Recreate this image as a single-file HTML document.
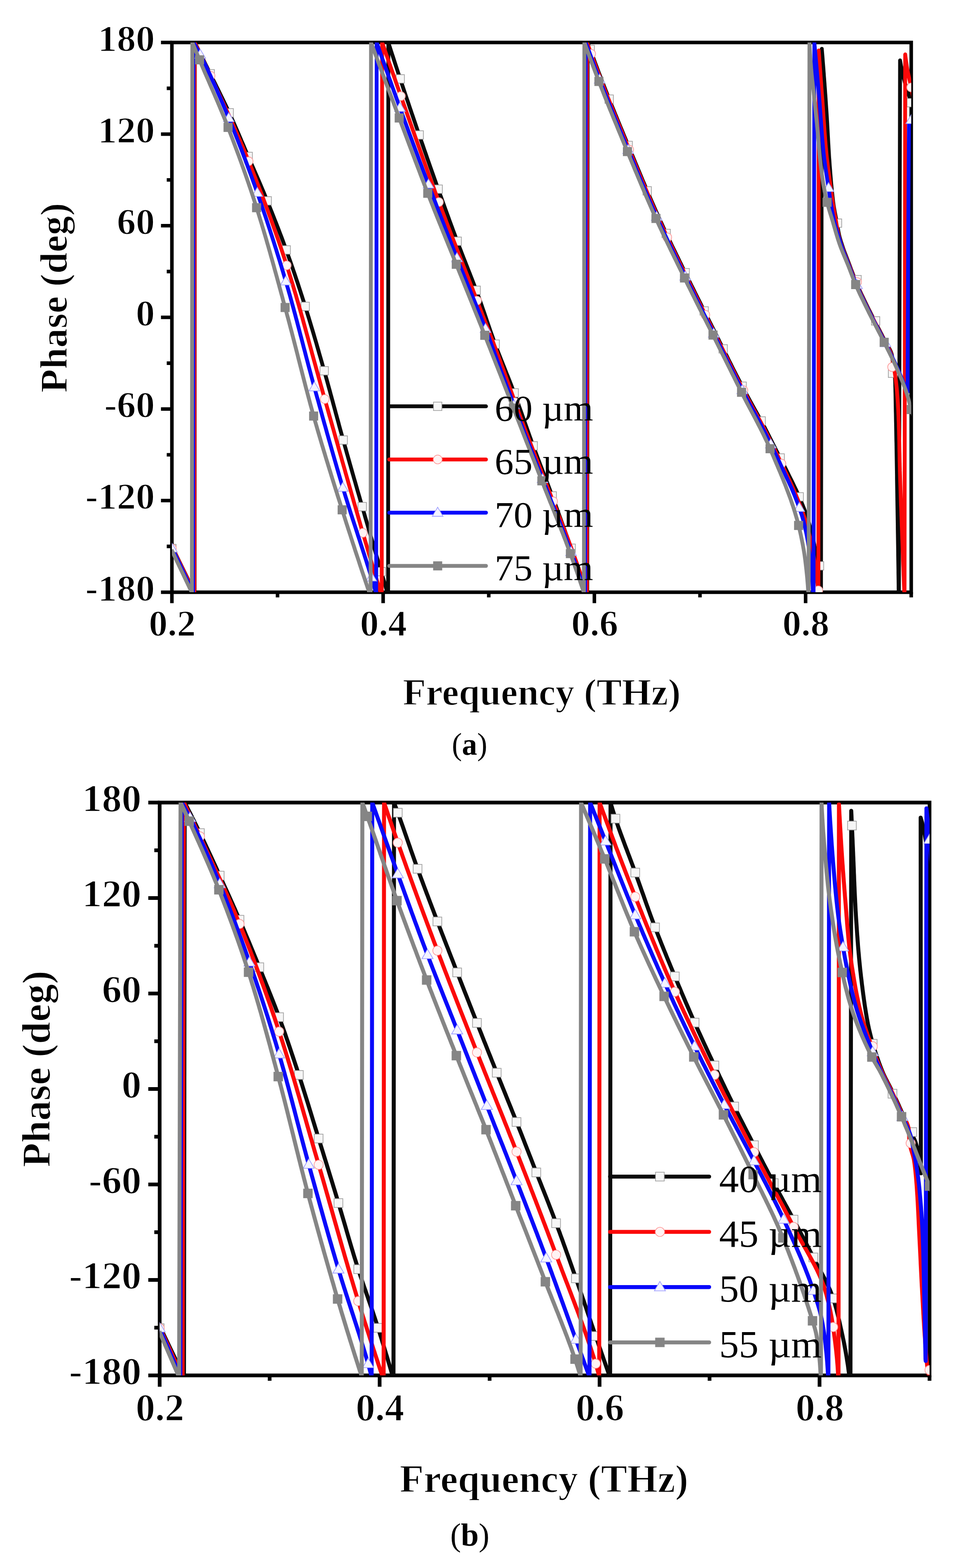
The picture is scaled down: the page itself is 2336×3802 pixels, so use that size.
<!DOCTYPE html>
<html lang="en">
<head>
<meta charset="utf-8">
<title>Phase versus frequency</title>
<style>
html,body{margin:0;padding:0;background:#fff;}
body{width:2336px;height:3802px;overflow:hidden;}
svg{display:block;}
svg text{font-family:"Liberation Serif","DejaVu Serif",serif;}
</style>
</head>
<body>
<svg width="2336" height="3802" viewBox="0 0 2336 3802" role="img" aria-label="Phase versus frequency plots (a) and (b)">
<rect x="0" y="0" width="2336" height="3802" fill="#fff"/>

<g id="plot-a">
<rect x="417" y="103" width="1793.4" height="1333" fill="none" stroke="#000" stroke-width="8.6"/>
<path d="M417 103H390.5 M417 214.1H404.5 M417 325.2H390.5 M417 436.2H404.5 M417 547.3H390.5 M417 658.4H404.5 M417 769.5H390.5 M417 880.6H404.5 M417 991.7H390.5 M417 1102.8H404.5 M417 1213.8H390.5 M417 1324.9H404.5 M417 1436H390.5 M417 1436V1462.5 M673.2 1436V1448.5 M929.4 1436V1462.5 M1185.6 1436V1448.5 M1441.8 1436V1462.5 M1698 1436V1448.5 M1954.2 1436V1462.5 M2210.4 1436V1448.5" stroke="#000" stroke-width="8.6" fill="none"/>
<clipPath id="clip-a"><rect x="417" y="103" width="1793.4" height="1333"/></clipPath>
<g clip-path="url(#clip-a)">
<path d="M419.5 1330 L471.5 1436 L472 1436 L472.5 103 L472.5 103 L475.2 108.4 L477.9 113.8 L480.5 119.2 L483.2 124.6 L485.9 130 L488.5 135.4 L491.2 140.8 L493.9 146.2 L496.5 151.6 L499.2 157 L501.9 162.4 L504.5 167.8 L507.2 173.2 L509.8 178.6 L510 179 L512.5 184 L515.1 189.4 L517.8 194.8 L520.5 200.2 L523.2 205.6 L525.8 211 L528.5 216.4 L531.2 221.8 L533.8 227.2 L536.5 232.7 L539.1 238.1 L541.8 243.5 L544.4 248.9 L547 254.3 L549.6 259.8 L552.2 265.2 L554.7 270.7 L556 273.5 L557.2 276.1 L559.7 281.6 L562.2 287.1 L564.6 292.6 L567.1 298.1 L569.5 303.6 L571.9 309.1 L574.3 314.7 L576.7 320.2 L579.1 325.7 L581.5 331.3 L583.9 336.8 L586.2 342.4 L588.6 347.9 L591 353.4 L593.3 359 L595.7 364.5 L598.1 370.1 L600.5 375.6 L601.5 378 L602.8 381.1 L605.2 386.6 L607.6 392.2 L610 397.7 L612.4 403.2 L614.9 408.7 L617.3 414.3 L619.7 419.8 L622.1 425.3 L624.5 430.8 L626.9 436.4 L629.2 441.9 L631.6 447.4 L634 453 L636.3 458.5 L638.7 464.1 L641 469.6 L643.3 475.2 L645.6 480.8 L647.9 486.3 L649 489 L650.2 491.9 L652.4 497.5 L654.7 503.1 L656.9 508.7 L659.2 514.3 L661.4 519.9 L663.6 525.5 L665.8 531.1 L668 536.7 L670.2 542.3 L672.4 547.9 L674.6 553.5 L676.8 559.1 L678.9 564.8 L681.1 570.4 L683.2 576 L685.3 581.7 L687.4 587.3 L689.5 593 L691.6 598.6 L693.6 604.3 L695.7 609.9 L696.3 611.7 L697.7 615.6 L699.7 621.3 L701.7 627 L703.7 632.6 L705.7 638.3 L707.7 644 L709.7 649.7 L711.6 655.4 L713.6 661.1 L715.5 666.8 L717.4 672.5 L719.3 678.2 L721.3 684 L723.2 689.7 L725 695.4 L726.9 701.1 L728.8 706.9 L730.6 712.6 L732.5 718.3 L734.3 724.1 L736.2 729.8 L738 735.5 L739.8 741.3 L741.6 747 L741.9 747.9 L743.4 752.8 L745.2 758.5 L747 764.3 L748.8 770 L750.5 775.8 L752.3 781.6 L754 787.3 L755.7 793.1 L757.5 798.9 L759.2 804.6 L760.9 810.4 L762.6 816.2 L764.3 822 L766 827.8 L767.7 833.5 L769.3 839.3 L771 845.1 L772.7 850.9 L774.3 856.7 L776 862.5 L777.7 868.3 L779.3 874.1 L781 879.9 L782.6 885.7 L784.3 891.5 L785.9 897.3 L786.7 900 L787.6 903 L789.2 908.8 L790.8 914.6 L792.5 920.4 L794.1 926.2 L795.7 932.1 L797.3 937.9 L798.9 943.7 L800.5 949.5 L802 955.3 L803.6 961.1 L805.2 966.9 L806.8 972.7 L808.3 978.5 L809.9 984.4 L811.5 990.2 L813.1 996 L814.6 1001.8 L816.2 1007.6 L817.8 1013.4 L819.4 1019.3 L821 1025.1 L822.5 1030.9 L824.1 1036.7 L825.7 1042.5 L827.3 1048.3 L828.9 1054.1 L830.5 1059.9 L831.6 1063.7 L832.2 1065.7 L833.8 1071.5 L835.4 1077.3 L837 1083.1 L838.7 1088.9 L840.3 1094.7 L841.9 1100.5 L843.6 1106.3 L845.2 1112.1 L846.9 1117.9 L848.5 1123.7 L850.2 1129.5 L851.8 1135.3 L853.5 1141.1 L855.1 1146.9 L856.8 1152.7 L858.4 1158.4 L860.1 1164.2 L861.8 1170 L863.4 1175.8 L865.1 1181.6 L866.7 1187.4 L868.4 1193.2 L870.1 1199 L871.8 1204.8 L873.4 1210.6 L875.1 1216.3 L876.8 1222.1 L878 1226.4 L878.4 1227.9 L880.1 1233.7 L881.8 1239.5 L883.5 1245.3 L885.1 1251.1 L886.8 1256.8 L888.5 1262.6 L890.2 1268.4 L891.9 1274.2 L893.5 1280 L895.2 1285.8 L896.9 1291.5 L898.6 1297.3 L900.3 1303.1 L902 1308.9 L903.7 1314.7 L905.4 1320.5 L907.1 1326.2 L908.8 1332 L910.5 1337.8 L912.1 1343.6 L913.8 1349.4 L915.5 1355.1 L917.2 1360.9 L919 1366.7 L920.7 1372.5 L922.4 1378.2 L924.1 1384 L925.8 1389.8 L927.5 1395.6 L929.2 1401.4 L930.9 1407.1 L932.6 1412.9 L934.3 1418.7 L936.1 1424.5 L937.8 1430.2 L939.5 1436 L941.5 1436 L942 103 L942 103 L943.8 108.7 L945.7 114.4 L947.5 120.2 L949.4 125.9 L951.2 131.6 L953.1 137.3 L954.9 143 L956.8 148.7 L958.6 154.4 L960.5 160.1 L962.4 165.9 L964.3 171.6 L966.1 177.3 L968 183 L969.9 188.7 L971.8 194.4 L972 195 L973.7 200.1 L975.6 205.8 L977.5 211.5 L979.4 217.2 L981.3 222.9 L983.2 228.6 L985.1 234.3 L987 239.9 L989 245.6 L990.9 251.3 L992.8 257 L994.7 262.7 L996.7 268.4 L998.6 274.1 L1000.6 279.8 L1002.5 285.5 L1004.4 291.1 L1006.4 296.8 L1008.3 302.5 L1010.3 308.2 L1012.2 313.9 L1014.2 319.5 L1016.1 325.2 L1018.1 330.9 L1018.9 333.2 L1020.1 336.6 L1022 342.3 L1024 347.9 L1026 353.6 L1027.9 359.3 L1029.9 365 L1031.9 370.6 L1033.9 376.3 L1035.8 382 L1037.8 387.6 L1039.8 393.3 L1041.8 399 L1043.8 404.7 L1045.8 410.3 L1047.8 416 L1049.8 421.6 L1051.8 427.3 L1053.8 433 L1055.8 438.6 L1057.8 444.3 L1059.8 449.9 L1061.9 455.6 L1063.9 461.3 L1064.5 463 L1065.9 466.9 L1067.9 472.6 L1070 478.2 L1072 483.9 L1074 489.5 L1076.1 495.2 L1078.1 500.8 L1080.2 506.5 L1082.2 512.1 L1084.3 517.8 L1086.3 523.4 L1088.4 529.1 L1090.4 534.7 L1092.5 540.3 L1094.6 546 L1096.7 551.6 L1098.7 557.3 L1100.8 562.9 L1102.9 568.5 L1105 574.1 L1107.1 579.8 L1109.2 585.4 L1110.2 588 L1111.3 591 L1113.5 596.6 L1115.6 602.2 L1117.8 607.8 L1119.9 613.4 L1122.1 619 L1124.3 624.6 L1126.5 630.2 L1128.7 635.8 L1130.9 641.4 L1133.1 647 L1135.3 652.6 L1137.5 658.2 L1139.7 663.8 L1141.9 669.4 L1144.1 675 L1146.3 680.6 L1148.4 686.2 L1150.6 691.8 L1152.7 697.4 L1154.8 703 L1156.9 708.6 L1157.8 711 L1159 714.3 L1161.1 719.9 L1163.1 725.6 L1165.1 731.2 L1167.1 736.9 L1169.1 742.6 L1171 748.2 L1173 753.9 L1175 759.6 L1176.9 765.3 L1178.9 771 L1180.8 776.7 L1182.7 782.3 L1184.7 788 L1186.7 793.7 L1188.6 799.4 L1190.6 805 L1192.6 810.7 L1194.6 816.4 L1196.6 822 L1198.7 827.7 L1200.7 833.3 L1201 834 L1202.8 838.9 L1205 844.6 L1207.1 850.2 L1209.2 855.8 L1211.4 861.4 L1213.6 867 L1215.8 872.6 L1218 878.1 L1220.2 883.7 L1222.5 889.3 L1224.7 894.9 L1226.9 900.5 L1229.1 906.1 L1231.4 911.6 L1233.6 917.2 L1235.8 922.8 L1238 928.4 L1240.2 934 L1242.3 939.6 L1244.5 945.2 L1246.6 950.8 L1248 954.5 L1248.7 956.4 L1250.8 962.1 L1252.9 967.7 L1254.9 973.4 L1257 979 L1259 984.7 L1261.1 990.3 L1263.1 996 L1265.1 1001.6 L1267.1 1007.3 L1269.1 1013 L1271.1 1018.6 L1273.1 1024.3 L1275.1 1030 L1277.1 1035.6 L1279.1 1041.3 L1281.1 1046.9 L1283.1 1052.6 L1285.1 1058.3 L1287.2 1063.9 L1289.2 1069.6 L1291.2 1075.2 L1293.3 1080.9 L1293.7 1081.9 L1295.4 1086.5 L1297.5 1092.1 L1299.6 1097.7 L1301.7 1103.4 L1303.8 1109 L1306 1114.6 L1308.1 1120.2 L1310.2 1125.8 L1312.4 1131.4 L1314.5 1137 L1316.7 1142.7 L1318.9 1148.3 L1321 1153.9 L1323.2 1159.5 L1325.3 1165.1 L1327.4 1170.7 L1329.6 1176.3 L1331.7 1181.9 L1333.8 1187.5 L1336 1193.2 L1338.1 1198.8 L1340 1204 L1340.2 1204.4 L1342.2 1210.1 L1344.3 1215.7 L1346.4 1221.3 L1348.5 1227 L1350.5 1232.6 L1352.6 1238.3 L1354.7 1243.9 L1356.7 1249.5 L1358.8 1255.2 L1360.8 1260.8 L1362.8 1266.5 L1364.9 1272.1 L1366.9 1277.8 L1369 1283.4 L1371 1289.1 L1373 1294.7 L1375.1 1300.4 L1377.1 1306 L1379.2 1311.7 L1381.2 1317.3 L1383.2 1323 L1385.3 1328.6 L1387 1333.4 L1387.3 1334.3 L1389.4 1339.9 L1391.4 1345.6 L1393.4 1351.2 L1395.5 1356.9 L1397.5 1362.5 L1399.6 1368.2 L1401.6 1373.8 L1403.6 1379.5 L1405.7 1385.1 L1407.7 1390.8 L1409.8 1396.4 L1411.8 1402.1 L1413.8 1407.7 L1415.9 1413.4 L1417.9 1419 L1419.9 1424.7 L1422 1430.3 L1424 1436 L1424.5 1436 L1425.5 103 L1425.5 103 L1427.5 108.7 L1429.6 114.3 L1431.7 120 L1433.7 125.6 L1435.8 131.2 L1437.9 136.9 L1440 142.5 L1442.1 148.1 L1444.2 153.8 L1446.3 159.4 L1446.9 161 L1448.4 165 L1450.5 170.6 L1452.7 176.3 L1454.8 181.9 L1457 187.5 L1459.1 193.1 L1461.3 198.7 L1463.5 204.3 L1465.7 209.9 L1467.9 215.5 L1469.2 218.9 L1470.1 221.1 L1472.3 226.7 L1474.5 232.3 L1476.7 237.9 L1479 243.4 L1481.2 249 L1483.4 254.6 L1485.7 260.2 L1488 265.7 L1490.2 271.3 L1492.5 276.9 L1492.5 276.9 L1494.8 282.4 L1497 288 L1499.3 293.6 L1501.6 299.1 L1503.9 304.7 L1506.2 310.2 L1508.5 315.8 L1510.8 321.3 L1513.1 326.9 L1515.4 332.5 L1516.4 334.8 L1517.7 338 L1520 343.6 L1522.3 349.1 L1524.6 354.7 L1526.9 360.2 L1529.2 365.8 L1531.5 371.3 L1533.9 376.9 L1536.2 382.4 L1538.5 387.9 L1540.5 392.8 L1540.8 393.5 L1543.1 399 L1545.4 404.6 L1547.7 410.1 L1550.1 415.7 L1552.4 421.2 L1554.7 426.8 L1557 432.3 L1559.3 437.9 L1561.7 443.4 L1564 448.9 L1564.8 450.7 L1566.4 454.5 L1568.7 460 L1571.1 465.5 L1573.4 471.1 L1575.8 476.6 L1578.2 482.1 L1580.6 487.6 L1583 493.1 L1585.4 498.7 L1587.8 504.2 L1589.8 508.7 L1590.2 509.7 L1592.7 515.1 L1595.1 520.6 L1597.6 526.1 L1600.1 531.6 L1602.6 537.1 L1605.1 542.5 L1607.6 548 L1610.1 553.4 L1612.6 558.9 L1615.2 564.3 L1616.3 566.7 L1617.7 569.8 L1620.3 575.2 L1622.9 580.6 L1625.5 586.1 L1628.1 591.5 L1630.7 596.9 L1633.3 602.3 L1636 607.7 L1638.6 613.1 L1641.2 618.5 L1643.9 623.9 L1644.2 624.6 L1646.5 629.3 L1649.1 634.7 L1651.8 640.1 L1654.4 645.5 L1657 650.9 L1659.7 656.3 L1662.3 661.7 L1665 667.1 L1667.7 672.5 L1670.3 677.9 L1672.6 682.6 L1673 683.3 L1675.6 688.7 L1678.3 694.1 L1681 699.4 L1683.7 704.8 L1686.3 710.2 L1689 715.6 L1691.7 721 L1694.4 726.4 L1697.1 731.7 L1699.8 737.1 L1701.5 740.5 L1702.4 742.5 L1705.1 747.9 L1707.8 753.2 L1710.5 758.6 L1713.2 764 L1715.9 769.3 L1718.6 774.7 L1721.3 780.1 L1724 785.4 L1726.7 790.8 L1729.4 796.2 L1730.6 798.5 L1732.1 801.6 L1734.8 806.9 L1737.5 812.3 L1740.2 817.7 L1742.9 823.1 L1745.5 828.5 L1748.2 833.8 L1750.9 839.2 L1753.6 844.6 L1756.3 850 L1759 855.4 L1759.5 856.4 L1761.7 860.7 L1764.4 866.1 L1767 871.5 L1769.7 876.9 L1772.4 882.2 L1775.1 887.6 L1777.8 893 L1780.5 898.3 L1783.3 903.7 L1786 909 L1788.8 914.4 L1788.8 914.4 L1791.5 919.7 L1794.3 925 L1797.1 930.4 L1799.9 935.7 L1802.7 941 L1805.5 946.3 L1808.4 951.6 L1811.2 956.9 L1814.1 962.2 L1816.9 967.5 L1819.5 972.3 L1819.8 972.8 L1822.7 978.1 L1825.6 983.3 L1828.5 988.6 L1831.4 993.8 L1834.4 999.1 L1837.3 1004.3 L1840.2 1009.6 L1843.2 1014.8 L1846.1 1020.1 L1848.9 1025.4 L1851.6 1030.3 L1851.8 1030.7 L1854.6 1036 L1857.3 1041.3 L1860.1 1046.7 L1862.8 1052 L1865.5 1057.4 L1868.2 1062.8 L1870.9 1068.1 L1873.6 1073.5 L1876.3 1078.9 L1879 1084.2 L1881.1 1088.3 L1881.7 1089.6 L1884.5 1094.9 L1887.2 1100.3 L1890 1105.6 L1892.7 1111 L1895.5 1116.3 L1898.2 1121.7 L1901 1127 L1903.7 1132.4 L1906.4 1137.7 L1909.1 1143.1 L1910.6 1146.2 L1911.8 1148.5 L1914.4 1153.9 L1917.1 1159.3 L1919.8 1164.7 L1922.5 1170.1 L1925.1 1175.5 L1927.7 1180.9 L1930.3 1186.3 L1932.9 1191.8 L1935.3 1197.2 L1937.7 1202.7 L1938.4 1204.2 L1940.1 1208.2 L1942.4 1213.8 L1944.8 1219.3 L1947.1 1224.9 L1949.3 1230.5 L1951.5 1236.1 L1953.6 1241.7 L1955.7 1247.4 L1957.7 1253.1 L1959.5 1258.8 L1960.6 1262.1 L1961.3 1264.5 L1963 1270.2 L1964.6 1276 L1966.2 1281.8 L1967.7 1287.7 L1969.1 1293.5 L1970.6 1299.4 L1971.9 1305.2 L1973.2 1311.1 L1974.4 1317 L1975.1 1320.1 L1975.6 1322.9 L1976.8 1328.8 L1977.9 1334.7 L1979 1340.6 L1980 1346.5 L1981 1352.4 L1982 1358.4 L1982.9 1364.3 L1983.7 1370.3 L1984.6 1376.2 L1984.8 1378 L1985.3 1382.2 L1986.1 1388.1 L1986.8 1394.1 L1987.5 1400.1 L1988.2 1406.1 L1988.8 1412 L1989.4 1418 L1990 1424 L1990.5 1430 L1991 1436 L1991.5 1436 L1993.5 118.5 L1993.5 118.5 L1994 124.5 L1994.5 130.5 L1995 136.5 L1995.5 142.5 L1995.9 148.5 L1996.4 154.5 L1996.9 160.5 L1997.4 166.5 L1997.8 172.5 L1998.3 178.5 L1998.7 184.5 L1999.2 190.5 L1999.6 196.5 L2000.1 202.5 L2000.5 208.5 L2001 214.5 L2001.4 220.5 L2001.8 226.5 L2002.3 232.5 L2002.7 238.5 L2003.1 244.5 L2003.5 250.5 L2003.9 256.5 L2004.3 262.5 L2004.5 265 L2004.7 268.5 L2005.1 274.5 L2005.5 280.5 L2005.9 286.5 L2006.2 292.5 L2006.6 298.6 L2006.9 304.6 L2007.2 310.6 L2007.6 316.6 L2007.9 322.6 L2008.2 328.6 L2008.6 334.6 L2008.9 340.6 L2009.2 346.6 L2009.6 352.6 L2009.9 358.6 L2010.3 364.7 L2010.7 370.7 L2011 376.7 L2011.4 382.7 L2011.9 388.7 L2012.3 394.7 L2012.5 397.5 L2012.7 400.7 L2013.2 406.7 L2013.7 412.7 L2014.1 418.7 L2014.6 424.7 L2015.1 430.7 L2015.6 436.7 L2016.1 442.7 L2016.7 448.7 L2017.3 454.7 L2017.8 460.7 L2018.5 466.7 L2019.1 472.6 L2019.8 478.6 L2020.5 484.6 L2021.2 490.5 L2021.5 492.7 L2022 496.5 L2022.9 502.4 L2024 508.4 L2025.1 514.3 L2026.2 520.2 L2027.4 526.1 L2028.6 532 L2029.5 537 L2029.7 537.9 L2030.7 543.9 L2031.7 549.8 L2032.8 555.7 L2033.9 561.7 L2035.1 567.5 L2035.6 570 L2036.4 573.4 L2038 579.2 L2039.7 584.9 L2041.6 590.7 L2043.5 596.4 L2045.4 602.1 L2045.4 602.2 L2047.4 607.8 L2049.5 613.4 L2051.7 619 L2053.9 624.6 L2056.1 630.3 L2057.7 634.4 L2058.2 635.9 L2060.3 641.5 L2062.4 647.2 L2064.5 652.8 L2066.7 658.4 L2068.8 664 L2069.9 666.7 L2071 669.6 L2073.2 675.2 L2075.5 680.8 L2077.7 686.4 L2080 692 L2082.4 697.5 L2083 698.9 L2084.8 703 L2087.3 708.5 L2089.9 713.9 L2092.5 719.3 L2095.1 724.8 L2097.7 730.2 L2098.2 731.1 L2100.3 735.6 L2103 741 L2105.6 746.4 L2108.3 751.8 L2111 757.2 L2113.7 762.6 L2114.1 763.3 L2116.4 767.9 L2119.2 773.3 L2121.9 778.6 L2124.7 784 L2127.5 789.3 L2130.2 794.7 L2130.7 795.6 L2133 800 L2135.7 805.4 L2138.5 810.7 L2141.2 816.1 L2144 821.4 L2146.7 826.8 L2147.2 827.8 L2149.6 832.1 L2152.7 837.4 L2155.9 842.7 L2158.8 848 L2161.3 853.5 L2163.1 859 L2163.3 860 L2164.1 864.8 L2164.9 870.8 L2165.6 876.9 L2166 880 L2166.5 882.8 L2167.7 888.7 L2169 894.6 L2170.1 900.6 L2170.5 905 L2170.6 906.5 L2170.9 912.5 L2171.1 918.5 L2171.4 924.5 L2171.6 930.5 L2171.7 936.5 L2171.9 942.5 L2172 948.5 L2172.2 954.6 L2172.3 960.6 L2172.4 966.6 L2172.5 972.6 L2172.6 978.7 L2172.7 984.7 L2172.8 990.7 L2172.9 996.8 L2173 1000 L2173.1 1002.8 L2173.2 1008.8 L2173.3 1014.8 L2173.4 1020.8 L2173.6 1026.8 L2173.7 1032.9 L2173.8 1038.9 L2173.9 1044.9 L2174 1050.9 L2174.1 1056.9 L2174.2 1062.9 L2174.3 1069 L2174.5 1075 L2174.6 1081 L2174.7 1087 L2174.8 1093 L2174.9 1099 L2175 1105.1 L2175.1 1111.1 L2175.2 1117.1 L2175.3 1123.1 L2175.4 1129.1 L2175.5 1135.1 L2175.6 1141.2 L2175.7 1147.2 L2175.8 1153.2 L2175.8 1159.2 L2175.9 1165.2 L2176 1171.3 L2176.1 1177.3 L2176.2 1183.3 L2176.3 1189.3 L2176.4 1195.3 L2176.5 1200 L2176.5 1201.3 L2176.6 1207.4 L2176.7 1213.4 L2176.8 1219.4 L2176.9 1225.4 L2177 1231.4 L2177.1 1237.4 L2177.2 1243.5 L2177.3 1249.5 L2177.4 1255.5 L2177.5 1261.5 L2177.6 1267.5 L2177.7 1273.5 L2177.7 1279.6 L2177.8 1285.6 L2177.9 1291.6 L2178 1297.6 L2178.1 1303.6 L2178.2 1309.6 L2178.3 1315.7 L2178.4 1321.7 L2178.5 1327.7 L2178.6 1333.7 L2178.7 1339.7 L2178.7 1345.7 L2178.8 1351.8 L2178.9 1357.8 L2179 1363.8 L2179.1 1369.8 L2179.2 1375.8 L2179.3 1381.8 L2179.3 1387.9 L2179.4 1393.9 L2179.5 1399.9 L2179.6 1405.9 L2179.7 1411.9 L2179.8 1417.9 L2179.8 1424 L2179.9 1430 L2180 1436 L2180.6 1436 L2183.3 146.5 L2183.3 146.5 L2184.4 152.6 L2185.5 158.7 L2186.8 164.8 L2188 170.9 L2189.4 176.9 L2190.8 182.9 L2192.2 189 L2193.7 195 L2195 200 L2195.2 200.9 L2196.9 206.9 L2198.7 212.8 L2200.6 218.7 L2202.5 224.6 L2204.5 230.5 L2206.4 236.4 L2208.3 242.3 L2210.2 248.2 L2210.4 249 L2211.9 254.1 L2213.6 260.1 L2215.3 266 L2217 272" fill="none" stroke="#0a0a0a" stroke-width="9.3" stroke-linejoin="round"/>
<rect x="406.8" y="1319.8" width="20.4" height="20.4" fill="#f6f6f6" stroke="#9a9a9a" stroke-width="1.6"/>
<rect x="499.7" y="168.6" width="20.4" height="20.4" fill="#f6f6f6" stroke="#9a9a9a" stroke-width="1.6"/>
<rect x="545.8" y="263.3" width="20.4" height="20.4" fill="#f6f6f6" stroke="#9a9a9a" stroke-width="1.6"/>
<rect x="591.9" y="369.2" width="20.4" height="20.4" fill="#f6f6f6" stroke="#9a9a9a" stroke-width="1.6"/>
<rect x="638" y="476.8" width="20.4" height="20.4" fill="#f6f6f6" stroke="#9a9a9a" stroke-width="1.6"/>
<rect x="684.1" y="595.8" width="20.4" height="20.4" fill="#f6f6f6" stroke="#9a9a9a" stroke-width="1.6"/>
<rect x="730.1" y="732.7" width="20.4" height="20.4" fill="#f6f6f6" stroke="#9a9a9a" stroke-width="1.6"/>
<rect x="776.2" y="888.8" width="20.4" height="20.4" fill="#f6f6f6" stroke="#9a9a9a" stroke-width="1.6"/>
<rect x="822.3" y="1056.8" width="20.4" height="20.4" fill="#f6f6f6" stroke="#9a9a9a" stroke-width="1.6"/>
<rect x="868.4" y="1218.3" width="20.4" height="20.4" fill="#f6f6f6" stroke="#9a9a9a" stroke-width="1.6"/>
<rect x="914.5" y="1375.9" width="20.4" height="20.4" fill="#f6f6f6" stroke="#9a9a9a" stroke-width="1.6"/>
<rect x="960.6" y="181.1" width="20.4" height="20.4" fill="#f6f6f6" stroke="#9a9a9a" stroke-width="1.6"/>
<rect x="1006.7" y="317.1" width="20.4" height="20.4" fill="#f6f6f6" stroke="#9a9a9a" stroke-width="1.6"/>
<rect x="1052.7" y="448.5" width="20.4" height="20.4" fill="#f6f6f6" stroke="#9a9a9a" stroke-width="1.6"/>
<rect x="1098.8" y="574.7" width="20.4" height="20.4" fill="#f6f6f6" stroke="#9a9a9a" stroke-width="1.6"/>
<rect x="1144.9" y="693.6" width="20.4" height="20.4" fill="#f6f6f6" stroke="#9a9a9a" stroke-width="1.6"/>
<rect x="1191" y="824.3" width="20.4" height="20.4" fill="#f6f6f6" stroke="#9a9a9a" stroke-width="1.6"/>
<rect x="1237.1" y="942.4" width="20.4" height="20.4" fill="#f6f6f6" stroke="#9a9a9a" stroke-width="1.6"/>
<rect x="1283.2" y="1070.8" width="20.4" height="20.4" fill="#f6f6f6" stroke="#9a9a9a" stroke-width="1.6"/>
<rect x="1329.3" y="1192.3" width="20.4" height="20.4" fill="#f6f6f6" stroke="#9a9a9a" stroke-width="1.6"/>
<rect x="1375.3" y="1319.2" width="20.4" height="20.4" fill="#f6f6f6" stroke="#9a9a9a" stroke-width="1.6"/>
<rect x="1421.4" y="109.7" width="20.4" height="20.4" fill="#f6f6f6" stroke="#9a9a9a" stroke-width="1.6"/>
<rect x="1467.5" y="230.2" width="20.4" height="20.4" fill="#f6f6f6" stroke="#9a9a9a" stroke-width="1.6"/>
<rect x="1513.6" y="342.5" width="20.4" height="20.4" fill="#f6f6f6" stroke="#9a9a9a" stroke-width="1.6"/>
<rect x="1559.7" y="452.5" width="20.4" height="20.4" fill="#f6f6f6" stroke="#9a9a9a" stroke-width="1.6"/>
<rect x="1605.8" y="555.8" width="20.4" height="20.4" fill="#f6f6f6" stroke="#9a9a9a" stroke-width="1.6"/>
<rect x="1651.9" y="651" width="20.4" height="20.4" fill="#f6f6f6" stroke="#9a9a9a" stroke-width="1.6"/>
<rect x="1697.9" y="743.7" width="20.4" height="20.4" fill="#f6f6f6" stroke="#9a9a9a" stroke-width="1.6"/>
<rect x="1744" y="835.7" width="20.4" height="20.4" fill="#f6f6f6" stroke="#9a9a9a" stroke-width="1.6"/>
<rect x="1790.1" y="926.3" width="20.4" height="20.4" fill="#f6f6f6" stroke="#9a9a9a" stroke-width="1.6"/>
<rect x="1836.2" y="1010.5" width="20.4" height="20.4" fill="#f6f6f6" stroke="#9a9a9a" stroke-width="1.6"/>
<rect x="1882.3" y="1100.3" width="20.4" height="20.4" fill="#f6f6f6" stroke="#9a9a9a" stroke-width="1.6"/>
<rect x="1928.4" y="1194.5" width="20.4" height="20.4" fill="#f6f6f6" stroke="#9a9a9a" stroke-width="1.6"/>
<rect x="1977.8" y="1361.8" width="20.4" height="20.4" fill="#f6f6f6" stroke="#9a9a9a" stroke-width="1.6"/>
<rect x="2021.3" y="530.8" width="20.4" height="20.4" fill="#f6f6f6" stroke="#9a9a9a" stroke-width="1.6"/>
<rect x="2068.8" y="667.8" width="20.4" height="20.4" fill="#f6f6f6" stroke="#9a9a9a" stroke-width="1.6"/>
<rect x="2113.8" y="767.8" width="20.4" height="20.4" fill="#f6f6f6" stroke="#9a9a9a" stroke-width="1.6"/>
<rect x="2154.8" y="894.8" width="20.4" height="20.4" fill="#f6f6f6" stroke="#9a9a9a" stroke-width="1.6"/>
<rect x="2200.2" y="238.8" width="20.4" height="20.4" fill="#f6f6f6" stroke="#9a9a9a" stroke-width="1.6"/>
<path d="M419 1330 L471 1436 L471.5 1436 L472 103 L472 103 L474.7 108.4 L477.3 113.8 L479.9 119.2 L482.6 124.7 L485.2 130.1 L487.9 135.5 L490.5 140.9 L493.1 146.3 L495.7 151.8 L498.3 157.2 L500.9 162.7 L503.5 168.1 L506 173.6 L508.6 179 L509.5 181 L511.1 184.5 L513.7 189.9 L516.2 195.4 L518.7 200.9 L521.3 206.3 L523.8 211.8 L526.4 217.3 L528.9 222.7 L531.5 228.2 L534 233.7 L536.5 239.1 L539 244.6 L541.6 250.1 L544.1 255.6 L546.6 261 L549.1 266.5 L551.6 272 L554.1 277.5 L556.6 283 L559.1 288.5 L561.6 294 L564 299.5 L566.5 305 L568.9 310.5 L571.4 316 L573.8 321.5 L576.2 327 L578.6 332.6 L581 338.1 L583.4 343.6 L585.7 349.2 L588.1 354.7 L590.4 360.3 L592.8 365.8 L595.1 371.4 L597.4 376.9 L599.7 382.5 L601.9 388.1 L602.5 389.5 L604.2 393.6 L606.4 399.2 L608.7 404.8 L610.9 410.4 L613.1 416 L615.3 421.6 L617.5 427.2 L619.8 432.8 L621.9 438.4 L624.1 444 L626.3 449.7 L628.5 455.3 L630.7 460.9 L632.8 466.5 L635 472.2 L637.1 477.8 L639.3 483.4 L641.4 489.1 L643.5 494.7 L645.6 500.4 L647.7 506 L649.8 511.7 L651.9 517.4 L654 523 L656.1 528.7 L658.1 534.4 L660.2 540 L662.2 545.7 L664.2 551.4 L666.2 557.1 L668.3 562.8 L670.2 568.4 L672.2 574.1 L674.2 579.8 L676.2 585.5 L678.1 591.2 L680.1 596.9 L682 602.6 L683.9 608.3 L685.8 614 L687.7 619.8 L689.6 625.5 L691.5 631.2 L693.4 636.9 L695.2 642.6 L695.5 643.5 L697.1 648.4 L698.9 654.1 L700.7 659.8 L702.5 665.6 L704.3 671.3 L706.1 677.1 L707.8 682.8 L709.6 688.6 L711.3 694.3 L713 700.1 L714.7 705.9 L716.5 711.6 L718.2 717.4 L719.8 723.2 L721.5 729 L723.2 734.8 L724.9 740.6 L726.5 746.4 L728.2 752.1 L729.8 757.9 L731.4 763.7 L733.1 769.5 L734.7 775.3 L736.3 781.2 L737.9 787 L739.5 792.8 L741.1 798.6 L742.7 804.4 L744.3 810.2 L745.9 816 L747.5 821.8 L749.1 827.7 L750.7 833.5 L752.3 839.3 L753.9 845.1 L755.5 850.9 L757 856.8 L758.6 862.6 L760.2 868.4 L761.8 874.2 L763.4 880 L765 885.8 L766.6 891.7 L768.2 897.5 L769.8 903.3 L771.4 909.1 L773 914.9 L774.6 920.7 L776.2 926.5 L777.8 932.3 L779.4 938.1 L781.1 943.9 L782.7 949.7 L784.3 955.5 L785.6 960 L786 961.3 L787.6 967.1 L789.3 972.9 L790.9 978.7 L792.6 984.5 L794.2 990.3 L795.9 996.1 L797.5 1001.9 L799.1 1007.7 L800.8 1013.5 L802.4 1019.3 L804 1025.1 L805.7 1030.9 L807.3 1036.7 L809 1042.5 L810.6 1048.3 L812.2 1054.1 L813.9 1059.9 L815.5 1065.7 L817.1 1071.5 L818.8 1077.3 L820.4 1083.1 L822 1088.9 L823.7 1094.7 L825.3 1100.5 L827 1106.3 L828.6 1112.1 L830.2 1117.9 L831.9 1123.7 L833.5 1129.5 L835.2 1135.3 L836.8 1141.1 L838.4 1146.9 L840.1 1152.7 L841.7 1158.5 L843.4 1164.3 L845 1170.1 L846.7 1175.8 L848.3 1181.6 L850 1187.4 L851.6 1193.2 L853.3 1199 L854.9 1204.8 L856.6 1210.6 L858.2 1216.4 L859.9 1222.2 L861.6 1228 L863.2 1233.8 L864.9 1239.6 L866.6 1245.4 L868.2 1251.1 L869.9 1256.9 L871.6 1262.7 L873.3 1268.5 L874.9 1274.3 L876.6 1280.1 L878 1284.8 L878.3 1285.9 L880 1291.6 L881.7 1297.4 L883.4 1303.2 L885.1 1309 L886.8 1314.8 L888.5 1320.5 L890.2 1326.3 L891.9 1332.1 L893.6 1337.9 L895.3 1343.7 L897 1349.4 L898.8 1355.2 L900.5 1361 L902.2 1366.8 L903.9 1372.5 L905.7 1378.3 L907.4 1384.1 L909.1 1389.8 L910.8 1395.6 L912.6 1401.4 L914.3 1407.2 L916 1412.9 L917.8 1418.7 L919.5 1424.5 L921.3 1430.2 L923 1436 L926 1436 L927 103 L927 103 L929 108.7 L930.9 114.3 L932.9 120 L934.9 125.7 L936.8 131.4 L938.8 137 L940.8 142.7 L942.7 148.4 L944.7 154 L946.7 159.7 L948.6 165.4 L950.6 171 L952.6 176.7 L954.6 182.4 L956.6 188 L958.6 193.7 L960.5 199.4 L962.5 205 L964.5 210.7 L966.5 216.3 L968.5 222 L970.5 227.7 L972.5 233.3 L973.3 235.6 L974.5 239 L976.5 244.6 L978.5 250.3 L980.5 256 L982.5 261.6 L984.5 267.3 L986.5 272.9 L988.5 278.6 L990.5 284.3 L992.5 289.9 L994.5 295.6 L996.5 301.2 L998.5 306.9 L1000.5 312.6 L1002.5 318.2 L1004.5 323.9 L1006.5 329.5 L1008.5 335.2 L1010.6 340.8 L1012.6 346.5 L1014.6 352.1 L1016.6 357.8 L1018.6 363.4 L1020.6 369.1 L1022.7 374.8 L1024.7 380.4 L1026.7 386.1 L1028.7 391.7 L1030.8 397.3 L1032.8 403 L1034.9 408.6 L1036.9 414.3 L1038.9 419.9 L1041 425.6 L1043 431.2 L1045.1 436.8 L1047.2 442.5 L1049.2 448.1 L1051.3 453.8 L1053.4 459.4 L1055.4 465 L1057.5 470.6 L1059.6 476.3 L1061.7 481.9 L1063.8 487.5 L1064.5 489.5 L1065.9 493.1 L1068 498.8 L1070.1 504.4 L1072.2 510 L1074.3 515.6 L1076.4 521.2 L1078.6 526.8 L1080.7 532.4 L1082.8 538.1 L1085 543.7 L1087.1 549.3 L1089.3 554.9 L1091.4 560.5 L1093.6 566.1 L1095.8 571.7 L1097.9 577.3 L1100.1 582.9 L1102.3 588.4 L1104.5 594 L1106.6 599.6 L1108.8 605.2 L1111 610.8 L1113.2 616.4 L1115.4 622 L1117.6 627.6 L1119.7 633.2 L1121.9 638.8 L1124.1 644.4 L1126.3 649.9 L1128.5 655.5 L1130.7 661.1 L1132.9 666.7 L1135.1 672.3 L1137.2 677.9 L1139.4 683.5 L1141.6 689.1 L1143.8 694.7 L1146 700.3 L1148.1 705.9 L1150.3 711.5 L1152.5 717.1 L1154.6 722.6 L1156.8 728.2 L1157.8 730.8 L1159 733.8 L1161.1 739.4 L1163.3 745 L1165.5 750.6 L1167.7 756.2 L1169.8 761.8 L1172 767.4 L1174.2 773 L1176.4 778.6 L1178.6 784.2 L1180.7 789.8 L1182.9 795.4 L1185.1 801 L1187.2 806.6 L1189.4 812.2 L1191.6 817.8 L1193.7 823.4 L1195.9 829 L1198 834.6 L1200.1 840.2 L1202.3 845.8 L1204.4 851.4 L1206.5 857 L1207.6 860 L1208.6 862.7 L1210.7 868.3 L1212.7 873.9 L1214.8 879.6 L1216.8 885.2 L1218.9 890.8 L1220.9 896.5 L1223 902.1 L1225 907.8 L1227 913.4 L1229 919.1 L1231.1 924.7 L1233.1 930.4 L1235.1 936 L1237.2 941.7 L1237.4 942.3 L1239.2 947.3 L1241.3 953 L1243.3 958.6 L1245.3 964.3 L1247.4 969.9 L1249.4 975.5 L1251.5 981.2 L1253.5 986.8 L1255.5 992.5 L1257.6 998.1 L1259.7 1003.8 L1261.7 1009.4 L1263.8 1015 L1265.9 1020.6 L1267.4 1024.6 L1268 1026.3 L1270.1 1031.9 L1272.2 1037.5 L1274.4 1043.1 L1276.5 1048.7 L1278.7 1054.3 L1280.8 1059.9 L1283 1065.5 L1285.2 1071.1 L1287.3 1076.7 L1289.5 1082.3 L1291.7 1087.9 L1293.9 1093.5 L1296 1099.1 L1298.2 1104.7 L1299.1 1106.9 L1300.4 1110.3 L1302.6 1115.9 L1304.7 1121.5 L1306.9 1127.1 L1309.1 1132.6 L1311.3 1138.2 L1313.4 1143.8 L1315.6 1149.4 L1317.8 1155 L1320 1160.6 L1322.2 1166.2 L1324.4 1171.8 L1326.6 1177.4 L1328.7 1183 L1330.9 1188.5 L1331.2 1189.1 L1333.1 1194.1 L1335.4 1199.7 L1337.6 1205.3 L1339.8 1210.9 L1342 1216.4 L1344.2 1222 L1346.5 1227.6 L1348.7 1233.2 L1350.9 1238.7 L1353.1 1244.3 L1355.3 1249.9 L1357.6 1255.5 L1359.7 1261.1 L1361.9 1266.6 L1363.8 1271.4 L1364.1 1272.2 L1366.3 1277.8 L1368.4 1283.4 L1370.6 1289 L1372.8 1294.6 L1374.9 1300.2 L1377.1 1305.8 L1379.2 1311.4 L1381.3 1317.1 L1383.5 1322.7 L1385.6 1328.3 L1387.7 1333.9 L1389.8 1339.5 L1391.8 1345.2 L1393.9 1350.8 L1394.9 1353.7 L1395.9 1356.5 L1397.9 1362.1 L1399.9 1367.8 L1401.9 1373.4 L1403.9 1379.1 L1405.9 1384.8 L1407.8 1390.4 L1409.8 1396.1 L1411.7 1401.8 L1413.6 1407.5 L1415.5 1413.2 L1417.4 1418.9 L1419.3 1424.6 L1421.1 1430.3 L1423 1436 L1423.5 1436 L1424 103 L1424 103 L1426 108.6 L1428.1 114.3 L1430.1 119.9 L1432.2 125.6 L1434.3 131.2 L1436.3 136.8 L1438.4 142.5 L1440.5 148.1 L1442.6 153.7 L1444.7 159.3 L1445.3 161 L1446.8 165 L1449 170.6 L1451.1 176.2 L1453.2 181.8 L1455.4 187.4 L1457.5 193 L1459.7 198.6 L1461.9 204.2 L1464 209.8 L1466.2 215.4 L1467.6 218.9 L1468.4 221 L1470.6 226.5 L1472.8 232.1 L1475.1 237.7 L1477.3 243.3 L1479.5 248.8 L1481.8 254.4 L1484 260 L1486.3 265.5 L1488.5 271.1 L1490.8 276.7 L1490.9 276.9 L1493.1 282.2 L1495.3 287.8 L1497.6 293.3 L1499.9 298.9 L1502.2 304.4 L1504.5 310 L1506.7 315.5 L1509 321.1 L1511.3 326.6 L1513.6 332.2 L1514.7 334.8 L1515.9 337.7 L1518.2 343.3 L1520.5 348.8 L1522.8 354.3 L1525.1 359.9 L1527.4 365.4 L1529.7 371 L1532.1 376.5 L1534.4 382.1 L1536.7 387.6 L1538.8 392.8 L1539 393.1 L1541.3 398.7 L1543.6 404.2 L1545.9 409.8 L1548.2 415.3 L1550.5 420.8 L1552.8 426.4 L1555.1 431.9 L1557.5 437.5 L1559.8 443 L1562.1 448.5 L1563.1 450.7 L1564.5 454 L1566.8 459.6 L1569.2 465.1 L1571.5 470.6 L1573.9 476.1 L1576.2 481.6 L1578.6 487.2 L1581 492.7 L1583.4 498.2 L1585.8 503.7 L1588 508.7 L1588.2 509.2 L1590.7 514.6 L1593.1 520.1 L1595.6 525.6 L1598.1 531.1 L1600.6 536.5 L1603.1 542 L1605.6 547.4 L1608.1 552.9 L1610.6 558.3 L1613.1 563.8 L1614.5 566.7 L1615.7 569.2 L1618.2 574.6 L1620.8 580.1 L1623.4 585.5 L1626 590.9 L1628.6 596.3 L1631.2 601.7 L1633.9 607.1 L1636.5 612.5 L1639.1 617.9 L1641.7 623.3 L1642.4 624.6 L1644.3 628.7 L1647 634.1 L1649.6 639.5 L1652.2 644.9 L1654.9 650.3 L1657.5 655.7 L1660.2 661 L1662.8 666.4 L1665.5 671.8 L1668.1 677.2 L1670.8 682.6 L1670.8 682.6 L1673.4 688 L1676.1 693.4 L1678.7 698.7 L1681.4 704.1 L1684.1 709.5 L1686.8 714.9 L1689.4 720.2 L1692.1 725.6 L1694.8 731 L1697.5 736.3 L1699.6 740.5 L1700.2 741.7 L1702.8 747.1 L1705.5 752.4 L1708.2 757.8 L1710.9 763.2 L1713.6 768.5 L1716.3 773.9 L1719 779.3 L1721.7 784.6 L1724.4 790 L1727.1 795.4 L1728.6 798.5 L1729.8 800.7 L1732.5 806.1 L1735.1 811.5 L1737.8 816.8 L1740.5 822.2 L1743.2 827.6 L1745.8 833 L1748.5 838.3 L1751.2 843.7 L1753.9 849.1 L1756.5 854.4 L1757.5 856.4 L1759.2 859.8 L1761.9 865.2 L1764.6 870.6 L1767.3 875.9 L1770 881.3 L1772.6 886.7 L1775.3 892 L1778 897.4 L1780.7 902.7 L1783.5 908.1 L1786.2 913.4 L1786.7 914.4 L1788.9 918.8 L1791.7 924.1 L1794.5 929.4 L1797.2 934.8 L1800 940.1 L1802.8 945.4 L1805.6 950.7 L1808.4 956 L1811.3 961.3 L1814.1 966.6 L1816.9 971.9 L1817.2 972.3 L1819.8 977.2 L1822.6 982.4 L1825.5 987.7 L1828.4 992.9 L1831.4 998.2 L1834.3 1003.4 L1837.2 1008.7 L1840.1 1013.9 L1843 1019.2 L1845.8 1024.5 L1848.6 1029.8 L1848.9 1030.3 L1851.4 1035.1 L1854.2 1040.5 L1856.9 1045.8 L1859.6 1051.1 L1862.3 1056.5 L1865 1061.9 L1867.7 1067.2 L1870.3 1072.6 L1873 1078 L1875.7 1083.4 L1878.1 1088.3 L1878.3 1088.8 L1881 1094.2 L1883.6 1099.5 L1886.3 1104.9 L1888.9 1110.3 L1891.5 1115.7 L1894.2 1121.1 L1896.8 1126.5 L1899.4 1131.9 L1901.9 1137.4 L1904.5 1142.8 L1906.1 1146.2 L1907.1 1148.2 L1909.6 1153.6 L1912.2 1159.1 L1914.7 1164.5 L1917.3 1170 L1919.8 1175.4 L1922.3 1180.9 L1924.7 1186.4 L1927.1 1191.9 L1929.5 1197.4 L1931.8 1202.9 L1932.3 1204.2 L1934.1 1208.5 L1936.3 1214 L1938.5 1219.6 L1940.7 1225.2 L1942.9 1230.8 L1945 1236.5 L1947 1242.1 L1949 1247.8 L1950.9 1253.5 L1952.8 1259.2 L1953.7 1262.1 L1954.5 1264.9 L1956.2 1270.6 L1957.8 1276.4 L1959.4 1282.2 L1961 1288 L1962.5 1293.8 L1963.9 1299.7 L1965.3 1305.5 L1966.6 1311.4 L1967.9 1317.2 L1968.5 1320.1 L1969.1 1323.1 L1970.3 1329 L1971.4 1334.9 L1972.5 1340.8 L1973.6 1346.7 L1974.6 1352.6 L1975.6 1358.5 L1976.5 1364.5 L1977.4 1370.4 L1978.3 1376.4 L1978.5 1378 L1979.1 1382.3 L1979.9 1388.2 L1980.6 1394.2 L1981.3 1400.2 L1982 1406.1 L1982.7 1412.1 L1983.3 1418.1 L1983.9 1424 L1984.5 1430 L1985 1436 L1985.2 1436 L1986 122.5 L1986 122.5 L1986.4 128.5 L1986.9 134.5 L1987.3 140.5 L1987.7 146.5 L1988.2 152.5 L1988.6 158.4 L1989 164.4 L1989.5 170.4 L1989.9 176.4 L1990.3 182.4 L1990.8 188.4 L1991.2 194.4 L1991.7 200.4 L1992.1 206.4 L1992.5 212.4 L1993 218.4 L1993.4 224.3 L1993.9 230.3 L1994.3 236.3 L1994.5 238.7 L1994.8 242.3 L1995.2 248.3 L1995.6 254.3 L1996.1 260.3 L1996.5 266.3 L1996.9 272.3 L1997.3 278.3 L1997.7 284.3 L1998.1 290.3 L1998.5 296.3 L1999 302.2 L1999.4 308.2 L1999.8 314.2 L2000.2 320.2 L2000.7 326.2 L2001.2 332.2 L2001.6 338.2 L2002.1 344.2 L2002.6 350.2 L2003.1 356.1 L2003.7 362.1 L2004.2 368.1 L2004.5 371 L2004.8 374.1 L2005.4 380 L2006.1 386 L2006.8 392 L2007.5 397.9 L2008.2 403.9 L2009 409.9 L2009.8 415.8 L2010.6 421.8 L2011.4 427.7 L2012.2 433.7 L2013 439.6 L2013.9 445.6 L2014.5 450.4 L2014.7 451.5 L2015.4 457.5 L2016.2 463.4 L2017.1 469.4 L2017.9 475.3 L2018.7 481.3 L2019.6 487.2 L2020.4 493.2 L2021.3 499.1 L2022 503.3 L2022.3 505.1 L2023.3 511 L2024.3 516.9 L2025.4 522.8 L2026.5 528.7 L2027.5 534 L2027.6 534.6 L2028.6 540.5 L2029.6 546.5 L2030.7 552.4 L2031.7 558.3 L2032.9 564.2 L2034.1 570 L2034.1 570.1 L2035.6 575.9 L2037.3 581.6 L2039.1 587.4 L2041 593.1 L2042.9 598.8 L2044.1 602.2 L2044.9 604.4 L2047 610.1 L2049.1 615.7 L2051.4 621.3 L2053.6 626.8 L2055.8 632.4 L2056.6 634.4 L2057.9 638 L2060.1 643.7 L2062.2 649.3 L2064.3 654.9 L2066.5 660.5 L2068.6 666.1 L2068.9 666.7 L2070.8 671.7 L2073 677.3 L2075.3 682.9 L2077.5 688.4 L2079.9 694 L2082 698.9 L2082.2 699.5 L2084.7 705 L2087.2 710.4 L2089.8 715.8 L2092.4 721.3 L2095 726.7 L2097.2 731.1 L2097.6 732.1 L2100.3 737.5 L2102.9 742.9 L2105.6 748.3 L2108.2 753.6 L2110.9 759 L2113.1 763.3 L2113.6 764.4 L2116.3 769.7 L2119.1 775.1 L2121.8 780.4 L2124.6 785.7 L2127.4 791.1 L2129.7 795.6 L2130.1 796.4 L2132.9 801.7 L2135.6 807.1 L2138.4 812.4 L2141.1 817.8 L2143.8 823.1 L2146.2 827.8 L2146.6 828.5 L2149.4 833.8 L2152.5 839.1 L2155.5 844.4 L2158.3 849.7 L2160.7 855.2 L2162.3 860 L2162.5 860.7 L2164 866.5 L2165.3 872.3 L2166.5 878.2 L2167.5 884.2 L2168.5 890.2 L2169.4 896.2 L2169.8 899 L2170.3 902.1 L2171.1 908 L2172 914 L2172.8 919.9 L2173.5 925.9 L2174.2 931.9 L2174.9 937.9 L2175.5 943.8 L2176 949.8 L2176 950 L2176.4 955.8 L2176.9 961.8 L2177.3 967.8 L2177.7 973.8 L2178.1 979.8 L2178.4 985.8 L2178.8 991.8 L2179.1 997.8 L2179.3 1003.8 L2179.6 1009.8 L2179.8 1015.8 L2180 1020 L2180.1 1021.8 L2180.3 1027.8 L2180.4 1033.8 L2180.6 1039.8 L2180.8 1045.8 L2180.9 1051.8 L2181.1 1057.8 L2181.2 1063.8 L2181.4 1069.8 L2181.5 1075.8 L2181.6 1081.8 L2181.7 1087.8 L2181.8 1093.8 L2182 1099.8 L2182.1 1105.8 L2182.2 1111.8 L2182.3 1117.8 L2182.5 1123.9 L2182.6 1129.9 L2182.8 1135.9 L2182.9 1141.9 L2183 1144 L2183.1 1147.9 L2183.3 1153.9 L2183.5 1159.9 L2183.7 1165.9 L2183.9 1171.9 L2184.1 1177.9 L2184.3 1183.9 L2184.5 1189.9 L2184.7 1195.9 L2184.9 1201.9 L2185.1 1207.9 L2185.3 1213.9 L2185.5 1219.9 L2185.7 1225.9 L2186 1231.9 L2186.2 1237.9 L2186.4 1243.9 L2186.6 1249.9 L2186.9 1255.9 L2187.1 1261.9 L2187.3 1267.9 L2187.5 1273.9 L2187.8 1279.9 L2188 1285.9 L2188.2 1291.9 L2188.4 1297.9 L2188.5 1300 L2188.6 1303.9 L2188.9 1309.9 L2189.1 1316 L2189.3 1322 L2189.5 1328 L2189.7 1334 L2189.9 1340 L2190.2 1346 L2190.4 1352 L2190.6 1358 L2190.8 1364 L2191 1370 L2191.3 1376 L2191.5 1382 L2191.7 1388 L2191.9 1394 L2192.2 1400 L2192.4 1406 L2192.6 1412 L2192.8 1418 L2193.1 1424 L2193.3 1430 L2193.5 1436 L2194.2 1436 L2195.8 132 L2195.8 132 L2196.5 138.1 L2197.3 144.1 L2198.2 150.2 L2199.1 156.2 L2200 162.2 L2201 168 L2201 168.3 L2202.1 174.3 L2203.4 180.2 L2204.7 186.2 L2206 192.2 L2207.4 198.1 L2208.7 204.1 L2210 210.1 L2210.4 212 L2211.2 216 L2212.4 222 L2213.6 228 L2214.8 234 L2216 240" fill="none" stroke="#fb0909" stroke-width="9.3" stroke-linejoin="round"/>
<circle cx="417" cy="1330" r="10.7" fill="#fff3f3" stroke="#ff9a9a" stroke-width="1.6"/>
<circle cx="510.8" cy="183.8" r="10.7" fill="#fff3f3" stroke="#ff9a9a" stroke-width="1.6"/>
<circle cx="603.1" cy="391.1" r="10.7" fill="#fff3f3" stroke="#ff9a9a" stroke-width="1.6"/>
<circle cx="695.5" cy="643.4" r="10.7" fill="#fff3f3" stroke="#ff9a9a" stroke-width="1.6"/>
<circle cx="787.8" cy="967.7" r="10.7" fill="#fff3f3" stroke="#ff9a9a" stroke-width="1.6"/>
<circle cx="880.1" cy="1292" r="10.7" fill="#fff3f3" stroke="#ff9a9a" stroke-width="1.6"/>
<circle cx="972.4" cy="233.1" r="10.7" fill="#fff3f3" stroke="#ff9a9a" stroke-width="1.6"/>
<circle cx="1064.7" cy="490.1" r="10.7" fill="#fff3f3" stroke="#ff9a9a" stroke-width="1.6"/>
<circle cx="1157.1" cy="728.9" r="10.7" fill="#fff3f3" stroke="#ff9a9a" stroke-width="1.6"/>
<circle cx="1249.4" cy="975.5" r="10.7" fill="#fff3f3" stroke="#ff9a9a" stroke-width="1.6"/>
<circle cx="1341.7" cy="1215.6" r="10.7" fill="#fff3f3" stroke="#ff9a9a" stroke-width="1.6"/>
<circle cx="1434" cy="130.5" r="10.7" fill="#fff3f3" stroke="#ff9a9a" stroke-width="1.6"/>
<circle cx="1526.3" cy="362.8" r="10.7" fill="#fff3f3" stroke="#ff9a9a" stroke-width="1.6"/>
<circle cx="1618.7" cy="575.5" r="10.7" fill="#fff3f3" stroke="#ff9a9a" stroke-width="1.6"/>
<circle cx="1711" cy="763.3" r="10.7" fill="#fff3f3" stroke="#ff9a9a" stroke-width="1.6"/>
<circle cx="1803.3" cy="946.3" r="10.7" fill="#fff3f3" stroke="#ff9a9a" stroke-width="1.6"/>
<circle cx="1895.6" cy="1124.1" r="10.7" fill="#fff3f3" stroke="#ff9a9a" stroke-width="1.6"/>
<circle cx="1985" cy="1431.5" r="10.7" fill="#fff3f3" stroke="#ff9a9a" stroke-width="1.6"/>
<circle cx="2079" cy="684" r="10.7" fill="#fff3f3" stroke="#ff9a9a" stroke-width="1.6"/>
<circle cx="2164" cy="890" r="10.7" fill="#fff3f3" stroke="#ff9a9a" stroke-width="1.6"/>
<circle cx="2210.4" cy="212" r="10.7" fill="#fff3f3" stroke="#ff9a9a" stroke-width="1.6"/>
<path d="M418 1330 L468 1436 L468.5 1436 L469.5 103 L469.5 103 L472.5 108.2 L475.4 113.5 L478.3 118.7 L481.2 124 L484.1 129.3 L486.8 134.6 L487 135 L489.5 140 L492.2 145.4 L494.8 150.8 L497.5 156.2 L500.1 161.6 L502.7 167 L505.2 172.4 L507.8 177.9 L510.3 183.3 L512.8 188.8 L515.3 194.3 L517.8 199.8 L520.3 205.2 L522.7 210.7 L525.2 216.2 L527.6 221.8 L530 227.3 L532.4 232.8 L534.8 238.3 L537.1 243.9 L539.5 249.4 L541.8 254.9 L544.2 260.5 L546.5 266 L548.8 271.6 L551.1 277.1 L553.4 282.7 L555.7 288.2 L556.6 290.3 L558 293.8 L560.3 299.3 L562.6 304.9 L564.8 310.4 L567.1 316 L569.3 321.6 L571.6 327.2 L573.8 332.8 L576 338.4 L578.2 344 L580.4 349.6 L582.6 355.2 L584.8 360.8 L586.9 366.4 L589.1 372 L591.2 377.6 L593.4 383.2 L595.5 388.9 L597.6 394.5 L599.7 400.1 L601.8 405.8 L603.9 411.4 L606 417 L608.1 422.7 L610.1 428.3 L612.2 434 L614.2 439.7 L616.2 445.3 L618.3 451 L620.3 456.6 L622.3 462.3 L624.3 468 L626 472.9 L626.3 473.6 L628.2 479.3 L630.2 485 L632.2 490.7 L634.1 496.3 L636.1 502 L638 507.7 L639.9 513.4 L641.8 519.1 L643.8 524.8 L645.7 530.5 L647.6 536.2 L649.4 541.9 L651.3 547.6 L653.2 553.4 L655.1 559.1 L656.9 564.8 L658.8 570.5 L660.6 576.2 L662.5 582 L664.3 587.7 L666.1 593.4 L667.9 599.2 L669.8 604.9 L671.5 610.6 L673.3 616.4 L675.1 622.1 L676.9 627.9 L678.7 633.6 L680.4 639.4 L682.2 645.1 L683.9 650.9 L685.7 656.6 L687.4 662.4 L689.1 668.1 L690.8 673.9 L692.5 679.7 L694.2 685.4 L694.7 687 L695.9 691.2 L697.6 697 L699.3 702.7 L700.9 708.5 L702.6 714.3 L704.2 720.1 L705.8 725.9 L707.4 731.6 L709 737.4 L710.6 743.2 L712.2 749 L713.7 754.8 L715.3 760.6 L716.9 766.4 L718.4 772.3 L720 778.1 L721.5 783.9 L723 789.7 L724.6 795.5 L726.1 801.3 L727.6 807.1 L729.1 813 L730.7 818.8 L732.2 824.6 L733.7 830.4 L735.2 836.2 L736.7 842.1 L738.3 847.9 L739.8 853.7 L741.3 859.5 L742.8 865.3 L744.3 871.1 L745.9 877 L747.4 882.8 L748.9 888.6 L750.5 894.4 L752 900.2 L753.6 906 L755.1 911.8 L756.7 917.6 L758.3 923.4 L759.8 929.2 L761.4 935 L763 940.7 L763 940.8 L764.6 946.6 L766.2 952.4 L767.8 958.2 L769.4 964 L771.1 969.8 L772.7 975.6 L774.3 981.4 L775.9 987.2 L777.5 993 L779.1 998.8 L780.7 1004.6 L782.3 1010.4 L783.9 1016.2 L785.5 1021.9 L787.1 1027.7 L788.8 1033.5 L790.4 1039.3 L792 1045.1 L793.6 1050.9 L795.3 1056.7 L796.9 1062.5 L798.5 1068.3 L800.2 1074 L801.8 1079.8 L803.5 1085.6 L805.1 1091.4 L806.8 1097.2 L808.4 1102.9 L810.1 1108.7 L811.7 1114.5 L813.4 1120.3 L815.1 1126.1 L816.7 1131.8 L818.4 1137.6 L820.1 1143.4 L821.8 1149.1 L823.5 1154.9 L825.2 1160.7 L826.9 1166.4 L828.6 1172.2 L830.3 1177.9 L832.1 1183.7 L832.4 1184.8 L833.8 1189.5 L835.6 1195.2 L837.3 1201 L839.1 1206.7 L840.9 1212.4 L842.7 1218.2 L844.5 1223.9 L846.3 1229.6 L848.1 1235.4 L849.9 1241.1 L851.7 1246.8 L853.6 1252.5 L855.4 1258.3 L857.3 1264 L859.1 1269.7 L861 1275.4 L862.9 1281.1 L864.7 1286.9 L866.6 1292.6 L868.4 1298.3 L870.3 1304 L872.2 1309.7 L874 1315.4 L875.9 1321.2 L877.7 1326.9 L879.6 1332.6 L881.4 1338.3 L883.3 1344 L885.1 1349.8 L887 1355.5 L888.8 1361.2 L890.6 1367 L892.4 1372.7 L894.2 1378.4 L896 1384.2 L897.8 1389.9 L899.5 1395.7 L901.3 1401.4 L903 1407 L903 1407.2 L904.8 1412.9 L906.5 1418.7 L908.2 1424.5 L909.8 1430.2 L911.5 1436 L912.5 1436 L913.7 103 L913.7 103 L915.7 108.7 L917.7 114.4 L919.7 120 L921.7 125.7 L923.6 131.4 L925.6 137.1 L927.6 142.7 L929.6 148.4 L931.7 154.1 L933.7 159.8 L935.7 165.4 L937.7 171.1 L939.7 176.8 L941.7 182.4 L943.7 188.1 L945.8 193.8 L947.8 199.4 L949.8 205.1 L951.8 210.8 L953.9 216.4 L955.9 222.1 L958 227.7 L960 233.4 L962 239.1 L964.1 244.7 L966.1 250.4 L968.2 256 L970.2 261.7 L972 266.5 L972.3 267.3 L974.4 273 L976.4 278.6 L978.5 284.3 L980.6 289.9 L982.6 295.6 L984.7 301.2 L986.8 306.9 L988.9 312.5 L990.9 318.2 L993 323.8 L995.1 329.4 L997.2 335.1 L999.3 340.7 L1001.4 346.4 L1003.5 352 L1005.6 357.6 L1007.7 363.3 L1009.8 368.9 L1011.9 374.5 L1014 380.2 L1016.1 385.8 L1018.2 391.5 L1020.4 397.1 L1022.5 402.7 L1024.6 408.3 L1026.7 414 L1028.8 419.6 L1031 425.2 L1033.1 430.9 L1035.2 436.5 L1037.4 442.1 L1039.5 447.7 L1041.5 453 L1041.6 453.4 L1043.8 459 L1045.9 464.6 L1048.1 470.2 L1050.2 475.8 L1052.4 481.5 L1054.5 487.1 L1056.7 492.7 L1058.8 498.3 L1061 503.9 L1063.1 509.5 L1065.3 515.2 L1067.5 520.8 L1069.6 526.4 L1071.8 532 L1074 537.6 L1076.2 543.2 L1078.3 548.8 L1080.5 554.4 L1082.7 560 L1084.9 565.6 L1087.1 571.2 L1089.3 576.8 L1091.4 582.4 L1093.6 588 L1095.8 593.6 L1098 599.2 L1100.2 604.8 L1102.4 610.4 L1104.6 616 L1106.9 621.6 L1109.1 627.2 L1110 629.6 L1111.3 632.8 L1113.5 638.4 L1115.7 644 L1118 649.6 L1120.2 655.2 L1122.5 660.7 L1124.7 666.3 L1127 671.9 L1129.3 677.5 L1131.6 683 L1133.8 688.6 L1136.1 694.2 L1138.4 699.7 L1140.7 705.3 L1143 710.9 L1145.3 716.4 L1147.5 722 L1149.8 727.6 L1152.1 733.1 L1154.4 738.7 L1156.6 744.3 L1158.9 749.9 L1161.1 755.4 L1163.4 761 L1165.6 766.6 L1167.8 772.2 L1170.1 777.8 L1172.3 783.4 L1174.5 789 L1176.7 794.6 L1178.8 800.2 L1179.6 802.2 L1181 805.8 L1183.1 811.4 L1185.2 817.1 L1187.4 822.7 L1189.5 828.3 L1191.5 834 L1193.6 839.6 L1195.7 845.3 L1197.8 850.9 L1199.8 856.6 L1201.9 862.2 L1204 867.9 L1206 873.5 L1208.1 879.2 L1210.2 884.8 L1212.3 890.5 L1214.3 896.1 L1215.8 900 L1216.4 901.7 L1218.5 907.4 L1220.7 913 L1222.8 918.6 L1224.9 924.3 L1227 929.9 L1229.1 935.5 L1231.2 941.2 L1233.4 946.8 L1235.5 952.4 L1237.6 958 L1239.7 963.7 L1241.9 969.3 L1244 974.9 L1244.6 976.6 L1246.1 980.6 L1248.2 986.2 L1250.4 991.8 L1252.5 997.4 L1254.6 1003.1 L1256.7 1008.7 L1258.9 1014.3 L1261 1020 L1263.1 1025.6 L1265.2 1031.2 L1267.4 1036.8 L1269.5 1042.4 L1271.7 1048.1 L1273.6 1053.1 L1273.9 1053.7 L1276 1059.3 L1278.2 1064.9 L1280.4 1070.5 L1282.6 1076.1 L1284.8 1081.7 L1287 1087.3 L1289.2 1092.9 L1291.4 1098.5 L1293.6 1104.1 L1295.8 1109.7 L1298 1115.3 L1300.2 1120.9 L1302.4 1126.5 L1303.6 1129.7 L1304.6 1132.1 L1306.8 1137.7 L1309 1143.3 L1311.2 1148.9 L1313.4 1154.5 L1315.6 1160.1 L1317.8 1165.7 L1320 1171.3 L1322.2 1176.9 L1324.4 1182.5 L1326.6 1188.1 L1328.8 1193.7 L1331 1199.3 L1333.2 1204.9 L1333.8 1206.3 L1335.4 1210.5 L1337.6 1216.1 L1339.9 1221.6 L1342.1 1227.2 L1344.3 1232.8 L1346.6 1238.4 L1348.8 1244 L1351.1 1249.6 L1353.3 1255.2 L1355.5 1260.7 L1357.7 1266.3 L1359.9 1271.9 L1362.1 1277.5 L1364.2 1282.9 L1364.3 1283.1 L1366.5 1288.8 L1368.6 1294.4 L1370.8 1300 L1373 1305.6 L1375.1 1311.2 L1377.2 1316.8 L1379.4 1322.5 L1381.5 1328.1 L1383.6 1333.7 L1385.7 1339.4 L1387.8 1345 L1389.9 1350.7 L1391.9 1356.3 L1393 1359.4 L1393.9 1362 L1396 1367.6 L1398 1373.3 L1400 1379 L1401.9 1384.7 L1403.9 1390.4 L1405.9 1396 L1407.8 1401.7 L1409.7 1407.4 L1411.7 1413.1 L1413.6 1418.8 L1415.5 1424.6 L1417.3 1430.3 L1419.2 1436 L1419.5 1436 L1421 103 L1421 103 L1423 108.7 L1425.1 114.3 L1427.2 120 L1429.2 125.6 L1431.3 131.3 L1433.4 136.9 L1435.5 142.6 L1437.6 148.2 L1439.7 153.8 L1441.8 159.5 L1442.4 161 L1443.9 165.1 L1446.1 170.7 L1448.2 176.4 L1450.4 182 L1452.5 187.6 L1454.7 193.2 L1456.9 198.8 L1459 204.4 L1461.2 210.1 L1463.4 215.7 L1464.7 218.9 L1465.6 221.3 L1467.8 226.9 L1470.1 232.4 L1472.3 238 L1474.5 243.6 L1476.8 249.2 L1479 254.8 L1481.3 260.4 L1483.5 265.9 L1485.8 271.5 L1488 276.9 L1488.1 277.1 L1490.3 282.7 L1492.6 288.2 L1494.9 293.8 L1497.2 299.4 L1499.5 304.9 L1501.8 310.5 L1504.1 316.1 L1506.4 321.6 L1508.7 327.2 L1511 332.7 L1511.9 334.8 L1513.3 338.3 L1515.6 343.9 L1517.9 349.4 L1520.2 355 L1522.6 360.5 L1524.9 366.1 L1527.2 371.7 L1529.5 377.2 L1531.8 382.8 L1534.1 388.3 L1536 392.8 L1536.5 393.9 L1538.8 399.4 L1541.1 405 L1543.4 410.5 L1545.7 416.1 L1548 421.6 L1550.4 427.2 L1552.7 432.8 L1555 438.3 L1557.4 443.8 L1559.7 449.4 L1560.3 450.7 L1562.1 454.9 L1564.4 460.5 L1566.8 466 L1569.1 471.5 L1571.5 477.1 L1573.9 482.6 L1576.3 488.1 L1578.7 493.6 L1581.1 499.2 L1583.5 504.7 L1585.3 508.7 L1586 510.2 L1588.4 515.7 L1590.9 521.2 L1593.3 526.7 L1595.8 532.1 L1598.3 537.6 L1600.8 543.1 L1603.3 548.6 L1605.9 554 L1608.4 559.5 L1611 564.9 L1611.8 566.7 L1613.5 570.4 L1616.1 575.8 L1618.7 581.2 L1621.3 586.7 L1623.9 592.1 L1626.5 597.5 L1629.1 602.9 L1631.8 608.3 L1634.4 613.8 L1637 619.2 L1639.7 624.6 L1639.7 624.6 L1642.3 630 L1644.9 635.4 L1647.6 640.8 L1650.2 646.2 L1652.9 651.6 L1655.5 657 L1658.2 662.4 L1660.8 667.8 L1663.5 673.2 L1666.2 678.6 L1668.1 682.6 L1668.8 684 L1671.5 689.4 L1674.2 694.8 L1676.9 700.2 L1679.5 705.6 L1682.2 711 L1684.9 716.4 L1687.6 721.8 L1690.3 727.1 L1693 732.5 L1695.7 737.9 L1697 740.5 L1698.3 743.3 L1701 748.7 L1703.7 754.1 L1706.4 759.4 L1709.2 764.8 L1711.9 770.2 L1714.6 775.6 L1717.3 780.9 L1720 786.3 L1722.7 791.7 L1725.4 797.1 L1726.1 798.5 L1728.1 802.5 L1730.8 807.8 L1733.4 813.2 L1736.1 818.6 L1738.8 824 L1741.5 829.4 L1744.2 834.8 L1746.9 840.2 L1749.6 845.5 L1752.2 850.9 L1754.9 856.3 L1755 856.4 L1757.6 861.7 L1760.3 867.1 L1763 872.5 L1765.7 877.8 L1768.4 883.2 L1771.1 888.6 L1773.8 894 L1776.5 899.4 L1779.2 904.7 L1782 910.1 L1784.2 914.4 L1784.7 915.5 L1787.5 920.8 L1790.2 926.2 L1793 931.5 L1795.8 936.8 L1798.5 942.2 L1801.3 947.5 L1804.1 952.8 L1806.9 958.2 L1809.8 963.5 L1812.6 968.8 L1814.5 972.3 L1815.4 974.1 L1818.3 979.4 L1821.2 984.7 L1824.1 990 L1827 995.2 L1829.9 1000.5 L1832.8 1005.8 L1835.7 1011 L1838.6 1016.3 L1841.4 1021.6 L1844.3 1026.9 L1846 1030.3 L1847.1 1032.3 L1849.8 1037.6 L1852.6 1043 L1855.3 1048.3 L1858 1053.7 L1860.7 1059.1 L1863.4 1064.5 L1866 1069.9 L1868.7 1075.3 L1871.4 1080.7 L1874 1086.1 L1875.1 1088.3 L1876.6 1091.5 L1879.3 1096.9 L1881.9 1102.3 L1884.5 1107.7 L1887.2 1113.2 L1889.8 1118.6 L1892.3 1124 L1894.9 1129.5 L1897.5 1134.9 L1900 1140.4 L1902.6 1145.8 L1902.8 1146.2 L1905.1 1151.3 L1907.6 1156.7 L1910.2 1162.2 L1912.7 1167.7 L1915.2 1173.1 L1917.7 1178.6 L1920.2 1184.1 L1922.6 1189.6 L1924.9 1195.2 L1927.2 1200.7 L1928.6 1204.2 L1929.4 1206.3 L1931.6 1211.9 L1933.8 1217.6 L1935.9 1223.2 L1938 1228.9 L1940.1 1234.6 L1942 1240.3 L1943.9 1246 L1945.7 1251.7 L1947.4 1257.5 L1948.7 1262.1 L1949 1263.3 L1950.4 1269.1 L1951.9 1274.9 L1953.2 1280.8 L1954.5 1286.7 L1955.8 1292.6 L1957 1298.5 L1958.1 1304.4 L1959.2 1310.3 L1960.2 1316.3 L1960.8 1320.1 L1961.1 1322.2 L1962 1328.1 L1962.9 1334.1 L1963.8 1340.1 L1964.6 1346 L1965.4 1352 L1966.1 1358 L1966.8 1364 L1967.4 1370 L1968 1375.9 L1968.2 1378 L1968.5 1381.9 L1969 1387.9 L1969.5 1393.9 L1969.9 1399.9 L1970.4 1405.9 L1970.8 1411.9 L1971.1 1417.9 L1971.5 1424 L1971.8 1430 L1972 1436 L1973.5 1436 L1975.4 103 L1975.4 103 L1975.9 109 L1976.5 115 L1977 121 L1977.6 127.1 L1978.1 133.1 L1978.7 139.1 L1979.2 145.1 L1979.7 151.1 L1980.3 157.1 L1980.8 163.1 L1981.3 169.2 L1981.9 175.2 L1982.4 181.2 L1982.9 187.2 L1983.4 193.2 L1983.9 199.2 L1984.5 205.2 L1985 211.3 L1985.5 217.3 L1986 223.3 L1986.5 229.3 L1987 235.3 L1987.3 238.7 L1987.5 241.3 L1988 247.4 L1988.5 253.4 L1988.9 259.4 L1989.4 265.4 L1989.8 271.5 L1990.3 277.5 L1990.7 283.5 L1991.2 289.5 L1991.6 295.6 L1992 301.6 L1992.5 307.6 L1992.9 313.6 L1993.4 319.7 L1993.8 325.7 L1994.3 331.7 L1994.8 337.7 L1995.3 343.7 L1995.8 349.7 L1996.4 355.7 L1997 361.7 L1997.6 367.7 L1997.9 371 L1998.2 373.7 L1998.9 379.7 L1999.6 385.7 L2000.4 391.7 L2001.2 397.7 L2002 403.7 L2002.9 409.7 L2003.7 415.6 L2004.6 421.6 L2005.6 427.6 L2006.5 433.6 L2007.4 439.5 L2008.3 445.5 L2009.2 451.5 L2009.8 455.7 L2010.1 457.4 L2010.9 463.4 L2011.8 469.4 L2012.7 475.4 L2013.5 481.4 L2014.5 487.3 L2015.4 493.3 L2016.4 499.2 L2016.5 500 L2017.4 505.2 L2018.4 511.1 L2019.5 517.1 L2020.7 523 L2021.9 528.9 L2023 534 L2023.2 534.8 L2024.6 540.7 L2026.2 546.5 L2027.8 552.3 L2029.6 558.1 L2031.3 563.9 L2033 569.7 L2033.1 570 L2034.8 575.5 L2036.5 581.3 L2038.3 587 L2040.1 592.8 L2041.9 598.5 L2043.8 604.1 L2043.9 604.3 L2045.9 609.9 L2048.1 615.6 L2050.3 621.2 L2052.5 626.8 L2054.8 632.4 L2057 638 L2057 638.2 L2059.1 643.7 L2061.2 649.3 L2063.3 655 L2065.5 660.6 L2067.6 666.3 L2069.8 671.9 L2070 672.3 L2072.1 677.5 L2074.4 683.1 L2076.7 688.7 L2079.1 694.2 L2081.4 699.8 L2083.9 705.3 L2084.4 706.4 L2086.4 710.8 L2088.9 716.3 L2091.6 721.7 L2094.2 727.1 L2096.9 732.6 L2099.5 738 L2100.8 740.5 L2102.2 743.4 L2104.9 748.8 L2107.6 754.2 L2110.3 759.6 L2113 765 L2115.7 770.4 L2117.8 774.5 L2118.4 775.8 L2121.2 781.1 L2124 786.5 L2126.8 791.9 L2129.6 797.2 L2132.3 802.6 L2135.1 807.9 L2135.5 808.6 L2137.8 813.3 L2140.6 818.7 L2143.3 824.1 L2146 829.5 L2148.7 834.9 L2151.4 840.3 L2152.7 842.7 L2154.1 845.7 L2156.9 851.1 L2159.6 856.5 L2162.3 861.9 L2164.9 867.3 L2167.5 872.7 L2169.5 876.8 L2170.1 878.2 L2172.6 883.7 L2175.1 889.2 L2177.6 894.7 L2180 900.2 L2182.4 905.8 L2184.6 910.9 L2184.8 911.3 L2187.1 916.9 L2189.4 922.5 L2191.6 928.1 L2193.8 933.7 L2196 939.3 L2198.1 945 L2201.5 951 L2203 600 L2205 300 L2210.4 291 L2216 296" fill="none" stroke="#0909fb" stroke-width="9.3" stroke-linejoin="round"/>
<path d="M417 1316.8 L430 1338.8 L404 1338.8 Z" fill="#f3f3ff" stroke="#9a9aff" stroke-width="1.6"/>
<path d="M485.7 119.3 L498.7 141.3 L472.7 141.3 Z" fill="#f3f3ff" stroke="#9a9aff" stroke-width="1.6"/>
<path d="M554.9 273 L567.9 295 L541.9 295 Z" fill="#f3f3ff" stroke="#9a9aff" stroke-width="1.6"/>
<path d="M624.1 454.3 L637.1 476.3 L611.1 476.3 Z" fill="#f3f3ff" stroke="#9a9aff" stroke-width="1.6"/>
<path d="M693.3 669 L706.3 691 L680.3 691 Z" fill="#f3f3ff" stroke="#9a9aff" stroke-width="1.6"/>
<path d="M762.5 925.7 L775.5 947.7 L749.5 947.7 Z" fill="#f3f3ff" stroke="#9a9aff" stroke-width="1.6"/>
<path d="M831.7 1169.3 L844.7 1191.3 L818.7 1191.3 Z" fill="#f3f3ff" stroke="#9a9aff" stroke-width="1.6"/>
<path d="M900.9 1386.9 L913.9 1408.9 L887.9 1408.9 Z" fill="#f3f3ff" stroke="#9a9aff" stroke-width="1.6"/>
<path d="M970.1 248.1 L983.1 270.1 L957.1 270.1 Z" fill="#f3f3ff" stroke="#9a9aff" stroke-width="1.6"/>
<path d="M1039.3 434 L1052.3 456 L1026.3 456 Z" fill="#f3f3ff" stroke="#9a9aff" stroke-width="1.6"/>
<path d="M1108.5 612.6 L1121.5 634.6 L1095.5 634.6 Z" fill="#f3f3ff" stroke="#9a9aff" stroke-width="1.6"/>
<path d="M1177.7 784.1 L1190.7 806.1 L1164.7 806.1 Z" fill="#f3f3ff" stroke="#9a9aff" stroke-width="1.6"/>
<path d="M1246.9 969.4 L1259.9 991.4 L1233.9 991.4 Z" fill="#f3f3ff" stroke="#9a9aff" stroke-width="1.6"/>
<path d="M1316.1 1148.3 L1329.1 1170.3 L1303.1 1170.3 Z" fill="#f3f3ff" stroke="#9a9aff" stroke-width="1.6"/>
<path d="M1385.3 1325.1 L1398.3 1347.1 L1372.3 1347.1 Z" fill="#f3f3ff" stroke="#9a9aff" stroke-width="1.6"/>
<path d="M1454.5 179.6 L1467.5 201.6 L1441.5 201.6 Z" fill="#f3f3ff" stroke="#9a9aff" stroke-width="1.6"/>
<path d="M1523.7 350.1 L1536.7 372.1 L1510.7 372.1 Z" fill="#f3f3ff" stroke="#9a9aff" stroke-width="1.6"/>
<path d="M1592.9 512.5 L1605.9 534.5 L1579.9 534.5 Z" fill="#f3f3ff" stroke="#9a9aff" stroke-width="1.6"/>
<path d="M1662.1 657.2 L1675.1 679.2 L1649.1 679.2 Z" fill="#f3f3ff" stroke="#9a9aff" stroke-width="1.6"/>
<path d="M1731.3 795.7 L1744.3 817.7 L1718.3 817.7 Z" fill="#f3f3ff" stroke="#9a9aff" stroke-width="1.6"/>
<path d="M1800.5 932.7 L1813.5 954.7 L1787.5 954.7 Z" fill="#f3f3ff" stroke="#9a9aff" stroke-width="1.6"/>
<path d="M1869.7 1064.1 L1882.7 1086.1 L1856.7 1086.1 Z" fill="#f3f3ff" stroke="#9a9aff" stroke-width="1.6"/>
<path d="M1938.9 1218.1 L1951.9 1240.1 L1925.9 1240.1 Z" fill="#f3f3ff" stroke="#9a9aff" stroke-width="1.6"/>
<path d="M2009.8 442.5 L2022.8 464.5 L1996.8 464.5 Z" fill="#f3f3ff" stroke="#9a9aff" stroke-width="1.6"/>
<path d="M2079 677.8 L2092 699.8 L2066 699.8 Z" fill="#f3f3ff" stroke="#9a9aff" stroke-width="1.6"/>
<path d="M2148 818.8 L2161 840.8 L2135 840.8 Z" fill="#f3f3ff" stroke="#9a9aff" stroke-width="1.6"/>
<path d="M2210.4 277.8 L2223.4 299.8 L2197.4 299.8 Z" fill="#f3f3ff" stroke="#9a9aff" stroke-width="1.6"/>
<path d="M416 1333 L465 1436 L465.5 1436 L466.5 103 L466.5 103 L468.8 108.6 L471.1 114.1 L473.4 119.7 L475.7 125.2 L478 130.8 L480.3 136.3 L482.7 141.9 L485 147.4 L485 147.5 L487.3 153 L489.6 158.5 L492 164.1 L494.4 169.6 L496.7 175.1 L499.1 180.7 L501.5 186.2 L503.9 191.7 L506.3 197.2 L508.7 202.8 L511.1 208.3 L513.5 213.8 L515.9 219.3 L518.3 224.9 L520.7 230.4 L523 235.9 L525.4 241.4 L527.8 247 L530.1 252.5 L532.5 258.1 L534.8 263.6 L537.1 269.1 L539.4 274.7 L541.7 280.3 L544 285.8 L546.3 291.4 L548.5 297 L550.7 302.6 L552.9 308.2 L554 311 L555.1 313.8 L557.2 319.4 L559.4 325 L561.5 330.6 L563.7 336.2 L565.8 341.9 L567.9 347.5 L570 353.1 L572.1 358.8 L574.2 364.4 L576.3 370 L578.4 375.7 L580.5 381.4 L582.5 387 L584.6 392.7 L586.6 398.3 L588.6 404 L590.7 409.7 L592.7 415.4 L594.7 421 L596.7 426.7 L598.7 432.4 L600.6 438.1 L602.6 443.8 L604.5 449.5 L606.5 455.2 L608.4 460.9 L610.3 466.6 L612.2 472.3 L614.1 478 L616 483.7 L617.8 489.4 L619.7 495.2 L621.5 500.9 L623.4 506.6 L624 508.6 L625.2 512.3 L627 518.1 L628.8 523.8 L630.5 529.5 L632.3 535.3 L634.1 541 L635.8 546.8 L637.5 552.5 L639.3 558.3 L641 564.1 L642.7 569.8 L644.4 575.6 L646.1 581.4 L647.7 587.2 L649.4 592.9 L651.1 598.7 L652.7 604.5 L654.4 610.3 L656 616.1 L657.6 621.9 L659.3 627.7 L660.9 633.5 L662.5 639.3 L664.1 645.1 L665.7 650.9 L667.3 656.7 L668.9 662.5 L670.5 668.3 L672.1 674.1 L673.7 679.9 L675.3 685.7 L676.9 691.5 L678.4 697.3 L680 703.1 L681.6 709 L683.2 714.8 L684.8 720.6 L686.3 726.4 L687.9 732.2 L689.5 738 L691.1 743.8 L692.7 749.6 L693.5 752.6 L694.3 755.4 L695.8 761.2 L697.4 767 L699 772.8 L700.5 778.6 L702.1 784.5 L703.6 790.3 L705.1 796.1 L706.7 801.9 L708.2 807.7 L709.7 813.6 L711.2 819.4 L712.7 825.2 L714.2 831 L715.7 836.9 L717.2 842.7 L718.7 848.5 L720.2 854.4 L721.7 860.2 L723.1 866 L724.6 871.9 L726.1 877.7 L727.6 883.5 L729.1 889.3 L730.6 895.2 L732.1 901 L733.6 906.8 L735.1 912.7 L736.6 918.5 L738.1 924.3 L739.6 930.1 L741.1 936 L742.6 941.8 L744.2 947.6 L745.7 953.4 L747.3 959.2 L748.8 965 L750.4 970.9 L751.9 976.7 L753.5 982.5 L755.1 988.3 L756.7 994.1 L758.3 999.9 L759.9 1005.6 L761.5 1011.4 L761.7 1012 L763.2 1017.2 L764.8 1023 L766.5 1028.8 L768.2 1034.6 L769.8 1040.3 L771.5 1046.1 L773.2 1051.9 L774.9 1057.7 L776.6 1063.4 L778.3 1069.2 L780 1075 L781.7 1080.7 L783.5 1086.5 L785.2 1092.3 L787 1098 L788.7 1103.8 L790.4 1109.5 L792.2 1115.3 L794 1121 L795.7 1126.8 L797.5 1132.5 L799.3 1138.3 L801.1 1144 L802.8 1149.8 L804.6 1155.5 L806.4 1161.3 L808.2 1167 L810 1172.8 L811.8 1178.5 L813.6 1184.3 L815.4 1190 L817.2 1195.7 L819 1201.5 L820.8 1207.2 L822.7 1213 L824.5 1218.7 L826.3 1224.4 L828.1 1230.2 L829.9 1235.9 L831.2 1240 L831.7 1241.6 L833.5 1247.4 L835.4 1253.1 L837.2 1258.8 L839 1264.6 L840.8 1270.3 L842.7 1276 L844.5 1281.8 L846.4 1287.5 L848.2 1293.2 L850.1 1298.9 L851.9 1304.7 L853.8 1310.4 L855.6 1316.1 L857.5 1321.8 L859.4 1327.5 L861.2 1333.3 L863.1 1339 L865 1344.7 L866.9 1350.4 L868.8 1356.1 L870.7 1361.8 L872.5 1367.5 L874.4 1373.3 L876.3 1379 L878.2 1384.7 L880.1 1390.4 L882.1 1396.1 L884 1401.8 L885.9 1407.5 L887.8 1413.2 L889.7 1418.9 L891.6 1424.6 L893.6 1430.3 L895.5 1436 L899 1436 L900 103 L900 103 L902.1 108.6 L904.2 114.3 L906.3 119.9 L908.4 125.5 L910.5 131.2 L912.5 136.8 L914.6 142.4 L916.7 148 L918.8 153.7 L920.9 159.3 L923 164.9 L925.1 170.6 L927.2 176.2 L929.3 181.8 L931.4 187.4 L933.5 193.1 L935.6 198.7 L937.7 204.3 L939.8 209.9 L941.9 215.6 L944 221.2 L946.2 226.8 L948.3 232.4 L950.4 238.1 L952.5 243.7 L954.6 249.3 L956.7 254.9 L958.8 260.6 L960.9 266.2 L963 271.8 L965.1 277.4 L967.3 283 L969.4 288.7 L971.5 294.3 L971.5 294.3 L973.6 299.9 L975.7 305.5 L977.8 311.2 L980 316.8 L982.1 322.4 L984.2 328 L986.3 333.6 L988.4 339.3 L990.5 344.9 L992.6 350.5 L994.7 356.1 L996.9 361.8 L999 367.4 L1001.1 373 L1003.2 378.6 L1005.3 384.2 L1007.4 389.9 L1009.6 395.5 L1011.7 401.1 L1013.8 406.7 L1016 412.3 L1018.1 417.9 L1020.2 423.6 L1022.4 429.2 L1024.5 434.8 L1026.7 440.4 L1028.8 446 L1031 451.6 L1033.2 457.2 L1035.3 462.8 L1037.5 468.4 L1039.7 474 L1040 474.8 L1041.9 479.6 L1044.1 485.2 L1046.3 490.8 L1048.5 496.3 L1050.7 501.9 L1052.9 507.5 L1055.1 513.1 L1057.4 518.7 L1059.6 524.2 L1061.8 529.8 L1064.1 535.4 L1066.3 541 L1068.6 546.5 L1070.8 552.1 L1073.1 557.7 L1075.3 563.2 L1077.6 568.8 L1079.9 574.4 L1082.1 579.9 L1084.4 585.5 L1086.6 591.1 L1088.9 596.6 L1091.2 602.2 L1093.4 607.7 L1095.7 613.3 L1097.9 618.9 L1100.2 624.4 L1102.4 630 L1104.7 635.6 L1106.9 641.2 L1109.2 646.7 L1109.5 647.5 L1111.4 652.3 L1113.7 657.9 L1115.9 663.4 L1118.2 669 L1120.4 674.6 L1122.7 680.2 L1124.9 685.7 L1127.1 691.3 L1129.4 696.9 L1131.6 702.4 L1133.9 708 L1136.1 713.6 L1138.4 719.1 L1140.6 724.7 L1142.9 730.3 L1145.1 735.9 L1147.4 741.4 L1149.6 747 L1151.8 752.6 L1154.1 758.2 L1156.3 763.7 L1158.6 769.3 L1160.8 774.9 L1163 780.4 L1165.3 786 L1167.5 791.6 L1169.7 797.2 L1171.9 802.8 L1174.2 808.3 L1176.4 813.9 L1178 818 L1178.6 819.5 L1180.8 825.1 L1183 830.7 L1185.2 836.3 L1187.4 841.8 L1189.6 847.4 L1191.8 853 L1194 858.6 L1196.2 864.2 L1198.4 869.8 L1200.6 875.4 L1202.8 881 L1205 886.6 L1207.2 892.1 L1209.4 897.7 L1211.6 903.3 L1213.8 908.9 L1216 914.5 L1218.2 920.1 L1220.3 925.7 L1222.5 931.3 L1224.7 936.9 L1226.9 942.5 L1229.1 948.1 L1231.3 953.7 L1233.5 959.3 L1235.6 964.9 L1237.8 970.5 L1240 976.1 L1242.2 981.7 L1244.4 987.3 L1246.6 992.9 L1248.7 998.4 L1250.9 1004 L1253.1 1009.6 L1255.3 1015.2 L1257.5 1020.8 L1259.7 1026.4 L1261.9 1032 L1264.1 1037.6 L1265 1040 L1266.3 1043.2 L1268.4 1048.8 L1270.6 1054.4 L1272.8 1060 L1275 1065.6 L1277.2 1071.2 L1279.4 1076.7 L1281.6 1082.3 L1283.8 1087.9 L1286 1093.5 L1288.2 1099.1 L1290.4 1104.7 L1292.6 1110.3 L1294.8 1115.9 L1297 1121.5 L1299.2 1127.1 L1301.4 1132.7 L1303.6 1138.2 L1305.7 1143.8 L1307.9 1149.4 L1310.1 1155 L1312.3 1160.6 L1314.5 1166.2 L1314.9 1167.2 L1316.7 1171.8 L1318.9 1177.4 L1321.1 1183 L1323.3 1188.6 L1325.5 1194.1 L1327.8 1199.7 L1330 1205.3 L1332.2 1210.9 L1334.4 1216.5 L1336.7 1222 L1338.9 1227.6 L1341.1 1233.2 L1343.4 1238.8 L1345.6 1244.4 L1347.8 1249.9 L1350.1 1255.5 L1352.3 1261.1 L1354.5 1266.7 L1356.7 1272.3 L1358.9 1277.9 L1361.1 1283.4 L1363.3 1289 L1365.5 1294.6 L1367.6 1300.2 L1369.8 1305.8 L1372 1311.4 L1374.1 1317.1 L1376.2 1322.7 L1378.3 1328.3 L1380.4 1333.9 L1382.5 1339.5 L1384.6 1345.2 L1386 1349 L1386.7 1350.8 L1388.7 1356.5 L1390.7 1362.1 L1392.7 1367.8 L1394.7 1373.4 L1396.7 1379.1 L1398.7 1384.8 L1400.7 1390.5 L1402.6 1396.1 L1404.6 1401.8 L1406.5 1407.5 L1408.4 1413.2 L1410.3 1418.9 L1412.2 1424.6 L1414.1 1430.3 L1416 1436 L1416.5 1436 L1417.5 103 L1417.5 103 L1419.5 108.6 L1421.6 114.3 L1423.7 119.9 L1425.7 125.6 L1427.8 131.2 L1429.9 136.8 L1432 142.4 L1434 148.1 L1436.1 153.7 L1438.3 159.3 L1440.4 164.9 L1442.5 170.5 L1444.6 176.2 L1446.8 181.8 L1448.9 187.4 L1451.1 193 L1453.2 198.6 L1453.4 199 L1455.4 204.1 L1457.6 209.7 L1459.8 215.3 L1462 220.9 L1464.2 226.5 L1466.4 232.1 L1468.6 237.6 L1470.9 243.2 L1473.1 248.8 L1475.3 254.3 L1477.6 259.9 L1479.8 265.5 L1482.1 271 L1484.4 276.6 L1486.6 282.1 L1488.9 287.7 L1491.2 293.2 L1493.5 298.8 L1495.8 304.3 L1498 309.9 L1500.3 315.4 L1502.6 321 L1504.9 326.5 L1507.2 332.1 L1509.5 337.6 L1511.8 343.1 L1514.1 348.7 L1516.5 354.2 L1518.8 359.8 L1521.1 365.3 L1522.9 369.7 L1523.4 370.8 L1525.7 376.4 L1528 381.9 L1530.3 387.5 L1532.6 393 L1534.9 398.5 L1537.2 404.1 L1539.5 409.6 L1541.8 415.2 L1544.2 420.7 L1546.5 426.2 L1548.8 431.8 L1551.1 437.3 L1553.4 442.8 L1555.8 448.4 L1558.1 453.9 L1560.5 459.4 L1562.8 465 L1565.2 470.5 L1567.5 476 L1569.9 481.5 L1572.3 487 L1574.7 492.5 L1577.1 498 L1579.5 503.5 L1581.9 509 L1584.4 514.5 L1586.8 519.9 L1589.3 525.4 L1591.5 530.4 L1591.7 530.9 L1594.2 536.3 L1596.7 541.8 L1599.2 547.2 L1601.7 552.7 L1604.3 558.1 L1606.8 563.6 L1609.4 569 L1611.9 574.4 L1614.5 579.8 L1617.1 585.2 L1619.7 590.7 L1622.3 596.1 L1624.9 601.5 L1627.5 606.9 L1630.2 612.3 L1632.8 617.7 L1635.4 623.1 L1638.1 628.4 L1640.7 633.8 L1643.3 639.2 L1646 644.6 L1648.6 650 L1651.3 655.4 L1653.9 660.8 L1656.6 666.2 L1659.2 671.6 L1661 675.2 L1661.9 676.9 L1664.5 682.3 L1667.1 687.7 L1669.8 693.1 L1672.5 698.5 L1675.1 703.8 L1677.8 709.2 L1680.5 714.6 L1683.2 720 L1685.8 725.3 L1688.5 730.7 L1691.2 736.1 L1693.9 741.4 L1696.6 746.8 L1699.3 752.1 L1702 757.5 L1704.7 762.9 L1707.4 768.2 L1710.1 773.6 L1712.8 779 L1715.5 784.3 L1718.2 789.7 L1720.9 795 L1723.6 800.4 L1726.2 805.8 L1728.9 811.1 L1730.4 814.1 L1731.6 816.5 L1734.3 821.9 L1737 827.2 L1739.6 832.6 L1742.3 838 L1745 843.4 L1747.7 848.7 L1750.3 854.1 L1753 859.5 L1755.7 864.8 L1758.4 870.2 L1761 875.6 L1763.7 881 L1766.4 886.3 L1769.1 891.7 L1771.8 897.1 L1774.4 902.4 L1777.1 907.8 L1779.8 913.2 L1782.5 918.6 L1785.1 923.9 L1787.8 929.3 L1790.5 934.7 L1793.2 940 L1795.9 945.4 L1798.6 950.8 L1798.7 951 L1801.3 956.1 L1804 961.5 L1806.8 966.8 L1809.5 972.1 L1812.3 977.5 L1815.1 982.8 L1817.9 988.1 L1820.7 993.4 L1823.5 998.7 L1826.4 1004.1 L1829.2 1009.4 L1832 1014.7 L1834.8 1020 L1837.6 1025.3 L1840.3 1030.7 L1843.1 1036 L1845.8 1041.4 L1848.5 1046.7 L1851.2 1052.1 L1853.8 1057.5 L1856.4 1062.9 L1859 1068.3 L1861.6 1073.7 L1864 1079.1 L1866.5 1084.6 L1868.9 1090 L1869.5 1091.5 L1871.2 1095.5 L1873.6 1101 L1876 1106.5 L1878.3 1112.1 L1880.7 1117.6 L1883 1123.1 L1885.4 1128.7 L1887.7 1134.2 L1890.1 1139.8 L1892.4 1145.3 L1894.7 1150.9 L1897 1156.5 L1899.3 1162.1 L1901.5 1167.7 L1903.8 1173.3 L1906 1178.9 L1908.1 1184.6 L1910.3 1190.2 L1912.4 1195.9 L1914.5 1201.5 L1916.6 1207.2 L1918.6 1212.8 L1920.5 1218.5 L1922.5 1224.2 L1924.4 1229.9 L1926.2 1235.6 L1928 1241.3 L1929.7 1247.1 L1931.4 1252.8 L1933.1 1258.6 L1934.7 1264.3 L1936.2 1270.1 L1937.6 1275.8 L1939 1281.5 L1939 1281.6 L1940.4 1287.4 L1941.7 1293.2 L1943 1299.1 L1944.2 1305 L1945.4 1310.9 L1946.6 1316.8 L1947.7 1322.7 L1948.8 1328.6 L1949.8 1334.6 L1950.8 1340.5 L1951.7 1346.4 L1952.5 1352.4 L1953.3 1358.3 L1953.5 1360 L1954 1364.3 L1954.7 1370.2 L1955.4 1376.2 L1956.1 1382.1 L1956.7 1388.1 L1957.3 1394.1 L1957.9 1400 L1958.4 1406 L1958.9 1412 L1959.4 1418 L1959.8 1424 L1960.2 1430 L1960.5 1436 L1961.6 1436 L1963.5 103 L1963.5 103 L1963.8 109 L1964.1 115 L1964.5 121.1 L1964.8 127.1 L1965.2 133.1 L1965.6 139.1 L1966.1 145.1 L1966.5 151.1 L1967 157.1 L1967.4 163.1 L1967.9 169.1 L1968 170 L1968.4 175.1 L1969 181.1 L1969.6 187.1 L1970.2 193.1 L1970.9 199.1 L1971.5 205.1 L1972.2 211.1 L1972.9 217 L1973.6 223 L1974.2 229 L1974.9 235 L1975 236.4 L1975.5 241 L1976.1 247 L1976.7 253 L1977.4 259 L1978 265 L1978.6 271 L1979.2 276.9 L1979.9 282.9 L1980.5 288.9 L1981.1 294.9 L1981.7 300.9 L1982.2 306.9 L1982.5 309.6 L1982.8 312.9 L1983.4 318.9 L1983.9 324.9 L1984.4 330.9 L1984.9 336.9 L1985.4 342.9 L1985.9 348.9 L1986.4 354.9 L1986.9 360.9 L1987.5 366.9 L1988 372.9 L1988.6 378.9 L1989 382.8 L1989.2 384.9 L1989.9 390.9 L1990.5 396.9 L1991.2 402.9 L1991.9 408.9 L1992.7 414.9 L1993.4 420.8 L1994.2 426.8 L1995.1 432.8 L1996 438.7 L1996.4 441.4 L1996.9 444.7 L1997.9 450.6 L1999 456.5 L2000.2 462.4 L2001.4 468.3 L2002.6 474.2 L2003.9 480.1 L2005.3 486 L2006.5 491 L2006.7 491.8 L2008.2 497.7 L2009.8 503.5 L2011.5 509.2 L2013.3 515 L2015.1 520.8 L2016.9 526.5 L2018.6 532.3 L2019.1 533.8 L2020.4 538.1 L2022 543.9 L2023.7 549.6 L2025.4 555.4 L2027 561.2 L2028.7 567 L2030.5 572.8 L2032.2 578.5 L2034.1 584.3 L2036 590 L2036.2 590.6 L2038 595.6 L2040.1 601.3 L2042.3 606.9 L2044.5 612.5 L2046.8 618 L2049.1 623.6 L2051.5 629.2 L2053.8 634.7 L2056.1 640.3 L2058.4 645.9 L2059 647.5 L2060.6 651.5 L2062.7 657.1 L2064.9 662.8 L2067 668.4 L2069.2 674 L2071.4 679.6 L2073.6 685.2 L2075.6 690 L2075.9 690.8 L2078.3 696.3 L2080.8 701.8 L2083.3 707.3 L2085.8 712.7 L2088.4 718.2 L2091 723.6 L2093.7 729 L2096.3 734.4 L2099 739.9 L2101.6 745.3 L2102.9 747.9 L2104.3 750.7 L2106.9 756.1 L2109.6 761.4 L2112.4 766.8 L2115.1 772.2 L2117.9 777.5 L2120.6 782.9 L2123.4 788.2 L2126.2 793.6 L2128.9 798.9 L2131.7 804.3 L2134.5 809.6 L2137.2 815 L2140 820.4 L2142.7 825.7 L2144.8 830 L2145.4 831.1 L2148.1 836.5 L2150.8 841.9 L2153.5 847.3 L2156.2 852.7 L2158.9 858.1 L2161.5 863.5 L2164.2 868.9 L2166.8 874.3 L2169.4 879.8 L2171.9 885.2 L2174.3 890.7 L2174.3 890.7 L2176.7 896.2 L2179.2 901.8 L2181.6 907.3 L2183.9 912.9 L2186.3 918.4 L2188.6 924 L2190.8 929.6 L2193 935.2 L2195.1 940.9 L2197.2 946.5 L2199.1 952.2 L2200 955 L2200.9 957.9 L2202.6 963.7 L2204.1 969.5 L2205.6 975.4 L2207.1 981.2 L2208.7 987 L2210.4 992.8 L2210.4 993 L2212.1 998.6 L2214 1004.3 L2216 1010" fill="none" stroke="#858585" stroke-width="9.3" stroke-linejoin="round"/>
<rect x="473" y="134.1" width="22" height="22" fill="#858585"/>
<rect x="542.2" y="297.9" width="22" height="22" fill="#858585"/>
<rect x="611.4" y="492.6" width="22" height="22" fill="#858585"/>
<rect x="680.6" y="734.6" width="22" height="22" fill="#858585"/>
<rect x="749.8" y="997.8" width="22" height="22" fill="#858585"/>
<rect x="819" y="1225.2" width="22" height="22" fill="#858585"/>
<rect x="957.4" y="275.1" width="22" height="22" fill="#858585"/>
<rect x="1026.6" y="457.6" width="22" height="22" fill="#858585"/>
<rect x="1095.8" y="629.8" width="22" height="22" fill="#858585"/>
<rect x="1165" y="802" width="22" height="22" fill="#858585"/>
<rect x="1234.2" y="978.4" width="22" height="22" fill="#858585"/>
<rect x="1303.4" y="1154.9" width="22" height="22" fill="#858585"/>
<rect x="1372.6" y="1331.4" width="22" height="22" fill="#858585"/>
<rect x="1441.8" y="186.5" width="22" height="22" fill="#858585"/>
<rect x="1511" y="356.5" width="22" height="22" fill="#858585"/>
<rect x="1580.2" y="518.7" width="22" height="22" fill="#858585"/>
<rect x="1649.4" y="663" width="22" height="22" fill="#858585"/>
<rect x="1718.6" y="801.5" width="22" height="22" fill="#858585"/>
<rect x="1787.8" y="940.2" width="22" height="22" fill="#858585"/>
<rect x="1857" y="1077" width="22" height="22" fill="#858585"/>
<rect x="1926.2" y="1263.1" width="22" height="22" fill="#858585"/>
<rect x="1995.4" y="479.6" width="22" height="22" fill="#858585"/>
<rect x="2064.6" y="679" width="22" height="22" fill="#858585"/>
<rect x="2133.8" y="819" width="22" height="22" fill="#858585"/>
<rect x="2199.4" y="982" width="22" height="22" fill="#858585"/>
</g>
<path d="M944.1 985.2H1178.9" stroke="#0a0a0a" stroke-width="9.3" stroke-linecap="round" fill="none"/>
<rect x="1051.5" y="975" width="20.4" height="20.4" fill="#f6f6f6" stroke="#9a9a9a" stroke-width="1.6"/>
<path d="M944.1 1114.1H1178.9" stroke="#fb0909" stroke-width="9.3" stroke-linecap="round" fill="none"/>
<circle cx="1061.7" cy="1114.1" r="10.7" fill="#fff3f3" stroke="#ff9a9a" stroke-width="1.6"/>
<path d="M944.1 1243.1H1178.9" stroke="#0909fb" stroke-width="9.3" stroke-linecap="round" fill="none"/>
<path d="M1061.7 1229.9 L1074.7 1251.9 L1048.7 1251.9 Z" fill="#f3f3ff" stroke="#9a9aff" stroke-width="1.6"/>
<path d="M944.1 1372.1H1178.9" stroke="#858585" stroke-width="9.3" stroke-linecap="round" fill="none"/>
<rect x="1050.7" y="1361.1" width="22" height="22" fill="#858585"/>
<text x="1200" y="1020" font-size="88.5" font-weight="normal" text-anchor="start" fill="#000" textLength="239" lengthAdjust="spacingAndGlyphs">60 µm</text>
<text x="1200" y="1149" font-size="88.5" font-weight="normal" text-anchor="start" fill="#000" textLength="239" lengthAdjust="spacingAndGlyphs">65 µm</text>
<text x="1200" y="1278" font-size="88.5" font-weight="normal" text-anchor="start" fill="#000" textLength="239" lengthAdjust="spacingAndGlyphs">70 µm</text>
<text x="1200" y="1407" font-size="88.5" font-weight="normal" text-anchor="start" fill="#000" textLength="239" lengthAdjust="spacingAndGlyphs">75 µm</text>
<text x="375.5" y="122.5" font-size="88.5" font-weight="bold" text-anchor="end" fill="#000" textLength="138" lengthAdjust="spacingAndGlyphs" stroke="#fff" stroke-width="1.7" stroke-linejoin="round">180</text>
<text x="375.5" y="344.7" font-size="88.5" font-weight="bold" text-anchor="end" fill="#000" textLength="138" lengthAdjust="spacingAndGlyphs" stroke="#fff" stroke-width="1.7" stroke-linejoin="round">120</text>
<text x="375.5" y="566.8" font-size="88.5" font-weight="bold" text-anchor="end" fill="#000" textLength="92" lengthAdjust="spacingAndGlyphs" stroke="#fff" stroke-width="1.7" stroke-linejoin="round">60</text>
<text x="375.5" y="789" font-size="88.5" font-weight="bold" text-anchor="end" fill="#000" textLength="46" lengthAdjust="spacingAndGlyphs" stroke="#fff" stroke-width="1.7" stroke-linejoin="round">0</text>
<text x="375.5" y="1011.2" font-size="88.5" font-weight="bold" text-anchor="end" fill="#000" textLength="122.6" lengthAdjust="spacingAndGlyphs" stroke="#fff" stroke-width="1.7" stroke-linejoin="round">-60</text>
<text x="375.5" y="1233.3" font-size="88.5" font-weight="bold" text-anchor="end" fill="#000" textLength="168.6" lengthAdjust="spacingAndGlyphs" stroke="#fff" stroke-width="1.7" stroke-linejoin="round">-120</text>
<text x="375.5" y="1455.5" font-size="88.5" font-weight="bold" text-anchor="end" fill="#000" textLength="168.6" lengthAdjust="spacingAndGlyphs" stroke="#fff" stroke-width="1.7" stroke-linejoin="round">-180</text>
<text x="417.8" y="1540.5" font-size="88.5" font-weight="bold" text-anchor="middle" fill="#000" textLength="113.8" lengthAdjust="spacingAndGlyphs" stroke="#fff" stroke-width="1.7" stroke-linejoin="round">0.2</text>
<text x="930.2" y="1540.5" font-size="88.5" font-weight="bold" text-anchor="middle" fill="#000" textLength="113.8" lengthAdjust="spacingAndGlyphs" stroke="#fff" stroke-width="1.7" stroke-linejoin="round">0.4</text>
<text x="1442.6" y="1540.5" font-size="88.5" font-weight="bold" text-anchor="middle" fill="#000" textLength="113.8" lengthAdjust="spacingAndGlyphs" stroke="#fff" stroke-width="1.7" stroke-linejoin="round">0.6</text>
<text x="1955" y="1540.5" font-size="88.5" font-weight="bold" text-anchor="middle" fill="#000" textLength="113.8" lengthAdjust="spacingAndGlyphs" stroke="#fff" stroke-width="1.7" stroke-linejoin="round">0.8</text>
<text x="162.5" y="722.2" font-size="93" font-weight="bold" text-anchor="middle" fill="#000" textLength="460" lengthAdjust="spacingAndGlyphs" transform="rotate(-90 162.5 722.2)" stroke="#fff" stroke-width="1.7" stroke-linejoin="round">Phase (deg)</text>
<text x="1314" y="1709" font-size="92" font-weight="bold" text-anchor="middle" fill="#000" textLength="674" lengthAdjust="spacingAndGlyphs" stroke="#fff" stroke-width="1.7" stroke-linejoin="round">Frequency (THz)</text>
<text x="1139" y="1830" font-size="76" text-anchor="middle" textLength="86" lengthAdjust="spacingAndGlyphs" fill="#000">(<tspan font-weight="bold">a</tspan>)</text>
</g>
<g id="plot-b">
<rect x="387.3" y="1946" width="1867.5" height="1389" fill="none" stroke="#000" stroke-width="9"/>
<path d="M387.3 1946H359.7 M387.3 2061.8H374.3 M387.3 2177.5H359.7 M387.3 2293.2H374.3 M387.3 2409H359.7 M387.3 2524.8H374.3 M387.3 2640.5H359.7 M387.3 2756.2H374.3 M387.3 2872H359.7 M387.3 2987.8H374.3 M387.3 3103.5H359.7 M387.3 3219.2H374.3 M387.3 3335H359.7 M387.3 3335V3362.6 M654.1 3335V3348 M920.9 3335V3362.6 M1187.7 3335V3348 M1454.4 3335V3362.6 M1721.2 3335V3348 M1988 3335V3362.6 M2254.8 3335V3348" stroke="#000" stroke-width="9" fill="none"/>
<clipPath id="clip-b"><rect x="387.3" y="1946" width="1867.5" height="1389"/></clipPath>
<g clip-path="url(#clip-b)">
<path d="M390 3221 L444.5 3335 L446.3 3335 L448 1946 L448 1946 L450.7 1951.4 L453.5 1956.7 L456.2 1962.1 L458.9 1967.4 L461.7 1972.8 L464.4 1978.2 L467.1 1983.6 L469.8 1988.9 L472.4 1994.3 L475.1 1999.7 L477.7 2005.1 L480.4 2010.5 L483 2015.9 L484.5 2019 L485.6 2021.4 L488.2 2026.8 L490.8 2032.2 L493.4 2037.6 L496 2043.1 L498.6 2048.5 L501.1 2054 L503.7 2059.4 L506.2 2064.9 L508.7 2070.3 L511.3 2075.8 L513.8 2081.2 L516.3 2086.7 L518.8 2092.2 L521.3 2097.6 L523.8 2103.1 L526.3 2108.6 L528.8 2114.1 L531.3 2119.5 L532 2121 L533.8 2125 L536.3 2130.5 L538.8 2135.9 L541.3 2141.4 L543.8 2146.9 L546.3 2152.4 L548.8 2157.8 L551.3 2163.3 L553.8 2168.8 L556.3 2174.3 L558.7 2179.8 L561.2 2185.3 L563.7 2190.8 L566.1 2196.3 L568.6 2201.7 L571 2207.2 L573.4 2212.8 L575.8 2218.3 L578.2 2223.8 L580.5 2229 L580.6 2229.3 L583 2234.8 L585.4 2240.3 L587.8 2245.9 L590.1 2251.4 L592.5 2256.9 L594.8 2262.5 L597.1 2268 L599.5 2273.6 L601.8 2279.1 L604.1 2284.7 L606.4 2290.2 L608.7 2295.8 L611 2301.4 L613.3 2306.9 L615.6 2312.5 L617.9 2318 L620.2 2323.6 L622.5 2329.2 L624.7 2334.8 L627 2340.3 L628.5 2344 L629.3 2345.9 L631.5 2351.5 L633.8 2357 L636.1 2362.6 L638.3 2368.2 L640.6 2373.8 L642.9 2379.3 L645.1 2384.9 L647.4 2390.5 L649.7 2396.1 L651.9 2401.7 L654.1 2407.2 L656.4 2412.8 L658.6 2418.4 L660.8 2424 L663 2429.6 L665.2 2435.2 L667.4 2440.8 L669.5 2446.5 L671.7 2452.1 L673.8 2457.7 L675.9 2463.3 L678 2469 L678.2 2469.6 L680 2474.6 L682.1 2480.3 L684.1 2485.9 L686.2 2491.6 L688.2 2497.3 L690.2 2502.9 L692.2 2508.6 L694.1 2514.3 L696.1 2520 L698.1 2525.7 L700 2531.4 L702 2537.1 L703.9 2542.8 L705.8 2548.5 L707.7 2554.2 L709.6 2559.9 L711.5 2565.6 L713.4 2571.3 L715.3 2577 L717.2 2582.7 L719.1 2588.4 L721 2594.2 L722.8 2599.9 L724.7 2605.6 L725 2606.5 L726.6 2611.3 L728.4 2617 L730.3 2622.8 L732.1 2628.5 L733.9 2634.2 L735.7 2640 L737.5 2645.7 L739.3 2651.4 L741.1 2657.2 L742.9 2662.9 L744.7 2668.7 L746.5 2674.4 L748.3 2680.2 L750 2685.9 L751.8 2691.7 L753.6 2697.4 L755.3 2703.2 L757.1 2708.9 L758.8 2714.7 L760.6 2720.4 L762.4 2726.2 L764.1 2731.9 L765.9 2737.7 L767.7 2743.4 L769.4 2749.2 L771.2 2754.9 L771.4 2755.5 L773 2760.7 L774.8 2766.4 L776.6 2772.2 L778.3 2777.9 L780.1 2783.7 L781.9 2789.4 L783.7 2795.2 L785.4 2800.9 L787.2 2806.7 L789 2812.4 L790.8 2818.2 L792.6 2823.9 L794.3 2829.7 L796.1 2835.4 L797.9 2841.2 L799.6 2846.9 L801.4 2852.7 L803.2 2858.4 L804.9 2864.2 L806.7 2869.9 L808.4 2875.7 L810.2 2881.4 L812 2887.2 L813.7 2892.9 L815.5 2898.7 L817.2 2904.4 L818.9 2910.2 L819.4 2911.7 L820.7 2916 L822.4 2921.7 L824.1 2927.5 L825.8 2933.3 L827.5 2939 L829.2 2944.8 L830.9 2950.6 L832.6 2956.4 L834.3 2962.1 L836 2967.9 L837.7 2973.7 L839.4 2979.5 L841 2985.2 L842.7 2991 L844.4 2996.8 L846.1 3002.6 L847.8 3008.3 L849.5 3014.1 L851.2 3019.9 L852.9 3025.6 L854.7 3031.4 L856.4 3037.2 L858.1 3042.9 L859.9 3048.7 L861.7 3054.4 L863.5 3060.2 L865 3065 L865.3 3065.9 L867.1 3071.6 L869 3077.3 L870.8 3083.1 L872.7 3088.8 L874.6 3094.5 L876.5 3100.2 L878.5 3105.9 L880.4 3111.6 L882.3 3117.3 L884.3 3123 L886.3 3128.7 L888.2 3134.3 L890.2 3140 L892.2 3145.7 L894.1 3151.4 L896.1 3157.1 L898.1 3162.8 L900 3168.5 L902 3174.2 L903.9 3179.9 L905.8 3185.6 L907.7 3191.3 L909.6 3197 L911.5 3202.7 L913.4 3208.4 L915.2 3214.1 L915.5 3215 L917 3219.9 L918.9 3225.6 L920.7 3231.3 L922.5 3237.1 L924.3 3242.8 L926.1 3248.6 L927.8 3254.3 L929.6 3260 L931.4 3265.8 L933.1 3271.6 L934.9 3277.3 L936.6 3283.1 L938.4 3288.8 L940.1 3294.6 L941.8 3300.4 L943.5 3306.1 L945.2 3311.9 L946.9 3317.7 L948.6 3323.4 L950.3 3329.2 L952 3335 L954.5 3335 L955.8 1946 L955.8 1946 L957.9 1951.6 L960 1957.2 L962.2 1962.9 L963.9 1967.6 L964.2 1968.5 L966.3 1974.2 L968.3 1979.8 L970.4 1985.5 L972.4 1991.1 L974.4 1996.8 L976.4 2002.4 L978.4 2008.1 L980.4 2013.8 L982.3 2019.5 L984.3 2025.1 L986.3 2030.8 L988.2 2036.5 L990.2 2042.2 L992.2 2047.9 L994.2 2053.5 L996.1 2059.2 L998.1 2064.9 L1000.1 2070.5 L1002.1 2076.2 L1004.1 2081.9 L1006.1 2087.5 L1008.1 2093.2 L1010.2 2098.8 L1011.5 2102.5 L1012.2 2104.5 L1014.3 2110.1 L1016.4 2115.8 L1018.4 2121.4 L1020.5 2127.1 L1022.6 2132.7 L1024.7 2138.3 L1026.8 2144 L1028.9 2149.6 L1031 2155.2 L1033.1 2160.8 L1035.2 2166.5 L1037.4 2172.1 L1039.5 2177.7 L1041.6 2183.3 L1043.7 2188.9 L1045.9 2194.6 L1048 2200.2 L1050.2 2205.8 L1052.3 2211.4 L1054.4 2217 L1056.6 2222.6 L1058.7 2228.2 L1059.5 2230.3 L1060.9 2233.9 L1063 2239.5 L1065.2 2245.1 L1067.3 2250.7 L1069.5 2256.3 L1071.6 2261.9 L1073.8 2267.5 L1076 2273.1 L1078.1 2278.7 L1080.3 2284.3 L1082.5 2289.9 L1084.7 2295.5 L1086.9 2301.1 L1089 2306.7 L1091.2 2312.3 L1093.4 2317.9 L1095.6 2323.5 L1097.8 2329.1 L1100 2334.7 L1102.1 2340.3 L1104.3 2345.9 L1106.5 2351.5 L1108 2355.3 L1108.7 2357.1 L1110.9 2362.7 L1113.1 2368.3 L1115.3 2373.9 L1117.4 2379.5 L1119.6 2385.1 L1121.8 2390.7 L1124 2396.3 L1126.2 2401.9 L1128.4 2407.5 L1130.6 2413.1 L1132.8 2418.6 L1135 2424.2 L1137.2 2429.8 L1139.4 2435.4 L1141.6 2441 L1143.8 2446.6 L1145.9 2452.2 L1148.2 2457.8 L1150.4 2463.4 L1152.6 2469 L1154.8 2474.6 L1155.6 2476.7 L1157 2480.2 L1159.2 2485.7 L1161.4 2491.3 L1163.6 2496.9 L1165.8 2502.5 L1168 2508.1 L1170.2 2513.7 L1172.4 2519.3 L1174.6 2524.9 L1176.9 2530.4 L1179.1 2536 L1181.3 2541.6 L1183.5 2547.2 L1185.7 2552.8 L1188 2558.4 L1190.2 2563.9 L1192.4 2569.5 L1194.6 2575.1 L1196.9 2580.7 L1199.1 2586.3 L1201.3 2591.9 L1203.2 2596.6 L1203.5 2597.4 L1205.8 2603 L1208 2608.6 L1210.2 2614.2 L1212.5 2619.7 L1214.7 2625.3 L1217 2630.9 L1219.2 2636.5 L1221.5 2642 L1223.7 2647.6 L1226 2653.2 L1228.2 2658.7 L1230.5 2664.3 L1232.7 2669.9 L1235 2675.5 L1237.2 2681 L1239.5 2686.6 L1241.7 2692.2 L1243.9 2697.8 L1246.2 2703.3 L1248.4 2708.9 L1250.6 2714.5 L1251.6 2717 L1252.8 2720.1 L1255 2725.7 L1257.3 2731.3 L1259.5 2736.9 L1261.7 2742.4 L1263.9 2748 L1266.1 2753.6 L1268.3 2759.2 L1270.5 2764.8 L1272.6 2770.4 L1274.8 2776 L1277 2781.6 L1279.2 2787.2 L1281.4 2792.8 L1283.6 2798.4 L1285.8 2804 L1288 2809.6 L1290.2 2815.2 L1292.3 2820.8 L1294.5 2826.4 L1296.7 2832 L1298.9 2837.6 L1299.2 2838.3 L1301.1 2843.2 L1303.3 2848.7 L1305.5 2854.3 L1307.7 2859.9 L1309.9 2865.5 L1312.1 2871.1 L1314.3 2876.7 L1316.5 2882.3 L1318.8 2887.9 L1321 2893.5 L1323.2 2899 L1325.4 2904.6 L1327.6 2910.2 L1329.8 2915.8 L1332 2921.4 L1334.1 2927 L1336.3 2932.6 L1338.5 2938.2 L1340.6 2943.8 L1342.8 2949.5 L1344.9 2955.1 L1347 2960.7 L1348 2963.3 L1349.1 2966.3 L1351.2 2971.9 L1353.3 2977.6 L1355.4 2983.2 L1357.5 2988.8 L1359.5 2994.5 L1361.6 3000.1 L1363.7 3005.8 L1365.7 3011.4 L1367.7 3017.1 L1369.8 3022.7 L1371.8 3028.4 L1373.8 3034.1 L1375.8 3039.7 L1377.9 3045.4 L1379.9 3051 L1381.9 3056.7 L1383.9 3062.4 L1385.9 3068 L1387.9 3073.7 L1389.9 3079.4 L1391.9 3085 L1393.9 3090.7 L1394.4 3092.2 L1395.9 3096.4 L1397.8 3102 L1399.8 3107.7 L1401.8 3113.4 L1403.8 3119.1 L1405.7 3124.8 L1407.7 3130.4 L1409.6 3136.1 L1411.6 3141.8 L1413.5 3147.5 L1415.5 3153.2 L1417.4 3158.9 L1419.3 3164.5 L1421.3 3170.2 L1423.2 3175.9 L1425.1 3181.6 L1427.1 3187.3 L1429 3193 L1431 3198.7 L1432.9 3204.4 L1434.8 3210.1 L1436.8 3215.7 L1438.7 3221.4 L1440.7 3227.1 L1441 3228 L1442.6 3232.8 L1444.6 3238.5 L1446.6 3244.1 L1448.5 3249.8 L1450.5 3255.5 L1452.4 3261.2 L1454.4 3266.9 L1456.4 3272.5 L1458.3 3278.2 L1460.3 3283.9 L1462.3 3289.6 L1464.2 3295.3 L1466.2 3300.9 L1468.2 3306.6 L1470.1 3312.3 L1472.1 3318 L1474.1 3323.6 L1476 3329.3 L1478 3335 L1480 3335 L1481 1946 L1481 1946 L1482.7 1951.8 L1484.4 1957.6 L1486.1 1963.3 L1487.9 1969.1 L1489.7 1974.8 L1490.9 1978.7 L1491.5 1980.6 L1493.4 1986.3 L1495.3 1992 L1497.3 1997.7 L1499.2 2003.3 L1501.2 2009 L1503.3 2014.7 L1505.3 2020.3 L1507.4 2026 L1509.5 2031.6 L1511.6 2037.3 L1513.7 2042.9 L1515.8 2048.6 L1517.9 2054.2 L1520.1 2059.8 L1522.2 2065.5 L1524.3 2071.1 L1526.5 2076.7 L1528.6 2082.4 L1530.7 2088 L1532.8 2093.6 L1534.9 2099.3 L1537 2104.9 L1539.1 2110.6 L1540.5 2114.4 L1541.2 2116.2 L1543.2 2121.9 L1545.2 2127.6 L1547.3 2133.2 L1549.3 2138.9 L1551.3 2144.6 L1553.3 2150.2 L1555.3 2155.9 L1557.3 2161.6 L1559.4 2167.3 L1561.4 2172.9 L1563.4 2178.6 L1565.4 2184.3 L1567.4 2190 L1569.4 2195.6 L1571.5 2201.3 L1573.5 2207 L1575.6 2212.6 L1577.6 2218.3 L1579.7 2223.9 L1581.8 2229.6 L1583.9 2235.2 L1586 2240.8 L1587.3 2244.2 L1588.2 2246.5 L1590.3 2252.1 L1592.5 2257.7 L1594.7 2263.3 L1596.9 2268.9 L1599.1 2274.5 L1601.3 2280.1 L1603.5 2285.7 L1605.7 2291.3 L1608 2296.9 L1610.2 2302.5 L1612.5 2308 L1614.8 2313.6 L1617 2319.2 L1619.3 2324.8 L1621.6 2330.3 L1623.9 2335.9 L1626.2 2341.5 L1628.5 2347 L1630.8 2352.6 L1633.1 2358.2 L1635.4 2363.7 L1635.7 2364.4 L1637.7 2369.3 L1640 2374.8 L1642.4 2380.4 L1644.7 2385.9 L1647 2391.5 L1649.4 2397 L1651.7 2402.6 L1654 2408.1 L1656.4 2413.7 L1658.8 2419.2 L1661.1 2424.7 L1663.5 2430.3 L1665.9 2435.8 L1668.3 2441.3 L1670.7 2446.8 L1673.1 2452.4 L1675.5 2457.9 L1677.9 2463.4 L1680.3 2468.9 L1682.8 2474.4 L1683.3 2475.6 L1685.2 2479.9 L1687.7 2485.4 L1690.1 2490.9 L1692.6 2496.4 L1695.1 2501.9 L1697.6 2507.3 L1700.1 2512.8 L1702.6 2518.3 L1705.1 2523.8 L1707.6 2529.2 L1710.2 2534.7 L1712.7 2540.1 L1715.2 2545.6 L1717.8 2551.1 L1720.3 2556.5 L1722.9 2562 L1725.5 2567.4 L1728 2572.9 L1730.6 2578.3 L1731.7 2580.7 L1733.1 2583.8 L1735.7 2589.2 L1738.3 2594.6 L1740.9 2600.1 L1743.4 2605.5 L1746 2611 L1748.6 2616.4 L1751.2 2621.8 L1753.8 2627.3 L1756.4 2632.7 L1759 2638.1 L1761.6 2643.5 L1764.3 2649 L1766.9 2654.4 L1769.5 2659.8 L1772.2 2665.2 L1774.8 2670.6 L1777.5 2676 L1779 2679 L1780.2 2681.4 L1782.9 2686.8 L1785.6 2692.1 L1788.3 2697.5 L1791 2702.9 L1793.7 2708.3 L1796.4 2713.6 L1799.2 2719 L1801.9 2724.3 L1804.7 2729.7 L1807.4 2735.1 L1810.2 2740.4 L1812.9 2745.8 L1815.7 2751.1 L1818.5 2756.5 L1821.2 2761.8 L1824 2767.2 L1826.7 2772.5 L1827 2773 L1829.5 2777.8 L1832.3 2783.2 L1835 2788.5 L1837.8 2793.9 L1840.6 2799.2 L1843.3 2804.6 L1846.1 2809.9 L1848.9 2815.3 L1851.6 2820.6 L1854.4 2826 L1857.2 2831.3 L1860 2836.6 L1862.8 2842 L1865.6 2847.3 L1868.4 2852.6 L1871.2 2857.9 L1874 2863.3 L1875.5 2866 L1876.9 2868.6 L1879.7 2873.9 L1882.6 2879.2 L1885.4 2884.5 L1888.3 2889.8 L1891.2 2895 L1894.1 2900.3 L1897 2905.6 L1899.8 2910.9 L1902.7 2916.2 L1905.6 2921.5 L1908.5 2926.7 L1911.4 2932 L1914.3 2937.3 L1917.1 2942.6 L1920 2947.9 L1922.8 2953.2 L1924 2955.4 L1925.7 2958.5 L1928.5 2963.8 L1931.3 2969.1 L1934.2 2974.5 L1937 2979.8 L1939.8 2985.1 L1942.6 2990.4 L1945.4 2995.7 L1948.2 3001.1 L1951 3006.4 L1953.8 3011.7 L1956.6 3017.1 L1959.4 3022.4 L1962.2 3027.7 L1964.9 3033.1 L1967.7 3038.5 L1970.4 3043.8 L1972.5 3048 L1973.1 3049.2 L1975.9 3054.6 L1978.7 3059.9 L1981.5 3065.3 L1984.4 3070.6 L1987.2 3075.9 L1990.1 3081.3 L1993 3086.6 L1995.8 3092 L1998.7 3097.4 L2001.4 3102.7 L2004.1 3108.1 L2006.8 3113.6 L2009.3 3119 L2011.8 3124.5 L2014.2 3130 L2016.4 3135.5 L2018.5 3141.1 L2020.5 3146.7 L2020.7 3147.3 L2022.3 3152.3 L2024.1 3158 L2025.8 3163.7 L2027.4 3169.5 L2029 3175.3 L2030.5 3181.2 L2032 3187 L2033.4 3192.9 L2034.8 3198.8 L2036.2 3204.7 L2037.5 3210.6 L2038.8 3216.5 L2040.1 3222.4 L2041.4 3228.3 L2041.8 3230 L2042.7 3234.2 L2044 3240 L2045.2 3245.9 L2046.5 3251.8 L2047.7 3257.7 L2048.8 3263.6 L2049.9 3269.6 L2051 3275.5 L2051.6 3279 L2052 3281.4 L2053 3287.3 L2054 3293.3 L2054.9 3299.2 L2055.9 3305.2 L2056.8 3311.1 L2057.6 3317.1 L2058.4 3323.1 L2059.2 3329 L2060 3335 L2063 3335 L2064.9 1966 L2064.9 1966 L2065.2 1972 L2065.5 1978.1 L2065.7 1984.1 L2066 1990.1 L2066.3 1996.2 L2066.6 2002.2 L2066.8 2008.2 L2067.1 2014.2 L2067.4 2020.3 L2067.6 2026.3 L2067.9 2032.3 L2068.2 2038.4 L2068.4 2044.4 L2068.7 2050.4 L2069 2056.5 L2069.2 2062.5 L2069.5 2068.5 L2069.5 2068.8 L2069.7 2074.6 L2070 2080.6 L2070.2 2086.6 L2070.5 2092.7 L2070.7 2098.7 L2071 2104.7 L2071.2 2110.8 L2071.4 2116.8 L2071.7 2122.8 L2071.9 2128.9 L2072.1 2134.9 L2072.4 2140.9 L2072.6 2147 L2072.9 2153 L2073.1 2159 L2073.4 2165 L2073.7 2171.1 L2074 2177.1 L2074.3 2183.1 L2074.5 2187.9 L2074.6 2189.2 L2074.9 2195.2 L2075.2 2201.2 L2075.5 2207.2 L2075.9 2213.3 L2076.2 2219.3 L2076.6 2225.3 L2077 2231.4 L2077.4 2237.4 L2077.8 2243.4 L2078.2 2249.4 L2078.6 2255.5 L2079 2261.5 L2079.4 2267.5 L2079.9 2273.5 L2080.3 2279.6 L2080.8 2285.6 L2081.2 2291.6 L2081.7 2297.6 L2082.2 2303.6 L2082.5 2306.9 L2082.7 2309.6 L2083.3 2315.6 L2083.8 2321.7 L2084.4 2327.7 L2085 2333.7 L2085.6 2339.7 L2086.2 2345.7 L2086.8 2351.7 L2087.5 2357.7 L2088.2 2363.7 L2088.8 2369.7 L2089.6 2375.7 L2090.3 2381.7 L2091 2387.7 L2091.8 2393.7 L2092.5 2399.7 L2093.3 2405.7 L2094 2411 L2094.1 2411.6 L2094.9 2417.6 L2095.7 2423.6 L2096.6 2429.6 L2097.4 2435.6 L2098.3 2441.5 L2099.3 2447.5 L2100.2 2453.5 L2101.2 2459.4 L2102.2 2465.4 L2103.3 2471.3 L2104.4 2477.3 L2105.5 2483.2 L2106 2485.5 L2106.7 2489.1 L2108 2495 L2109.4 2500.9 L2110.8 2506.7 L2112.3 2512.6 L2113.8 2518.5 L2115.4 2524.3 L2117.1 2530.1 L2117.9 2533 L2118.7 2535.9 L2120.5 2541.6 L2122.3 2547.4 L2124.1 2553.2 L2126 2558.9 L2128 2564.7 L2130 2570.4 L2132 2576.1 L2134.1 2581.7 L2136.3 2587.4 L2138.5 2593 L2140.8 2598.5 L2141.4 2600 L2143.1 2604.1 L2145.7 2609.5 L2148.3 2614.9 L2151.1 2620.3 L2153.9 2625.7 L2156.7 2631 L2159.5 2636.4 L2162.2 2641.8 L2164.6 2646.7 L2164.9 2647.2 L2167.5 2652.7 L2170.1 2658.1 L2172.6 2663.6 L2175.1 2669.1 L2177.7 2674.6 L2180.2 2680.1 L2182.6 2685.6 L2185.1 2691.1 L2186.1 2693.3 L2187.5 2696.6 L2189.9 2702.2 L2192.3 2707.7 L2194.6 2713.3 L2196.9 2718.9 L2199.2 2724.4 L2201.6 2730 L2204 2735.5 L2206.1 2740 L2206.5 2741 L2209.3 2746.4 L2212.3 2751.7 L2215.2 2757.1 L2217.9 2762.5 L2220.3 2767.9 L2221 2770 L2222.1 2773.6 L2223.8 2779.3 L2225.4 2785.2 L2226.8 2791.1 L2228.1 2797.1 L2229.2 2803 L2230 2808 L2230.1 2809 L2231 2814.9 L2231.8 2820.9 L2232.5 2826.9 L2233.1 2832.9 L2233.6 2838.9 L2234 2845 L2233.8 2845 L2233.3 1982.5 L2233.3 1982.5 L2235 1988.4 L2236.7 1994.4 L2238.3 2000.4 L2239.7 2006.4 L2241 2012 L2241.1 2012.4 L2242.3 2018.4 L2243.4 2024.5 L2244.4 2030.6 L2245.5 2036.7 L2246.6 2042.8 L2247 2045 L2247.8 2048.9 L2249 2054.9 L2250.4 2060.9 L2251.7 2067 L2253.1 2073 L2254.5 2079 L2256 2085" fill="none" stroke="#0a0a0a" stroke-width="9.7" stroke-linejoin="round"/>
<rect x="376.6" y="3209.8" width="21.3" height="21.3" fill="#f6f6f6" stroke="#9a9a9a" stroke-width="1.6"/>
<rect x="474.3" y="2009.4" width="21.3" height="21.3" fill="#f6f6f6" stroke="#9a9a9a" stroke-width="1.6"/>
<rect x="522.3" y="2112.5" width="21.3" height="21.3" fill="#f6f6f6" stroke="#9a9a9a" stroke-width="1.6"/>
<rect x="570.3" y="2219.5" width="21.3" height="21.3" fill="#f6f6f6" stroke="#9a9a9a" stroke-width="1.6"/>
<rect x="618.3" y="2334.6" width="21.3" height="21.3" fill="#f6f6f6" stroke="#9a9a9a" stroke-width="1.6"/>
<rect x="666.3" y="2455.7" width="21.3" height="21.3" fill="#f6f6f6" stroke="#9a9a9a" stroke-width="1.6"/>
<rect x="714.3" y="2595.8" width="21.3" height="21.3" fill="#f6f6f6" stroke="#9a9a9a" stroke-width="1.6"/>
<rect x="762.3" y="2750" width="21.3" height="21.3" fill="#f6f6f6" stroke="#9a9a9a" stroke-width="1.6"/>
<rect x="810.3" y="2906.4" width="21.3" height="21.3" fill="#f6f6f6" stroke="#9a9a9a" stroke-width="1.6"/>
<rect x="858.3" y="3066.8" width="21.3" height="21.3" fill="#f6f6f6" stroke="#9a9a9a" stroke-width="1.6"/>
<rect x="906.3" y="3209.1" width="21.3" height="21.3" fill="#f6f6f6" stroke="#9a9a9a" stroke-width="1.6"/>
<rect x="954.3" y="1960" width="21.3" height="21.3" fill="#f6f6f6" stroke="#9a9a9a" stroke-width="1.6"/>
<rect x="1002.3" y="2096" width="21.3" height="21.3" fill="#f6f6f6" stroke="#9a9a9a" stroke-width="1.6"/>
<rect x="1050.3" y="2223.6" width="21.3" height="21.3" fill="#f6f6f6" stroke="#9a9a9a" stroke-width="1.6"/>
<rect x="1098.3" y="2347.2" width="21.3" height="21.3" fill="#f6f6f6" stroke="#9a9a9a" stroke-width="1.6"/>
<rect x="1146.3" y="2469.6" width="21.3" height="21.3" fill="#f6f6f6" stroke="#9a9a9a" stroke-width="1.6"/>
<rect x="1194.3" y="2590.4" width="21.3" height="21.3" fill="#f6f6f6" stroke="#9a9a9a" stroke-width="1.6"/>
<rect x="1242.3" y="2709.9" width="21.3" height="21.3" fill="#f6f6f6" stroke="#9a9a9a" stroke-width="1.6"/>
<rect x="1290.3" y="2832.2" width="21.3" height="21.3" fill="#f6f6f6" stroke="#9a9a9a" stroke-width="1.6"/>
<rect x="1338.3" y="2955.3" width="21.3" height="21.3" fill="#f6f6f6" stroke="#9a9a9a" stroke-width="1.6"/>
<rect x="1386.3" y="3089" width="21.3" height="21.3" fill="#f6f6f6" stroke="#9a9a9a" stroke-width="1.6"/>
<rect x="1434.3" y="3228.9" width="21.3" height="21.3" fill="#f6f6f6" stroke="#9a9a9a" stroke-width="1.6"/>
<rect x="1482.3" y="1974.4" width="21.3" height="21.3" fill="#f6f6f6" stroke="#9a9a9a" stroke-width="1.6"/>
<rect x="1530.3" y="2105.1" width="21.3" height="21.3" fill="#f6f6f6" stroke="#9a9a9a" stroke-width="1.6"/>
<rect x="1578.3" y="2238" width="21.3" height="21.3" fill="#f6f6f6" stroke="#9a9a9a" stroke-width="1.6"/>
<rect x="1626.3" y="2356.9" width="21.3" height="21.3" fill="#f6f6f6" stroke="#9a9a9a" stroke-width="1.6"/>
<rect x="1674.3" y="2468.8" width="21.3" height="21.3" fill="#f6f6f6" stroke="#9a9a9a" stroke-width="1.6"/>
<rect x="1722.3" y="2572.8" width="21.3" height="21.3" fill="#f6f6f6" stroke="#9a9a9a" stroke-width="1.6"/>
<rect x="1770.3" y="2672.4" width="21.3" height="21.3" fill="#f6f6f6" stroke="#9a9a9a" stroke-width="1.6"/>
<rect x="1818.3" y="2766.2" width="21.3" height="21.3" fill="#f6f6f6" stroke="#9a9a9a" stroke-width="1.6"/>
<rect x="1866.3" y="2858.2" width="21.3" height="21.3" fill="#f6f6f6" stroke="#9a9a9a" stroke-width="1.6"/>
<rect x="1914.3" y="2946.6" width="21.3" height="21.3" fill="#f6f6f6" stroke="#9a9a9a" stroke-width="1.6"/>
<rect x="1962.3" y="3038.3" width="21.3" height="21.3" fill="#f6f6f6" stroke="#9a9a9a" stroke-width="1.6"/>
<rect x="2010.3" y="3137.6" width="21.3" height="21.3" fill="#f6f6f6" stroke="#9a9a9a" stroke-width="1.6"/>
<rect x="2056" y="1991.1" width="21.3" height="21.3" fill="#f6f6f6" stroke="#9a9a9a" stroke-width="1.6"/>
<rect x="2106.3" y="2520.3" width="21.3" height="21.3" fill="#f6f6f6" stroke="#9a9a9a" stroke-width="1.6"/>
<rect x="2154.3" y="2641.3" width="21.3" height="21.3" fill="#f6f6f6" stroke="#9a9a9a" stroke-width="1.6"/>
<rect x="2202.3" y="2734.3" width="21.3" height="21.3" fill="#f6f6f6" stroke="#9a9a9a" stroke-width="1.6"/>
<path d="M388.5 3221 L441 3335 L443 3335 L446 1946 L446 1946 L448.6 1951.4 L451.2 1956.8 L453.8 1962.3 L456.4 1967.7 L459 1973.1 L461.6 1978.5 L464.2 1983.9 L466.8 1989.4 L469.3 1994.8 L471.9 2000.2 L474.5 2005.7 L477 2011.1 L479.6 2016.5 L482.1 2022 L484 2026 L484.7 2027.4 L487.2 2032.9 L489.7 2038.3 L492.3 2043.8 L494.8 2049.2 L497.4 2054.7 L499.9 2060.1 L502.5 2065.5 L505.1 2071 L507.6 2076.4 L510.2 2081.9 L512.7 2087.3 L515.3 2092.8 L517.8 2098.2 L520.4 2103.7 L522.9 2109.1 L525.5 2114.6 L528 2120 L530.5 2125.5 L533 2130.9 L535.6 2136.4 L538.1 2141.9 L540.6 2147.3 L543.1 2152.8 L545.5 2158.3 L548 2163.8 L550.5 2169.2 L552.9 2174.7 L555.4 2180.2 L557.8 2185.7 L560.2 2191.2 L562.6 2196.7 L565 2202.2 L567.4 2207.7 L569.7 2213.3 L572.1 2218.8 L574.4 2224.3 L576.7 2229.9 L579 2235.4 L581.3 2241 L581.5 2241.5 L583.5 2246.5 L585.8 2252.1 L588 2257.6 L590.3 2263.2 L592.5 2268.8 L594.7 2274.4 L596.9 2280 L599.1 2285.5 L601.3 2291.1 L603.5 2296.7 L605.7 2302.3 L607.9 2307.9 L610 2313.6 L612.2 2319.2 L614.3 2324.8 L616.4 2330.4 L618.6 2336 L620.7 2341.7 L622.8 2347.3 L624.9 2352.9 L627 2358.6 L629.1 2364.2 L631.2 2369.9 L633.2 2375.5 L635.3 2381.2 L637.4 2386.8 L639.4 2392.5 L641.5 2398.1 L643.5 2403.8 L645.5 2409.5 L647.5 2415.1 L649.5 2420.8 L651.5 2426.5 L653.5 2432.1 L655.5 2437.8 L657.5 2443.5 L659.4 2449.2 L661.4 2454.9 L663.3 2460.6 L665.3 2466.2 L667.2 2471.9 L669.1 2477.6 L671 2483.3 L672.9 2489 L674.8 2494.7 L676.7 2500.4 L677.4 2502.5 L678.6 2506.1 L680.5 2511.8 L682.3 2517.5 L684.2 2523.2 L686 2528.9 L687.8 2534.7 L689.6 2540.4 L691.4 2546.1 L693.2 2551.8 L695 2557.6 L696.8 2563.3 L698.6 2569 L700.3 2574.8 L702.1 2580.5 L703.8 2586.3 L705.6 2592 L707.3 2597.8 L709 2603.5 L710.7 2609.3 L712.5 2615.1 L714.2 2620.8 L715.9 2626.6 L717.6 2632.4 L719.3 2638.1 L720.9 2643.9 L722.6 2649.7 L724.3 2655.4 L726 2661.2 L727.7 2667 L729.3 2672.8 L731 2678.5 L732.7 2684.3 L734.3 2690.1 L736 2695.9 L737.6 2701.7 L739.3 2707.4 L741 2713.2 L742.6 2719 L744.3 2724.8 L745.9 2730.6 L747.6 2736.3 L749.2 2742.1 L750.9 2747.9 L752.5 2753.7 L754.2 2759.5 L755.9 2765.2 L757.5 2771 L759.2 2776.8 L760.9 2782.6 L762.5 2788.4 L764.2 2794.1 L765.9 2799.9 L767.6 2805.7 L769.3 2811.4 L770.6 2816 L771 2817.2 L772.6 2823 L774.3 2828.7 L776 2834.5 L777.7 2840.3 L779.4 2846 L781 2851.8 L782.7 2857.6 L784.4 2863.4 L786 2869.1 L787.7 2874.9 L789.3 2880.7 L791 2886.5 L792.6 2892.3 L794.3 2898 L795.9 2903.8 L797.6 2909.6 L799.2 2915.4 L800.9 2921.2 L802.5 2926.9 L804.2 2932.7 L805.8 2938.5 L807.5 2944.3 L809.1 2950.1 L810.7 2955.8 L812.4 2961.6 L814 2967.4 L815.7 2973.2 L817.3 2979 L819 2984.8 L820.6 2990.5 L822.3 2996.3 L823.9 3002.1 L825.6 3007.9 L827.2 3013.6 L828.9 3019.4 L830.5 3025.2 L832.2 3031 L833.9 3036.7 L835.5 3042.5 L837.2 3048.3 L838.9 3054.1 L840.6 3059.8 L842.3 3065.6 L843.9 3071.4 L845.6 3077.1 L847.3 3082.9 L849 3088.7 L850.7 3094.4 L852.4 3100.2 L854.2 3105.9 L855.9 3111.7 L857.6 3117.4 L859.3 3123.2 L861.1 3128.9 L862.8 3134.7 L864.6 3140.4 L865 3141.8 L866.3 3146.2 L868.1 3151.9 L869.9 3157.7 L871.7 3163.4 L873.4 3169.2 L875.2 3174.9 L877 3180.6 L878.8 3186.4 L880.6 3192.1 L882.4 3197.8 L884.2 3203.6 L886 3209.3 L887.9 3215 L889.7 3220.7 L891.5 3226.5 L893.4 3232.2 L895.2 3237.9 L897 3243.6 L898.9 3249.3 L900.7 3255.1 L902.6 3260.8 L904.4 3266.5 L906.3 3272.2 L908.2 3277.9 L910 3283.6 L911.9 3289.3 L913.8 3295.1 L915.7 3300.8 L917.5 3306.5 L919.4 3312.2 L921.3 3317.9 L923.2 3323.6 L925.1 3329.3 L927 3335 L930.6 3335 L931.6 1946 L931.6 1946 L933.5 1951.7 L935.4 1957.4 L937.4 1963.1 L939.3 1968.8 L941.2 1974.5 L943.1 1980.1 L945.1 1985.8 L947 1991.5 L949 1997.2 L950.9 2002.9 L952.9 2008.6 L954.8 2014.2 L956.8 2019.9 L958.8 2025.6 L960.8 2031.3 L962.8 2036.9 L963.9 2040.2 L964.7 2042.6 L966.7 2048.3 L968.8 2053.9 L970.8 2059.6 L972.8 2065.2 L974.8 2070.9 L976.8 2076.6 L978.8 2082.2 L980.9 2087.9 L982.9 2093.5 L984.9 2099.2 L986.9 2104.8 L989 2110.5 L991 2116.1 L993.1 2121.8 L995.1 2127.4 L997.2 2133.1 L999.2 2138.7 L1001.3 2144.4 L1003.3 2150 L1005.4 2155.7 L1007.5 2161.3 L1009.5 2166.9 L1011.6 2172.6 L1013.7 2178.2 L1015.8 2183.9 L1017.8 2189.5 L1019.9 2195.1 L1022 2200.8 L1024.1 2206.4 L1026.2 2212 L1028.3 2217.7 L1030.4 2223.3 L1032.5 2228.9 L1034.6 2234.6 L1036.7 2240.2 L1038.8 2245.8 L1040.9 2251.4 L1043 2257.1 L1045.1 2262.7 L1047.2 2268.3 L1049.3 2273.9 L1051.4 2279.6 L1053.5 2285.2 L1055.7 2290.8 L1057.8 2296.4 L1059.5 2301 L1059.9 2302.1 L1062 2307.7 L1064.1 2313.3 L1066.3 2318.9 L1068.4 2324.5 L1070.6 2330.1 L1072.7 2335.7 L1074.8 2341.4 L1077 2347 L1079.1 2352.6 L1081.3 2358.2 L1083.5 2363.8 L1085.6 2369.4 L1087.8 2375 L1089.9 2380.6 L1092.1 2386.2 L1094.3 2391.8 L1096.5 2397.4 L1098.6 2403 L1100.8 2408.6 L1103 2414.2 L1105.2 2419.8 L1107.4 2425.4 L1109.5 2431 L1111.7 2436.6 L1113.9 2442.2 L1116.1 2447.8 L1118.3 2453.4 L1120.5 2459 L1122.7 2464.6 L1124.9 2470.2 L1127.1 2475.8 L1129.3 2481.3 L1131.5 2486.9 L1133.7 2492.5 L1135.9 2498.1 L1138.1 2503.7 L1140.3 2509.3 L1142.5 2514.9 L1144.7 2520.5 L1146.9 2526.1 L1149.1 2531.7 L1151.3 2537.2 L1153.5 2542.8 L1154.8 2546.2 L1155.7 2548.4 L1157.9 2554 L1160.1 2559.6 L1162.3 2565.2 L1164.5 2570.8 L1166.7 2576.4 L1169 2581.9 L1171.2 2587.5 L1173.4 2593.1 L1175.6 2598.7 L1177.9 2604.3 L1180.1 2609.8 L1182.3 2615.4 L1184.6 2621 L1186.8 2626.6 L1189 2632.1 L1191.3 2637.7 L1193.5 2643.3 L1195.7 2648.9 L1198 2654.4 L1200.2 2660 L1202.5 2665.6 L1204.7 2671.2 L1206.9 2676.7 L1209.2 2682.3 L1211.4 2687.9 L1213.7 2693.5 L1215.9 2699 L1218.1 2704.6 L1220.4 2710.2 L1222.6 2715.8 L1224.8 2721.4 L1227 2726.9 L1229.3 2732.5 L1231.5 2738.1 L1233.7 2743.7 L1235.9 2749.3 L1238.1 2754.9 L1240.4 2760.4 L1242.6 2766 L1244.8 2771.6 L1247 2777.2 L1249.2 2782.8 L1251.4 2788.4 L1251.6 2789 L1253.5 2794 L1255.7 2799.6 L1257.9 2805.2 L1260.1 2810.8 L1262.3 2816.4 L1264.5 2822 L1266.7 2827.6 L1268.8 2833.2 L1271 2838.7 L1273.2 2844.3 L1275.4 2849.9 L1277.6 2855.5 L1279.7 2861.1 L1281.9 2866.7 L1284.1 2872.3 L1286.3 2877.9 L1288.4 2883.6 L1290.6 2889.2 L1292.8 2894.8 L1294.9 2900.4 L1297.1 2906 L1299.3 2911.6 L1301.4 2917.2 L1303.6 2922.8 L1305.7 2928.4 L1307.9 2934 L1310 2939.6 L1312.2 2945.2 L1314.3 2950.8 L1316.5 2956.4 L1318.6 2962.1 L1320.8 2967.7 L1322.9 2973.3 L1325 2978.9 L1327.2 2984.5 L1329.3 2990.1 L1331.4 2995.8 L1333.5 3001.4 L1335.7 3007 L1337.8 3012.6 L1339.9 3018.2 L1342 3023.9 L1344.1 3029.5 L1346.2 3035.1 L1348 3039.8 L1348.3 3040.7 L1350.5 3046.4 L1352.6 3052 L1354.7 3057.6 L1356.8 3063.2 L1359 3068.8 L1361.1 3074.5 L1363.2 3080.1 L1365.4 3085.7 L1367.5 3091.3 L1369.7 3096.9 L1371.8 3102.5 L1374 3108.2 L1376.2 3113.8 L1378.3 3119.4 L1380.5 3125 L1382.6 3130.6 L1384.8 3136.2 L1386.9 3141.9 L1389 3147.5 L1391.2 3153.1 L1393.3 3158.7 L1395.4 3164.3 L1397.5 3170 L1399.7 3175.6 L1401.8 3181.2 L1403.9 3186.9 L1405.9 3192.5 L1408 3198.1 L1410.1 3203.8 L1412.2 3209.4 L1414.2 3215.1 L1416.2 3220.7 L1418.3 3226.4 L1420.3 3232.1 L1422.3 3237.7 L1424.2 3243.4 L1426.2 3249.1 L1428.1 3254.7 L1430.1 3260.4 L1432 3266.1 L1433.9 3271.8 L1435.8 3277.5 L1437.6 3283.2 L1439.5 3288.9 L1441.3 3294.6 L1443.1 3300.4 L1444.2 3304 L1444.8 3306.1 L1446.5 3311.8 L1448.2 3317.6 L1449.8 3323.4 L1451.4 3329.2 L1453 3335 L1453.5 3335 L1454.5 1946 L1454.5 1946 L1456.5 1951.7 L1458.6 1957.3 L1460.6 1962.9 L1462.7 1968.6 L1464.7 1974.2 L1466.8 1979.9 L1468.9 1985.5 L1470.9 1991.2 L1473 1996.8 L1475.1 2002.4 L1477.2 2008.1 L1479.3 2013.7 L1481.4 2019.3 L1483.5 2025 L1485.6 2030.6 L1487.7 2036.2 L1489.8 2041.8 L1491.9 2047.5 L1494 2053.1 L1496.1 2058.7 L1498.3 2064.3 L1500.4 2069.9 L1502.5 2075.5 L1504.7 2081.2 L1506.8 2086.8 L1509 2092.4 L1511.1 2098 L1513.3 2103.6 L1515.4 2109.2 L1517.6 2114.8 L1519.8 2120.4 L1522 2126 L1524.1 2131.6 L1526.3 2137.2 L1528.5 2142.8 L1530.7 2148.3 L1532.9 2153.9 L1535.1 2159.5 L1537.3 2165.1 L1539.5 2170.7 L1540.5 2173.2 L1541.7 2176.3 L1543.9 2181.8 L1546.1 2187.4 L1548.4 2193 L1550.6 2198.6 L1552.8 2204.2 L1555.1 2209.7 L1557.3 2215.3 L1559.5 2220.9 L1561.8 2226.5 L1564 2232 L1566.3 2237.6 L1568.5 2243.2 L1570.8 2248.7 L1573 2254.3 L1575.3 2259.9 L1577.6 2265.4 L1579.9 2271 L1582.1 2276.6 L1584.4 2282.1 L1586.7 2287.7 L1589 2293.2 L1591.3 2298.8 L1593.6 2304.3 L1596 2309.8 L1598.3 2315.4 L1600.6 2320.9 L1602.9 2326.5 L1605.3 2332 L1607.6 2337.5 L1610 2343 L1612.3 2348.6 L1614.7 2354.1 L1617.1 2359.6 L1619.5 2365.1 L1621.9 2370.6 L1624.3 2376.1 L1626.7 2381.6 L1629.1 2387.1 L1631.5 2392.6 L1633.9 2398.1 L1635.7 2402.1 L1636.4 2403.6 L1638.8 2409.1 L1641.3 2414.5 L1643.7 2420 L1646.2 2425.5 L1648.7 2430.9 L1651.2 2436.4 L1653.7 2441.9 L1656.2 2447.3 L1658.7 2452.8 L1661.3 2458.2 L1663.8 2463.6 L1666.4 2469.1 L1668.9 2474.5 L1671.5 2479.9 L1674.1 2485.4 L1676.6 2490.8 L1679.2 2496.2 L1681.8 2501.6 L1684.4 2507.1 L1687 2512.5 L1689.6 2517.9 L1692.2 2523.3 L1694.9 2528.7 L1697.5 2534.1 L1700.1 2539.5 L1702.7 2544.9 L1705.4 2550.3 L1708 2555.7 L1710.7 2561.1 L1713.3 2566.5 L1716 2571.9 L1718.6 2577.3 L1721.3 2582.7 L1723.9 2588.1 L1726.6 2593.5 L1729.2 2598.8 L1731.9 2604.2 L1733 2606.5 L1734.5 2609.6 L1737.2 2615 L1739.9 2620.4 L1742.5 2625.7 L1745.2 2631.1 L1747.9 2636.5 L1750.6 2641.8 L1753.3 2647.2 L1756 2652.6 L1758.7 2657.9 L1761.5 2663.3 L1764.2 2668.6 L1766.9 2674 L1769.6 2679.3 L1772.4 2684.7 L1775.1 2690 L1777.8 2695.4 L1780.6 2700.7 L1783.3 2706.1 L1786.1 2711.4 L1788.9 2716.7 L1791.6 2722.1 L1794.4 2727.4 L1797.1 2732.7 L1799.9 2738.1 L1802.7 2743.4 L1805.4 2748.7 L1808.2 2754.1 L1811 2759.4 L1813.7 2764.7 L1816.5 2770 L1819.3 2775.4 L1822.1 2780.7 L1824.8 2786 L1827.6 2791.4 L1829 2794 L1830.4 2796.7 L1833.2 2802 L1836 2807.3 L1838.8 2812.6 L1841.6 2817.9 L1844.4 2823.2 L1847.2 2828.5 L1850 2833.8 L1852.9 2839.1 L1855.7 2844.4 L1858.5 2849.7 L1861.4 2855 L1864.2 2860.3 L1867.1 2865.6 L1869.9 2870.9 L1872.8 2876.2 L1875.6 2881.5 L1878.4 2886.8 L1881.3 2892.1 L1884.1 2897.3 L1887 2902.6 L1889.8 2907.9 L1892.6 2913.2 L1895.5 2918.5 L1898.3 2923.8 L1901.1 2929.1 L1903.9 2934.5 L1906.7 2939.8 L1909.5 2945.1 L1912.3 2950.4 L1915.1 2955.7 L1917.8 2961.1 L1920.6 2966.4 L1923.3 2971.7 L1925 2975 L1926.1 2977.1 L1928.8 2982.4 L1931.7 2987.7 L1934.6 2993 L1937.5 2998.4 L1940.4 3003.7 L1943.4 3009 L1946.4 3014.3 L1949.4 3019.6 L1952.4 3024.9 L1955.4 3030.1 L1958.4 3035.5 L1961.4 3040.8 L1964.3 3046.1 L1967.2 3051.4 L1970.1 3056.7 L1973 3062.1 L1975.8 3067.4 L1978.5 3072.8 L1981.2 3078.2 L1983.8 3083.6 L1986.3 3089 L1988.8 3094.5 L1991.1 3099.9 L1993.4 3105.4 L1995.5 3110.9 L1997.6 3116.5 L1999.5 3122.1 L2001.3 3127.7 L2002.8 3132.6 L2003 3133.3 L2004.6 3139 L2006.1 3144.7 L2007.6 3150.5 L2009.1 3156.3 L2010.5 3162.1 L2011.8 3168 L2013.1 3173.9 L2014.4 3179.8 L2015.6 3185.8 L2016.7 3191.7 L2017.8 3197.7 L2018.8 3203.6 L2019.8 3209.6 L2020.7 3215.5 L2021.5 3221.5 L2021.6 3222 L2022.3 3227.4 L2023.1 3233.3 L2023.9 3239.3 L2024.7 3245.2 L2025.5 3251.2 L2026.2 3257.1 L2026.9 3263.1 L2027.6 3269 L2028.3 3275 L2028.9 3281 L2029.5 3287 L2030.1 3292.9 L2030.6 3298.9 L2031.1 3304.9 L2031.6 3310.9 L2032 3316.9 L2032.4 3323 L2032.7 3329 L2033 3335 L2034 3335 L2035.1 1950 L2035.1 1950 L2035.4 1956 L2035.7 1962 L2036 1968 L2036.3 1974 L2036.7 1980.1 L2037 1986.1 L2037.3 1992.1 L2037.7 1998.1 L2038 2004.1 L2038.4 2010.1 L2038.7 2016.1 L2039.1 2022.1 L2039.4 2028.1 L2039.8 2034.1 L2040.2 2040.1 L2040.5 2046.1 L2040.9 2052.1 L2041.3 2058.1 L2041.7 2064.2 L2042 2068.8 L2042.1 2070.2 L2042.5 2076.2 L2042.9 2082.2 L2043.3 2088.2 L2043.7 2094.2 L2044.2 2100.2 L2044.6 2106.2 L2045 2112.2 L2045.5 2118.2 L2045.9 2124.2 L2046.4 2130.2 L2046.8 2136.2 L2047.3 2142.2 L2047.8 2148.2 L2048.2 2154.2 L2048.7 2160.2 L2049.2 2166.2 L2049.6 2172.2 L2050.1 2178.2 L2050.6 2184.2 L2050.9 2187.9 L2051.1 2190.2 L2051.6 2196.2 L2052 2202.2 L2052.5 2208.2 L2053 2214.2 L2053.4 2220.2 L2053.9 2226.2 L2054.4 2232.2 L2054.8 2238.2 L2055.3 2244.2 L2055.8 2250.2 L2056.4 2256.2 L2056.9 2262.2 L2057.4 2268.2 L2058 2274.2 L2058.6 2280.2 L2059.2 2286.1 L2059.8 2292 L2059.8 2292.1 L2060.5 2298.1 L2061.2 2304.1 L2061.9 2310 L2062.7 2316 L2063.5 2322 L2064.3 2327.9 L2065.2 2333.9 L2066 2339.9 L2066.9 2345.8 L2067.9 2351.8 L2068.8 2357.7 L2069.8 2363.6 L2070.2 2366.4 L2070.7 2369.6 L2071.7 2375.5 L2072.7 2381.4 L2073.8 2387.4 L2074.8 2393.3 L2075.9 2399.3 L2077 2405.2 L2078.2 2411.1 L2079.3 2417 L2080.6 2422.9 L2081.8 2428.8 L2083.1 2434.7 L2084.4 2440.6 L2085.8 2446.4 L2087.1 2452.2 L2088 2455.7 L2088.6 2458.1 L2090.1 2463.9 L2091.7 2469.6 L2093.4 2475.4 L2095.2 2481.2 L2097 2486.9 L2098.9 2492.6 L2100.8 2498.4 L2102.7 2504.1 L2104.7 2509.8 L2106.7 2515.5 L2108.7 2521.1 L2110.8 2526.8 L2111.9 2530 L2112.8 2532.5 L2114.8 2538.1 L2116.9 2543.8 L2119 2549.4 L2121.2 2555 L2123.4 2560.6 L2125.6 2566.2 L2127.9 2571.8 L2130.2 2577.4 L2132.5 2583 L2134.8 2588.5 L2137.2 2594 L2139.7 2599.5 L2139.9 2600 L2142.2 2605 L2144.8 2610.4 L2147.5 2615.8 L2150.2 2621.1 L2153 2626.5 L2155.7 2631.8 L2158.5 2637.2 L2161.1 2642.6 L2163.1 2646.7 L2163.8 2648 L2166.3 2653.4 L2168.9 2658.9 L2171.5 2664.3 L2174 2669.8 L2176.5 2675.3 L2179 2680.8 L2181.4 2686.2 L2183.9 2691.7 L2184.6 2693.3 L2186.4 2697.2 L2189.2 2702.7 L2192.2 2708.1 L2195.2 2713.6 L2198 2719.1 L2200.5 2724.6 L2202.5 2730.2 L2204 2735.8 L2204.6 2740 L2204.7 2741.6 L2205.1 2747.5 L2205.3 2753.6 L2205.5 2759.7 L2205.8 2765.7 L2206 2768 L2206.4 2771.6 L2207.5 2777.5 L2208.9 2783.4 L2210.6 2789.2 L2212.4 2795 L2214.2 2800.8 L2215.8 2806.6 L2217.1 2812.5 L2217.5 2815 L2218 2818.4 L2218.8 2824.3 L2219.5 2830.3 L2220.2 2836.3 L2220.8 2842.3 L2221.4 2848.3 L2221.9 2854.3 L2222.4 2860.3 L2222.9 2866.3 L2223.4 2872.3 L2223.8 2878 L2223.8 2878.3 L2224.2 2884.3 L2224.6 2890.3 L2225 2896.3 L2225.4 2902.3 L2225.7 2908.3 L2226.1 2914.3 L2226.4 2920.4 L2226.7 2926.4 L2227 2932.4 L2227.3 2938.4 L2227.6 2944.4 L2227.9 2950.4 L2228.2 2956.4 L2228.5 2962.4 L2228.7 2968.5 L2229 2974.5 L2229.3 2980.5 L2229.6 2986.5 L2229.9 2992.5 L2230.2 2998.5 L2230.4 3002.6 L2230.5 3004.5 L2230.8 3010.5 L2231.1 3016.5 L2231.4 3022.6 L2231.7 3028.6 L2232 3034.6 L2232.3 3040.6 L2232.6 3046.6 L2232.9 3052.6 L2233.2 3058.6 L2233.4 3064.6 L2233.7 3070.6 L2234 3076.7 L2234.3 3082.7 L2234.6 3088.7 L2234.9 3094.7 L2235.2 3100.7 L2235.5 3106.7 L2235.8 3112.7 L2236.1 3118.7 L2236.5 3124.7 L2236.8 3130.7 L2236.9 3132.6 L2237.1 3136.8 L2237.5 3142.8 L2237.8 3148.8 L2238.1 3154.8 L2238.5 3160.8 L2238.8 3166.8 L2239.1 3172.8 L2239.5 3178.8 L2239.8 3184.8 L2240.2 3190.8 L2240.5 3196.9 L2240.9 3202.9 L2241.3 3208.9 L2241.6 3214.9 L2242 3220.9 L2242.4 3226.9 L2242.8 3232.9 L2243.2 3238.9 L2243.7 3244.9 L2244.1 3250.9 L2244.5 3256.9 L2245 3262.7 L2245 3262.9 L2245.5 3268.9 L2245.9 3274.9 L2246.3 3281 L2246.8 3287.1 L2247.3 3293.1 L2247.8 3299.1 L2248.4 3305.1 L2249 3311.1 L2249.8 3317 L2250.7 3322.9 L2251.5 3327.7 L2251.7 3328.7 L2253.6 3334.4 L2256 3340" fill="none" stroke="#fb0909" stroke-width="9.7" stroke-linejoin="round"/>
<circle cx="387.3" cy="3220.5" r="11.2" fill="#fff3f3" stroke="#ff9a9a" stroke-width="1.6"/>
<circle cx="485" cy="2028.1" r="11.2" fill="#fff3f3" stroke="#ff9a9a" stroke-width="1.6"/>
<circle cx="581" cy="2240.3" r="11.2" fill="#fff3f3" stroke="#ff9a9a" stroke-width="1.6"/>
<circle cx="677" cy="2501.3" r="11.2" fill="#fff3f3" stroke="#ff9a9a" stroke-width="1.6"/>
<circle cx="773" cy="2824.2" r="11.2" fill="#fff3f3" stroke="#ff9a9a" stroke-width="1.6"/>
<circle cx="869" cy="3154.8" r="11.2" fill="#fff3f3" stroke="#ff9a9a" stroke-width="1.6"/>
<circle cx="965" cy="2043.3" r="11.2" fill="#fff3f3" stroke="#ff9a9a" stroke-width="1.6"/>
<circle cx="1061" cy="2305" r="11.2" fill="#fff3f3" stroke="#ff9a9a" stroke-width="1.6"/>
<circle cx="1157" cy="2551.8" r="11.2" fill="#fff3f3" stroke="#ff9a9a" stroke-width="1.6"/>
<circle cx="1253" cy="2792.6" r="11.2" fill="#fff3f3" stroke="#ff9a9a" stroke-width="1.6"/>
<circle cx="1349" cy="3042.5" r="11.2" fill="#fff3f3" stroke="#ff9a9a" stroke-width="1.6"/>
<circle cx="1445" cy="3306.6" r="11.2" fill="#fff3f3" stroke="#ff9a9a" stroke-width="1.6"/>
<circle cx="1541" cy="2174.5" r="11.2" fill="#fff3f3" stroke="#ff9a9a" stroke-width="1.6"/>
<circle cx="1637" cy="2405" r="11.2" fill="#fff3f3" stroke="#ff9a9a" stroke-width="1.6"/>
<circle cx="1733" cy="2606.5" r="11.2" fill="#fff3f3" stroke="#ff9a9a" stroke-width="1.6"/>
<circle cx="1829" cy="2794" r="11.2" fill="#fff3f3" stroke="#ff9a9a" stroke-width="1.6"/>
<circle cx="1925" cy="2975" r="11.2" fill="#fff3f3" stroke="#ff9a9a" stroke-width="1.6"/>
<circle cx="2021" cy="3217.8" r="11.2" fill="#fff3f3" stroke="#ff9a9a" stroke-width="1.6"/>
<circle cx="2117" cy="2537" r="11.2" fill="#fff3f3" stroke="#ff9a9a" stroke-width="1.6"/>
<circle cx="2209" cy="2772" r="11.2" fill="#fff3f3" stroke="#ff9a9a" stroke-width="1.6"/>
<circle cx="2254.8" cy="3322" r="11.2" fill="#fff3f3" stroke="#ff9a9a" stroke-width="1.6"/>
<path d="M387.3 3221 L436.5 3335 L437.5 3335 L441 1946 L441 1946 L443.9 1951.2 L446.9 1956.5 L449.8 1961.7 L452.7 1967 L455.5 1972.3 L458.3 1977.6 L460.3 1981.5 L461 1983 L463.7 1988.3 L466.4 1993.7 L469 1999.1 L471.6 2004.5 L474.2 2009.9 L476.8 2015.3 L479.4 2020.7 L481.9 2026.2 L484.5 2031.6 L487 2037.1 L489.5 2042.6 L492 2048 L494.5 2053.5 L496.9 2059 L499.4 2064.5 L501.8 2070 L504.2 2075.5 L506.6 2081 L509 2086.5 L511.4 2092 L513.8 2097.6 L516.1 2103.1 L518.5 2108.6 L520.8 2114.2 L523.1 2119.7 L525.5 2125.2 L527.8 2130.8 L530.1 2136.3 L532.4 2141.9 L532.5 2142.2 L534.7 2147.4 L536.9 2153 L539.2 2158.5 L541.4 2164.1 L543.7 2169.7 L545.9 2175.2 L548.2 2180.8 L550.4 2186.4 L552.6 2192 L554.8 2197.6 L557 2203.2 L559.1 2208.8 L561.3 2214.4 L563.5 2220 L565.6 2225.6 L567.8 2231.2 L569.9 2236.8 L572 2242.5 L574.1 2248.1 L576.3 2253.7 L578.4 2259.3 L580.4 2265 L582.5 2270.6 L584.6 2276.3 L586.7 2281.9 L588.7 2287.6 L590.8 2293.2 L592.8 2298.9 L594.8 2304.5 L596.8 2310.2 L598.9 2315.8 L600.9 2321.5 L602.8 2327.1 L604.8 2332.7 L604.8 2332.8 L606.8 2338.5 L608.8 2344.1 L610.8 2349.8 L612.7 2355.5 L614.7 2361.2 L616.6 2366.8 L618.6 2372.5 L620.5 2378.2 L622.4 2383.9 L624.3 2389.6 L626.3 2395.3 L628.2 2401 L630.1 2406.7 L632 2412.4 L633.8 2418.1 L635.7 2423.8 L637.6 2429.5 L639.5 2435.2 L641.3 2440.9 L643.2 2446.7 L645 2452.4 L646.8 2458.1 L648.7 2463.8 L650.5 2469.6 L652.3 2475.3 L654.1 2481 L655.9 2486.8 L657.7 2492.5 L659.5 2498.2 L661.2 2504 L663 2509.7 L664.8 2515.5 L666.5 2521.2 L668.3 2526.9 L670 2532.7 L671.7 2538.4 L673.4 2544.2 L675.1 2550 L676.6 2554.9 L676.8 2555.7 L678.5 2561.5 L680.2 2567.2 L681.9 2573 L683.5 2578.8 L685.1 2584.5 L686.8 2590.3 L688.4 2596.1 L690 2601.9 L691.6 2607.7 L693.2 2613.5 L694.8 2619.3 L696.3 2625.1 L697.9 2630.9 L699.5 2636.7 L701 2642.5 L702.6 2648.3 L704.1 2654.1 L705.6 2659.9 L707.2 2665.7 L708.7 2671.5 L710.2 2677.3 L711.7 2683.1 L713.3 2688.9 L714.8 2694.8 L716.3 2700.6 L717.8 2706.4 L719.3 2712.2 L720.8 2718 L722.3 2723.8 L723.9 2729.6 L725.4 2735.5 L726.9 2741.3 L728.4 2747.1 L729.9 2752.9 L731.5 2758.7 L733 2764.5 L734.5 2770.3 L736.1 2776.1 L737.6 2781.9 L739.2 2787.7 L740.8 2793.5 L742.3 2799.3 L743.9 2805.1 L745.5 2810.9 L746.8 2815.7 L747.1 2816.7 L748.7 2822.5 L750.3 2828.3 L751.9 2834.1 L753.5 2839.9 L755.1 2845.7 L756.7 2851.5 L758.3 2857.2 L759.9 2863 L761.5 2868.8 L763.1 2874.6 L764.7 2880.4 L766.3 2886.2 L767.9 2892 L769.5 2897.8 L771.1 2903.6 L772.7 2909.3 L774.3 2915.1 L775.9 2920.9 L777.5 2926.7 L779.2 2932.5 L780.8 2938.3 L782.4 2944.1 L784 2949.8 L785.6 2955.6 L787.3 2961.4 L788.9 2967.2 L790.5 2973 L792.2 2978.7 L793.8 2984.5 L795.5 2990.3 L797.1 2996.1 L798.8 3001.9 L800.4 3007.6 L802.1 3013.4 L803.8 3019.2 L805.4 3024.9 L807.1 3030.7 L808.8 3036.5 L810.5 3042.2 L812.2 3048 L813.9 3053.8 L815.6 3059.5 L817.3 3065.3 L819 3071 L819.4 3072.4 L820.7 3076.8 L822.4 3082.5 L824.2 3088.3 L826 3094 L827.7 3099.8 L829.5 3105.5 L831.3 3111.2 L833.1 3116.9 L834.9 3122.7 L836.8 3128.4 L838.6 3134.1 L840.4 3139.8 L842.3 3145.6 L844.1 3151.3 L846 3157 L847.9 3162.7 L849.7 3168.4 L851.6 3174.1 L853.4 3179.8 L855.3 3185.6 L857.2 3191.3 L859 3197 L860.9 3202.7 L862.7 3208.4 L864.6 3214.1 L866.4 3219.8 L868.2 3225.6 L870.1 3231.3 L871.9 3237 L873.7 3242.7 L875.5 3248.5 L877.3 3254.2 L879 3259.9 L880.8 3265.7 L882.5 3271.4 L884.3 3277.2 L886 3282.9 L887.7 3288.7 L889.4 3294.5 L891 3300.2 L891.7 3302.5 L892.7 3306 L894.3 3311.8 L895.9 3317.6 L897.4 3323.4 L899 3329.2 L900.5 3335 L901.5 3335 L903 1946 L903 1946 L905 1951.7 L907 1957.3 L909 1963 L911 1968.7 L913 1974.3 L915 1980 L917 1985.7 L919.1 1991.3 L921.1 1997 L923.1 2002.7 L925.1 2008.3 L927.1 2014 L929.1 2019.7 L931.2 2025.3 L933.2 2031 L935.2 2036.7 L937.2 2042.3 L939.3 2048 L941.3 2053.6 L943.3 2059.3 L945.3 2065 L947.4 2070.6 L949.4 2076.3 L951.5 2081.9 L953.5 2087.6 L955.5 2093.2 L957.6 2098.9 L959.6 2104.6 L961.7 2110.2 L963.7 2115.9 L963.9 2116.4 L965.8 2121.5 L967.8 2127.2 L969.8 2132.8 L971.9 2138.5 L973.9 2144.1 L976 2149.8 L978 2155.4 L980.1 2161.1 L982.1 2166.8 L984.2 2172.4 L986.2 2178.1 L988.3 2183.7 L990.3 2189.4 L992.4 2195 L994.4 2200.7 L996.5 2206.3 L998.5 2212 L1000.6 2217.6 L1002.7 2223.3 L1004.7 2228.9 L1006.8 2234.6 L1008.9 2240.2 L1011 2245.8 L1013.1 2251.5 L1015.1 2257.1 L1017.2 2262.8 L1019.3 2268.4 L1021.4 2274 L1023.5 2279.7 L1025.6 2285.3 L1027.7 2290.9 L1029.9 2296.6 L1032 2302.2 L1034.1 2307.8 L1035.3 2310.9 L1036.3 2313.4 L1038.4 2319 L1040.6 2324.6 L1042.7 2330.3 L1044.9 2335.9 L1047.1 2341.5 L1049.2 2347.1 L1051.4 2352.7 L1053.6 2358.3 L1055.8 2363.9 L1058 2369.5 L1060.2 2375.1 L1062.4 2380.7 L1064.6 2386.2 L1066.8 2391.8 L1069.1 2397.4 L1071.3 2403 L1073.5 2408.6 L1075.7 2414.2 L1078 2419.8 L1080.2 2425.4 L1082.4 2431 L1084.6 2436.5 L1086.9 2442.1 L1089.1 2447.7 L1091.3 2453.3 L1093.5 2458.9 L1095.8 2464.5 L1098 2470.1 L1100.2 2475.7 L1102.4 2481.2 L1104.6 2486.8 L1106.8 2492.4 L1108 2495.4 L1109 2498 L1111.2 2503.6 L1113.4 2509.2 L1115.6 2514.8 L1117.8 2520.4 L1120 2526 L1122.2 2531.6 L1124.4 2537.2 L1126.6 2542.8 L1128.8 2548.4 L1131 2554 L1133.2 2559.6 L1135.4 2565.2 L1137.6 2570.8 L1139.8 2576.4 L1142 2582 L1144.2 2587.6 L1146.4 2593.2 L1148.6 2598.8 L1150.8 2604.3 L1153 2609.9 L1155.2 2615.5 L1157.4 2621.1 L1159.6 2626.7 L1161.8 2632.3 L1164 2637.9 L1166.2 2643.5 L1168.4 2649.1 L1170.6 2654.7 L1172.8 2660.3 L1175 2665.9 L1177.2 2671.5 L1179.4 2677 L1179.4 2677.1 L1181.6 2682.7 L1183.8 2688.3 L1186.1 2693.9 L1188.3 2699.5 L1190.5 2705.1 L1192.7 2710.7 L1194.9 2716.2 L1197.1 2721.8 L1199.3 2727.4 L1201.5 2733 L1203.8 2738.6 L1206 2744.2 L1208.2 2749.8 L1210.4 2755.4 L1212.6 2761 L1214.8 2766.6 L1217 2772.1 L1219.3 2777.7 L1221.5 2783.3 L1223.7 2788.9 L1225.9 2794.5 L1228.1 2800.1 L1230.3 2805.7 L1232.5 2811.3 L1234.7 2816.9 L1236.9 2822.5 L1239.1 2828.1 L1241.3 2833.7 L1243.5 2839.3 L1245.7 2844.9 L1247.9 2850.5 L1250.1 2856.1 L1251.6 2860 L1252.3 2861.7 L1254.4 2867.3 L1256.6 2872.9 L1258.8 2878.5 L1261 2884.1 L1263.2 2889.7 L1265.3 2895.3 L1267.5 2900.9 L1269.7 2906.5 L1271.9 2912.1 L1274.1 2917.7 L1276.2 2923.3 L1278.4 2928.9 L1280.6 2934.5 L1282.8 2940.1 L1284.9 2945.7 L1287.1 2951.4 L1289.3 2957 L1291.4 2962.6 L1293.6 2968.2 L1295.7 2973.8 L1297.9 2979.4 L1300 2985 L1302.2 2990.6 L1304.3 2996.3 L1306.5 3001.9 L1308.6 3007.5 L1310.8 3013.1 L1312.9 3018.7 L1315 3024.4 L1317.2 3030 L1319.3 3035.6 L1321.4 3041.2 L1323.4 3046.6 L1323.5 3046.9 L1325.6 3052.5 L1327.7 3058.1 L1329.8 3063.8 L1331.9 3069.4 L1334 3075 L1336.1 3080.7 L1338.2 3086.3 L1340.2 3092 L1342.3 3097.6 L1344.4 3103.3 L1346.5 3108.9 L1348.5 3114.5 L1350.6 3120.2 L1352.6 3125.8 L1354.7 3131.5 L1356.8 3137.1 L1358.8 3142.8 L1360.9 3148.4 L1362.9 3154.1 L1365 3159.8 L1367 3165.4 L1369.1 3171.1 L1371.1 3176.7 L1373.2 3182.4 L1375.2 3188 L1377.3 3193.7 L1379.3 3199.3 L1381.4 3205 L1383.4 3210.6 L1385.5 3216.3 L1387.5 3221.9 L1389.6 3227.6 L1391.6 3233.2 L1393.7 3238.9 L1393.7 3239 L1395.7 3244.5 L1397.8 3250.2 L1399.8 3255.9 L1401.9 3261.5 L1403.9 3267.2 L1406 3272.8 L1408 3278.5 L1410.1 3284.1 L1412.1 3289.8 L1414.2 3295.4 L1416.2 3301.1 L1418.3 3306.7 L1420.3 3312.4 L1422.4 3318 L1424.4 3323.7 L1426.5 3329.3 L1428.5 3335 L1430 3335 L1431.5 1946 L1431.5 1946 L1433.7 1951.6 L1436 1957.2 L1438.2 1962.8 L1440.4 1968.4 L1442.7 1974 L1444.9 1979.6 L1447.1 1985.2 L1449.4 1990.7 L1451.6 1996.3 L1453.9 2001.9 L1456.1 2007.5 L1458.3 2013.1 L1460.6 2018.7 L1462.8 2024.3 L1465 2029.9 L1467.3 2035.5 L1467.9 2037 L1469.5 2041.1 L1471.8 2046.7 L1474 2052.3 L1476.2 2057.9 L1478.5 2063.4 L1480.7 2069 L1482.9 2074.6 L1485.1 2080.2 L1487.4 2085.8 L1489.6 2091.4 L1491.8 2097 L1494 2102.6 L1496.2 2108.2 L1498.5 2113.8 L1500.7 2119.4 L1502.9 2125 L1505.1 2130.6 L1507.4 2136.2 L1509.6 2141.8 L1511.9 2147.4 L1514.1 2153 L1516.3 2158.6 L1518.6 2164.2 L1520.9 2169.8 L1523.1 2175.3 L1525.4 2180.9 L1527.7 2186.5 L1529.9 2192.1 L1532.2 2197.6 L1534.5 2203.2 L1536.8 2208.8 L1539.1 2214.3 L1540.5 2217.6 L1541.5 2219.9 L1543.8 2225.4 L1546.1 2231 L1548.4 2236.5 L1550.8 2242.1 L1553.1 2247.6 L1555.5 2253.2 L1557.8 2258.7 L1560.2 2264.3 L1562.6 2269.8 L1564.9 2275.4 L1567.3 2280.9 L1569.7 2286.4 L1572.1 2292 L1574.5 2297.5 L1576.9 2303 L1579.3 2308.5 L1581.7 2314.1 L1584.1 2319.6 L1586.5 2325.1 L1588.9 2330.6 L1591.4 2336.1 L1593.8 2341.6 L1596.2 2347.1 L1598.7 2352.6 L1601.1 2358.1 L1603.6 2363.6 L1606.1 2369.1 L1608.5 2374.6 L1611 2380.1 L1612 2382.3 L1613.5 2385.6 L1616 2391.1 L1618.5 2396.6 L1621 2402 L1623.5 2407.5 L1626 2413 L1628.5 2418.5 L1631.1 2423.9 L1633.6 2429.4 L1636.1 2434.9 L1638.7 2440.3 L1641.2 2445.8 L1643.8 2451.2 L1646.4 2456.7 L1648.9 2462.1 L1651.5 2467.6 L1654.1 2473 L1656.7 2478.4 L1659.3 2483.9 L1661.9 2489.3 L1664.5 2494.7 L1667.1 2500.2 L1669.7 2505.6 L1672.3 2511 L1675 2516.4 L1677.6 2521.9 L1680.2 2527.3 L1682.9 2532.7 L1684 2535 L1685.5 2538.1 L1688.2 2543.5 L1690.8 2548.9 L1693.5 2554.3 L1696.2 2559.7 L1698.9 2565.1 L1701.5 2570.5 L1704.2 2575.9 L1706.9 2581.3 L1709.7 2586.6 L1712.4 2592 L1715.1 2597.4 L1717.8 2602.8 L1720.5 2608.1 L1723.3 2613.5 L1726 2618.9 L1728.7 2624.2 L1731.5 2629.6 L1734.2 2635 L1737 2640.3 L1739.8 2645.7 L1742.5 2651 L1745.3 2656.4 L1748 2661.7 L1750.8 2667.1 L1753.6 2672.4 L1756.3 2677.8 L1756.7 2678.5 L1759.1 2683.1 L1761.9 2688.5 L1764.7 2693.8 L1767.5 2699.1 L1770.3 2704.5 L1773.1 2709.8 L1775.9 2715.1 L1778.7 2720.4 L1781.6 2725.8 L1784.4 2731.1 L1787.2 2736.4 L1790.1 2741.7 L1792.9 2747 L1795.7 2752.3 L1798.6 2757.6 L1801.4 2763 L1804.2 2768.3 L1807.1 2773.6 L1809.9 2778.9 L1812.7 2784.2 L1815.5 2789.6 L1818.3 2794.9 L1821.1 2800.2 L1823.9 2805.6 L1826.7 2810.9 L1827 2811.5 L1829.5 2816.3 L1832.3 2821.6 L1835 2826.9 L1837.8 2832.3 L1840.6 2837.6 L1843.5 2843 L1846.3 2848.3 L1849.1 2853.6 L1851.9 2859 L1854.7 2864.3 L1857.5 2869.6 L1860.3 2875 L1863 2880.3 L1865.8 2885.7 L1868.6 2891 L1871.3 2896.4 L1874.1 2901.8 L1876.8 2907.1 L1879.5 2912.5 L1882.2 2917.9 L1884.9 2923.3 L1887.6 2928.7 L1890.2 2934.1 L1892.8 2939.5 L1895.4 2944.9 L1898 2950.4 L1900.5 2955.8 L1901.5 2958 L1903 2961.3 L1905.5 2966.8 L1908 2972.2 L1910.5 2977.7 L1913.1 2983.2 L1915.6 2988.7 L1918.1 2994.2 L1920.5 2999.7 L1923 3005.2 L1925.5 3010.7 L1927.9 3016.2 L1930.4 3021.7 L1932.8 3027.2 L1935.2 3032.8 L1937.6 3038.3 L1940 3043.9 L1942.4 3049.4 L1944.7 3055 L1947 3060.6 L1949.3 3066.1 L1951.6 3071.7 L1953.8 3077.3 L1956 3082.9 L1958.2 3088.6 L1960.4 3094.2 L1962.5 3099.8 L1964.6 3105.4 L1966.6 3111.1 L1968.6 3116.7 L1970.6 3122.4 L1972.6 3128.1 L1973 3129.4 L1974.5 3133.8 L1976.4 3139.5 L1978.3 3145.2 L1980.2 3151 L1982 3156.7 L1983.9 3162.5 L1985.6 3168.3 L1987.3 3174.1 L1988.9 3179.9 L1990.3 3185.7 L1991.7 3191.6 L1992.9 3197.4 L1993 3197.7 L1994.1 3203.3 L1995.2 3209.2 L1996.2 3215.1 L1997.2 3221.1 L1998.2 3227 L1999.1 3233 L1999.9 3239 L2000.7 3245 L2001.5 3251 L2002.2 3257 L2002.8 3262.7 L2002.8 3262.9 L2003.4 3268.9 L2004 3274.9 L2004.6 3280.9 L2005.2 3286.9 L2005.7 3292.9 L2006.2 3298.9 L2006.7 3304.9 L2007.1 3310.9 L2007.5 3316.9 L2007.9 3322.9 L2008.2 3329 L2008.5 3335 L2009.5 3335 L2011.3 1946 L2011.3 1946 L2011.6 1952 L2011.9 1958 L2012.2 1964 L2012.6 1970 L2012.9 1976 L2013.3 1982 L2013.6 1988.1 L2014 1994.1 L2014.4 2000.1 L2014.8 2006.1 L2015.2 2012.1 L2015.6 2018.1 L2016 2024.1 L2016.4 2030.1 L2016.8 2036.1 L2017.2 2042.1 L2017.6 2048.1 L2018.1 2054.1 L2018.5 2060.1 L2019 2066.1 L2019.4 2072.1 L2019.9 2078.1 L2020.4 2084.1 L2020.8 2090.1 L2021.3 2096.1 L2021.5 2098.6 L2021.8 2102.1 L2022.3 2108 L2022.8 2114 L2023.3 2120 L2023.8 2126 L2024.3 2132 L2024.8 2138 L2025.3 2144 L2025.9 2150 L2026.5 2156 L2027 2162 L2027.6 2168 L2028.2 2174 L2028.8 2180 L2029.4 2185.9 L2030.1 2191.9 L2030.7 2197.9 L2031.4 2203.9 L2032.1 2209.8 L2032.8 2215.8 L2033 2217.6 L2033.5 2221.8 L2034.3 2227.7 L2035.1 2233.7 L2035.9 2239.7 L2036.8 2245.6 L2037.7 2251.6 L2038.6 2257.5 L2039.5 2263.5 L2040.5 2269.4 L2041.5 2275.3 L2042.4 2281.3 L2043.4 2287.2 L2044.4 2293.1 L2045 2296.5 L2045.4 2299.1 L2046.5 2305 L2047.5 2310.9 L2048.6 2316.8 L2049.6 2322.8 L2050.8 2328.7 L2051.9 2334.6 L2053 2340.5 L2054.2 2346.4 L2055.4 2352.3 L2056.6 2358.2 L2057.8 2364.1 L2058.3 2366.4 L2059.1 2370 L2060.3 2375.8 L2061.6 2381.7 L2062.9 2387.6 L2064.2 2393.5 L2065.6 2399.4 L2066.9 2405.2 L2068.4 2411.1 L2069.8 2416.9 L2071.3 2422.8 L2072.8 2428.6 L2074.4 2434.4 L2076 2440.1 L2076.2 2440.8 L2077.7 2445.9 L2079.4 2451.6 L2081.3 2457.3 L2083.1 2463 L2085.1 2468.7 L2087.1 2474.4 L2089.1 2480.1 L2091.2 2485.7 L2093.3 2491.4 L2095.4 2497 L2097.6 2502.7 L2099.8 2508.3 L2102 2513.9 L2104.2 2519.5 L2106.4 2525.1 L2108.6 2530.7 L2110.8 2536.3 L2111.9 2539 L2113 2541.9 L2115.3 2547.5 L2117.5 2553 L2119.8 2558.6 L2122.1 2564.2 L2124.5 2569.7 L2126.9 2575.2 L2129.3 2580.7 L2131.7 2586.3 L2134.1 2591.7 L2136.6 2597.2 L2137.9 2600 L2139.1 2602.7 L2141.7 2608.1 L2144.4 2613.5 L2147.1 2618.9 L2149.8 2624.3 L2152.5 2629.6 L2155.2 2635 L2157.9 2640.4 L2160.6 2645.7 L2163.3 2651.2 L2164.3 2653.3 L2165.8 2656.6 L2168.4 2662 L2170.9 2667.5 L2173.4 2673 L2175.9 2678.4 L2178.4 2683.9 L2180.9 2689.4 L2183.3 2694.9 L2185.8 2700.4 L2188.2 2705.9 L2188.5 2706.7 L2190.6 2711.4 L2193.1 2716.9 L2195.7 2722.4 L2198.3 2727.9 L2200.9 2733.4 L2203.3 2738.9 L2205.6 2744.5 L2207.7 2750.1 L2209.5 2755.8 L2210.7 2760 L2211 2761.5 L2212.3 2767.4 L2213.3 2773.3 L2214.3 2779.3 L2215 2783 L2215.4 2785.2 L2216.5 2791.1 L2217.6 2797 L2218.7 2802.9 L2219.8 2808.9 L2220.9 2814.8 L2221.9 2820.7 L2222.9 2826.6 L2223.7 2831.7 L2223.8 2832.6 L2224.7 2838.5 L2225.6 2844.5 L2226.4 2850.4 L2227.3 2856.4 L2228 2862.4 L2228.8 2868.3 L2229.4 2874.3 L2230 2880 L2230 2880.3 L2230.6 2886.3 L2231.1 2892.3 L2231.7 2898.3 L2232.2 2904.2 L2232.7 2910.2 L2233.2 2916.2 L2233.7 2922.2 L2234.2 2928.2 L2234.6 2934.2 L2235.1 2940.2 L2235.5 2946.2 L2235.9 2952.3 L2236.3 2958.3 L2236.6 2964.3 L2237 2970.3 L2237.3 2976.3 L2237.6 2982.3 L2237.9 2988.3 L2238.2 2994.3 L2238.4 3000.3 L2238.5 3002.6 L2238.6 3006.3 L2238.8 3012.3 L2239 3018.3 L2239.2 3024.4 L2239.4 3030.4 L2239.6 3036.4 L2239.7 3042.4 L2239.9 3048.4 L2240 3054.4 L2240.2 3060.4 L2240.3 3066.4 L2240.4 3072.5 L2240.6 3078.5 L2240.7 3084.5 L2240.8 3090.5 L2240.9 3096.5 L2241.1 3102.5 L2241.2 3108.6 L2241.3 3114.6 L2241.4 3120.6 L2241.6 3126.6 L2241.7 3132.6 L2241.7 3132.6 L2241.8 3138.6 L2242 3144.6 L2242.1 3150.7 L2242.2 3156.7 L2242.4 3162.7 L2242.5 3168.7 L2242.6 3174.7 L2242.8 3180.7 L2242.9 3186.7 L2243 3192.8 L2243.1 3198.8 L2243.3 3204.8 L2243.4 3210.8 L2243.5 3216.8 L2243.6 3222.8 L2243.7 3228.8 L2243.9 3234.9 L2244 3240.9 L2244.1 3246.9 L2244.2 3252.9 L2244.3 3258.9 L2244.4 3264.9 L2244.6 3270.9 L2244.7 3277 L2244.8 3283 L2244.9 3289 L2245 3295 L2245.5 3300 L2247.3 1960 L2247.3 1960 L2248 1966.1 L2248.6 1972.2 L2249.2 1978.2 L2249.9 1984.3 L2250.5 1990.4 L2251.1 1996.5 L2251.7 2002.6 L2252.3 2008.6 L2252.8 2014.7 L2253.4 2020.8 L2254 2026.9 L2254.5 2033 L2254.8 2036 L2255.1 2039.1 L2255.6 2045.2 L2256.1 2051.3 L2256.6 2057.3 L2257.2 2063.4 L2257.6 2069.5 L2258.1 2075.6 L2258.6 2081.7 L2259.1 2087.8 L2259.5 2093.9 L2260 2100" fill="none" stroke="#0909fb" stroke-width="9.7" stroke-linejoin="round"/>
<path d="M387.3 3206.8 L400.8 3229.7 L373.8 3229.7 Z" fill="#f3f3ff" stroke="#9a9aff" stroke-width="1.6"/>
<path d="M461 1969.1 L474.5 1992.1 L447.5 1992.1 Z" fill="#f3f3ff" stroke="#9a9aff" stroke-width="1.6"/>
<path d="M533 2129.7 L546.5 2152.6 L519.5 2152.6 Z" fill="#f3f3ff" stroke="#9a9aff" stroke-width="1.6"/>
<path d="M605 2319.5 L618.5 2342.4 L591.5 2342.4 Z" fill="#f3f3ff" stroke="#9a9aff" stroke-width="1.6"/>
<path d="M677 2542.5 L690.5 2565.4 L663.5 2565.4 Z" fill="#f3f3ff" stroke="#9a9aff" stroke-width="1.6"/>
<path d="M749 2809.9 L762.5 2832.8 L735.5 2832.8 Z" fill="#f3f3ff" stroke="#9a9aff" stroke-width="1.6"/>
<path d="M821 3064 L834.5 3086.9 L807.5 3086.9 Z" fill="#f3f3ff" stroke="#9a9aff" stroke-width="1.6"/>
<path d="M893 3293.4 L906.5 3316.3 L879.5 3316.3 Z" fill="#f3f3ff" stroke="#9a9aff" stroke-width="1.6"/>
<path d="M965 2105.7 L978.5 2128.6 L951.5 2128.6 Z" fill="#f3f3ff" stroke="#9a9aff" stroke-width="1.6"/>
<path d="M1037 2301.6 L1050.5 2324.5 L1023.5 2324.5 Z" fill="#f3f3ff" stroke="#9a9aff" stroke-width="1.6"/>
<path d="M1109 2484.2 L1122.5 2507.1 L1095.5 2507.1 Z" fill="#f3f3ff" stroke="#9a9aff" stroke-width="1.6"/>
<path d="M1181 2667.3 L1194.5 2690.2 L1167.5 2690.2 Z" fill="#f3f3ff" stroke="#9a9aff" stroke-width="1.6"/>
<path d="M1253 2849.8 L1266.5 2872.8 L1239.5 2872.8 Z" fill="#f3f3ff" stroke="#9a9aff" stroke-width="1.6"/>
<path d="M1325 3037.1 L1338.5 3060 L1311.5 3060 Z" fill="#f3f3ff" stroke="#9a9aff" stroke-width="1.6"/>
<path d="M1397 3234.3 L1410.5 3257.2 L1383.5 3257.2 Z" fill="#f3f3ff" stroke="#9a9aff" stroke-width="1.6"/>
<path d="M1469 2026 L1482.5 2048.9 L1455.5 2048.9 Z" fill="#f3f3ff" stroke="#9a9aff" stroke-width="1.6"/>
<path d="M1541 2205 L1554.5 2228 L1527.5 2228 Z" fill="#f3f3ff" stroke="#9a9aff" stroke-width="1.6"/>
<path d="M1613 2370.8 L1626.5 2393.7 L1599.5 2393.7 Z" fill="#f3f3ff" stroke="#9a9aff" stroke-width="1.6"/>
<path d="M1685 2523.3 L1698.5 2546.2 L1671.5 2546.2 Z" fill="#f3f3ff" stroke="#9a9aff" stroke-width="1.6"/>
<path d="M1757 2665.3 L1770.5 2688.2 L1743.5 2688.2 Z" fill="#f3f3ff" stroke="#9a9aff" stroke-width="1.6"/>
<path d="M1829 2801.6 L1842.5 2824.5 L1815.5 2824.5 Z" fill="#f3f3ff" stroke="#9a9aff" stroke-width="1.6"/>
<path d="M1901 2943.2 L1914.5 2966.1 L1887.5 2966.1 Z" fill="#f3f3ff" stroke="#9a9aff" stroke-width="1.6"/>
<path d="M1973 3115.7 L1986.5 3138.6 L1959.5 3138.6 Z" fill="#f3f3ff" stroke="#9a9aff" stroke-width="1.6"/>
<path d="M2045 2282.8 L2058.5 2305.7 L2031.5 2305.7 Z" fill="#f3f3ff" stroke="#9a9aff" stroke-width="1.6"/>
<path d="M2117 2537.3 L2130.5 2560.2 L2103.5 2560.2 Z" fill="#f3f3ff" stroke="#9a9aff" stroke-width="1.6"/>
<path d="M2189 2694.3 L2202.5 2717.2 L2175.5 2717.2 Z" fill="#f3f3ff" stroke="#9a9aff" stroke-width="1.6"/>
<path d="M2254.8 2022.3 L2268.3 2045.2 L2241.3 2045.2 Z" fill="#f3f3ff" stroke="#9a9aff" stroke-width="1.6"/>
<path d="M386.3 3228 L432.5 3335 L434.5 3335 L438 1946 L438 1946 L440.6 1951.4 L443.1 1956.9 L445.7 1962.3 L448.2 1967.7 L450.7 1973.2 L453.3 1978.6 L455.8 1984.1 L458.3 1989.5 L460 1993.4 L460.7 1995 L463.2 2000.5 L465.7 2006 L468.1 2011.4 L470.6 2016.9 L473.1 2022.4 L475.5 2027.9 L478 2033.4 L480.4 2038.8 L482.9 2044.3 L485.3 2049.8 L487.8 2055.3 L490.2 2060.8 L492.6 2066.3 L495 2071.8 L497.4 2077.3 L499.8 2082.8 L502.2 2088.3 L504.6 2093.8 L507 2099.3 L509.3 2104.9 L511.7 2110.4 L514 2115.9 L516.3 2121.5 L518.6 2127 L520.9 2132.6 L523.2 2138.1 L525.5 2143.7 L527.7 2149.2 L529.9 2154.8 L532.1 2160.4 L532.5 2161.3 L534.3 2165.9 L536.5 2171.5 L538.7 2177.1 L540.9 2182.7 L543 2188.3 L545.2 2193.9 L547.3 2199.5 L549.5 2205.1 L551.6 2210.7 L553.7 2216.4 L555.8 2222 L557.9 2227.6 L560 2233.3 L562.1 2238.9 L564.2 2244.5 L566.2 2250.2 L568.3 2255.8 L570.3 2261.5 L572.3 2267.1 L574.4 2272.8 L576.4 2278.5 L578.4 2284.1 L580.4 2289.8 L582.3 2295.5 L584.3 2301.1 L586.2 2306.8 L588.2 2312.5 L590.1 2318.2 L592 2323.9 L593.9 2329.6 L595.8 2335.3 L597.7 2341 L599.6 2346.7 L601.4 2352.4 L603.2 2358.1 L604 2360.5 L605.1 2363.8 L606.9 2369.5 L608.7 2375.2 L610.4 2381 L612.2 2386.7 L614 2392.4 L615.7 2398.2 L617.4 2403.9 L619.2 2409.7 L620.9 2415.4 L622.6 2421.2 L624.3 2426.9 L626 2432.7 L627.7 2438.4 L629.3 2444.2 L631 2450 L632.7 2455.7 L634.3 2461.5 L635.9 2467.3 L637.6 2473.1 L639.2 2478.9 L640.8 2484.6 L642.4 2490.4 L644 2496.2 L645.6 2502 L647.2 2507.8 L648.8 2513.6 L650.4 2519.4 L652 2525.2 L653.6 2531 L655.2 2536.8 L656.7 2542.6 L658.3 2548.4 L659.9 2554.2 L661.4 2560 L663 2565.8 L664.5 2571.6 L666.1 2577.4 L667.7 2583.2 L669.2 2589 L670.8 2594.8 L672.3 2600.6 L673.9 2606.4 L675 2610.5 L675.4 2612.2 L677 2618 L678.5 2623.8 L680.1 2629.6 L681.6 2635.4 L683.1 2641.2 L684.6 2647 L686.1 2652.8 L687.6 2658.6 L689.1 2664.4 L690.6 2670.3 L692.1 2676.1 L693.5 2681.9 L695 2687.7 L696.5 2693.5 L697.9 2699.4 L699.4 2705.2 L700.8 2711 L702.3 2716.8 L703.7 2722.7 L705.2 2728.5 L706.6 2734.3 L708.1 2740.1 L709.5 2746 L711 2751.8 L712.4 2757.6 L713.8 2763.5 L715.3 2769.3 L716.7 2775.1 L718.2 2781 L719.6 2786.8 L721.1 2792.6 L722.5 2798.4 L724 2804.3 L725.4 2810.1 L726.9 2815.9 L728.4 2821.7 L729.8 2827.5 L731.3 2833.4 L732.8 2839.2 L734.3 2845 L735.8 2850.8 L737.2 2856.6 L738.8 2862.4 L740.3 2868.3 L741.8 2874.1 L743.3 2879.9 L744.8 2885.7 L746.4 2891.5 L747 2893.8 L747.9 2897.3 L749.5 2903.1 L751 2908.9 L752.6 2914.7 L754.2 2920.5 L755.7 2926.3 L757.3 2932 L758.9 2937.8 L760.4 2943.6 L762 2949.4 L763.6 2955.2 L765.2 2961 L766.8 2966.8 L768.4 2972.6 L770 2978.4 L771.6 2984.2 L773.2 2989.9 L774.8 2995.7 L776.4 3001.5 L778 3007.3 L779.6 3013.1 L781.3 3018.9 L782.9 3024.6 L784.5 3030.4 L786.1 3036.2 L787.8 3042 L789.4 3047.8 L791.1 3053.5 L792.7 3059.3 L794.4 3065.1 L796 3070.8 L797.7 3076.6 L799.3 3082.4 L801 3088.2 L802.7 3093.9 L804.3 3099.7 L806 3105.5 L807.7 3111.2 L809.4 3117 L811 3122.7 L812.7 3128.5 L814.4 3134.3 L816.1 3140 L817.8 3145.8 L819 3149.8 L819.5 3151.5 L821.2 3157.3 L822.9 3163 L824.7 3168.8 L826.4 3174.5 L828.1 3180.3 L829.8 3186 L831.6 3191.8 L833.3 3197.5 L835.1 3203.3 L836.8 3209 L838.6 3214.8 L840.3 3220.5 L842.1 3226.2 L843.9 3232 L845.7 3237.7 L847.4 3243.4 L849.2 3249.2 L851 3254.9 L852.8 3260.6 L854.6 3266.4 L856.4 3272.1 L858.2 3277.8 L860 3283.5 L861.8 3289.3 L863.7 3295 L865.5 3300.7 L867.3 3306.4 L869.1 3312.1 L871 3317.9 L872.8 3323.6 L874.7 3329.3 L876.5 3335 L877.5 3335 L879 1946 L879 1946 L881 1951.7 L883.1 1957.3 L885.1 1963 L887.1 1968.7 L889.2 1974.3 L891 1979.5 L891.2 1980 L893.2 1985.7 L895.2 1991.3 L897.2 1997 L899.2 2002.7 L901.2 2008.4 L903.2 2014 L905.2 2019.7 L907.2 2025.4 L909.2 2031.1 L911.2 2036.8 L913.1 2042.4 L915.1 2048.1 L917.1 2053.8 L919.1 2059.5 L921.1 2065.2 L923 2070.9 L925 2076.5 L927 2082.2 L929 2087.9 L931 2093.6 L932.9 2099.3 L934.9 2104.9 L936.9 2110.6 L938.9 2116.3 L940.9 2122 L942.9 2127.7 L944.9 2133.3 L946.9 2139 L948.9 2144.7 L950.9 2150.3 L953 2156 L955 2161.7 L957 2167.3 L959.1 2173 L961.1 2178.7 L963 2183.9 L963.2 2184.3 L965.2 2190 L967.3 2195.6 L969.3 2201.3 L971.4 2206.9 L973.5 2212.6 L975.5 2218.2 L977.6 2223.9 L979.7 2229.5 L981.8 2235.2 L983.9 2240.8 L986 2246.5 L988.1 2252.1 L990.2 2257.7 L992.3 2263.4 L994.4 2269 L996.5 2274.6 L998.6 2280.3 L1000.7 2285.9 L1002.8 2291.6 L1004.9 2297.2 L1007.1 2302.8 L1009.2 2308.4 L1011.3 2314.1 L1013.4 2319.7 L1015.6 2325.3 L1017.7 2331 L1019.8 2336.6 L1022 2342.2 L1024.1 2347.8 L1026.3 2353.5 L1028.4 2359.1 L1030.6 2364.7 L1032.7 2370.3 L1034.9 2375.9 L1035 2376.3 L1037 2381.6 L1039.2 2387.2 L1041.3 2392.8 L1043.5 2398.4 L1045.7 2404 L1047.9 2409.6 L1050 2415.2 L1052.2 2420.8 L1054.4 2426.4 L1056.6 2432.1 L1058.8 2437.7 L1061 2443.3 L1063.2 2448.9 L1065.4 2454.5 L1067.6 2460.1 L1069.8 2465.7 L1072 2471.3 L1074.2 2476.9 L1076.4 2482.5 L1078.6 2488.1 L1080.8 2493.7 L1083 2499.3 L1085.2 2504.8 L1087.5 2510.4 L1089.7 2516 L1091.9 2521.6 L1094.1 2527.2 L1096.3 2532.8 L1098.6 2538.4 L1100.8 2544 L1103 2549.6 L1105.2 2555.2 L1107 2559.7 L1107.4 2560.8 L1109.7 2566.4 L1111.9 2572 L1114.1 2577.6 L1116.3 2583.1 L1118.6 2588.7 L1120.8 2594.3 L1123.1 2599.9 L1125.3 2605.5 L1127.5 2611.1 L1129.8 2616.6 L1132 2622.2 L1134.3 2627.8 L1136.5 2633.4 L1138.8 2639 L1141 2644.6 L1143.3 2650.1 L1145.6 2655.7 L1147.8 2661.3 L1150.1 2666.9 L1152.3 2672.5 L1154.6 2678 L1156.8 2683.6 L1159 2689.2 L1161.3 2694.8 L1163.5 2700.4 L1165.8 2706 L1168 2711.5 L1170.2 2717.1 L1172.5 2722.7 L1174.7 2728.3 L1176.9 2733.9 L1179 2739.2 L1179.1 2739.5 L1181.3 2745.1 L1183.5 2750.7 L1185.7 2756.3 L1188 2761.9 L1190.2 2767.5 L1192.4 2773.1 L1194.6 2778.7 L1196.7 2784.3 L1198.9 2789.9 L1201.1 2795.5 L1203.3 2801.1 L1205.5 2806.7 L1207.7 2812.3 L1209.9 2817.9 L1212.1 2823.5 L1214.2 2829.1 L1216.4 2834.8 L1218.6 2840.4 L1220.8 2846 L1223 2851.6 L1225.2 2857.2 L1227.3 2862.8 L1229.5 2868.4 L1231.7 2874 L1233.9 2879.6 L1236.1 2885.2 L1238.2 2890.8 L1240.4 2896.5 L1242.6 2902.1 L1244.8 2907.7 L1247 2913.3 L1249.2 2918.9 L1251 2923.6 L1251.3 2924.5 L1253.5 2930.1 L1255.7 2935.7 L1257.9 2941.3 L1260.1 2946.9 L1262.3 2952.5 L1264.5 2958.1 L1266.7 2963.7 L1268.9 2969.3 L1271.1 2974.9 L1273.3 2980.5 L1275.5 2986.1 L1277.7 2991.7 L1279.9 2997.3 L1282 3002.9 L1284.2 3008.5 L1286.4 3014.1 L1288.6 3019.8 L1290.8 3025.4 L1293 3031 L1295.2 3036.6 L1297.4 3042.2 L1299.6 3047.8 L1301.8 3053.4 L1304 3059 L1306.1 3064.6 L1308.3 3070.2 L1310.5 3075.8 L1312.7 3081.4 L1314.9 3087 L1317 3092.6 L1319.2 3098.2 L1321.4 3103.9 L1323 3108 L1323.6 3109.5 L1325.7 3115.1 L1327.9 3120.7 L1330.1 3126.3 L1332.3 3131.9 L1334.6 3137.5 L1336.8 3143.1 L1339 3148.7 L1341.2 3154.3 L1343.5 3159.9 L1345.7 3165.5 L1347.9 3171.1 L1350.1 3176.7 L1352.4 3182.2 L1354.6 3187.8 L1356.8 3193.4 L1359 3199 L1361.2 3204.6 L1363.4 3210.2 L1365.6 3215.9 L1367.8 3221.5 L1370 3227.1 L1372.1 3232.7 L1374.3 3238.3 L1376.4 3243.9 L1378.5 3249.6 L1380.6 3255.2 L1382.7 3260.9 L1384.8 3266.5 L1386.8 3272.2 L1388.8 3277.8 L1390.8 3283.5 L1392.8 3289.2 L1394.7 3294.9 L1395 3295.6 L1396.7 3300.6 L1398.5 3306.3 L1400.4 3312 L1402.2 3317.7 L1404 3323.5 L1405.7 3329.2 L1407.5 3335 L1408.5 3335 L1409.5 1946 L1409.5 1946 L1411.9 1951.5 L1414.2 1957.1 L1416.6 1962.6 L1418.9 1968.2 L1421.3 1973.7 L1423.6 1979.3 L1426 1984.8 L1428.3 1990.4 L1430.7 1995.9 L1433 2001.5 L1435.4 2007 L1437.7 2012.6 L1440 2018.1 L1442.4 2023.7 L1444.7 2029.2 L1447 2034.8 L1449.4 2040.3 L1451.7 2045.9 L1454 2051.4 L1456.3 2057 L1458.6 2062.6 L1460.9 2068.1 L1463.3 2073.7 L1465.6 2079.2 L1467 2082.7 L1467.9 2084.8 L1470.2 2090.4 L1472.5 2096 L1474.7 2101.5 L1477 2107.1 L1479.3 2112.7 L1481.5 2118.3 L1483.8 2123.9 L1486 2129.5 L1488.2 2135.1 L1490.5 2140.6 L1492.7 2146.2 L1495 2151.8 L1497.2 2157.4 L1499.4 2163 L1501.7 2168.6 L1503.9 2174.2 L1506.1 2179.8 L1508.4 2185.4 L1510.6 2191 L1512.9 2196.6 L1515.1 2202.2 L1517.4 2207.7 L1519.7 2213.3 L1522 2218.9 L1524.3 2224.5 L1526.6 2230 L1528.9 2235.6 L1531.2 2241.1 L1533.6 2246.7 L1535.9 2252.2 L1538.3 2257.7 L1539 2259.3 L1540.7 2263.3 L1543.1 2268.8 L1545.5 2274.3 L1548 2279.8 L1550.4 2285.3 L1552.9 2290.8 L1555.3 2296.3 L1557.8 2301.8 L1560.3 2307.3 L1562.8 2312.8 L1565.3 2318.2 L1567.8 2323.7 L1570.3 2329.2 L1572.8 2334.7 L1575.3 2340.1 L1577.9 2345.6 L1580.4 2351.1 L1583 2356.5 L1585.5 2362 L1588.1 2367.4 L1590.6 2372.9 L1593.2 2378.4 L1595.8 2383.8 L1598.3 2389.3 L1600.9 2394.7 L1603.5 2400.1 L1606.1 2405.6 L1608.6 2411 L1611 2416 L1611.2 2416.5 L1613.8 2421.9 L1616.4 2427.3 L1619 2432.8 L1621.6 2438.2 L1624.2 2443.6 L1626.8 2449.1 L1629.5 2454.5 L1632.1 2459.9 L1634.7 2465.3 L1637.3 2470.7 L1640 2476.2 L1642.6 2481.6 L1645.3 2487 L1647.9 2492.4 L1650.6 2497.8 L1653.3 2503.2 L1655.9 2508.6 L1658.6 2514 L1661.3 2519.4 L1664 2524.8 L1666.6 2530.2 L1669.3 2535.6 L1672 2541 L1674.7 2546.3 L1677.4 2551.7 L1680.1 2557.1 L1682.8 2562.5 L1683 2562.9 L1685.5 2567.9 L1688.2 2573.3 L1690.9 2578.6 L1693.7 2584 L1696.4 2589.4 L1699.1 2594.7 L1701.9 2600.1 L1704.6 2605.4 L1707.4 2610.8 L1710.2 2616.2 L1712.9 2621.5 L1715.7 2626.9 L1718.5 2632.2 L1721.2 2637.6 L1724 2642.9 L1726.8 2648.3 L1729.5 2653.6 L1732.3 2659 L1735.1 2664.3 L1737.8 2669.7 L1740.6 2675 L1743.3 2680.4 L1746.1 2685.7 L1748.8 2691.1 L1751.5 2696.5 L1754.3 2701.8 L1755 2703.3 L1757 2707.2 L1759.7 2712.6 L1762.4 2718 L1765.1 2723.4 L1767.8 2728.7 L1770.5 2734.1 L1773.2 2739.5 L1775.9 2744.9 L1778.6 2750.3 L1781.3 2755.7 L1784 2761 L1786.7 2766.4 L1789.4 2771.8 L1792.1 2777.2 L1794.8 2782.6 L1797.5 2788 L1800.2 2793.4 L1802.8 2798.8 L1805.5 2804.2 L1808.2 2809.6 L1810.8 2815 L1813.5 2820.4 L1816.1 2825.8 L1818.8 2831.2 L1821.4 2836.6 L1824.1 2842 L1825 2844 L1826.7 2847.5 L1829.3 2852.9 L1832 2858.3 L1834.7 2863.7 L1837.3 2869.1 L1840 2874.5 L1842.7 2879.9 L1845.4 2885.3 L1848.1 2890.7 L1850.7 2896.1 L1853.4 2901.5 L1856.1 2906.9 L1858.7 2912.4 L1861.4 2917.8 L1864 2923.2 L1866.6 2928.6 L1869.2 2934.1 L1871.8 2939.5 L1874.4 2945 L1876.9 2950.4 L1879.4 2955.9 L1881.9 2961.4 L1884.4 2966.9 L1886.8 2972.4 L1889.2 2977.9 L1891.5 2983.4 L1893.9 2988.9 L1894 2989.3 L1896.1 2994.5 L1898.4 3000 L1900.7 3005.6 L1903 3011.2 L1905.2 3016.8 L1907.4 3022.3 L1909.7 3027.9 L1911.9 3033.5 L1914.1 3039.2 L1916.2 3044.8 L1918.4 3050.4 L1920.6 3056 L1922.7 3061.7 L1924.8 3067.3 L1927 3073 L1929.1 3078.6 L1931.1 3084.3 L1933.2 3089.9 L1935.3 3095.6 L1937.3 3101.3 L1939.4 3107 L1941.4 3112.7 L1943.4 3118.4 L1945.4 3124.1 L1947.3 3129.8 L1949.3 3135.5 L1951.2 3141.2 L1953.1 3146.9 L1955.1 3152.6 L1956.9 3158.3 L1958.8 3164.1 L1960.7 3169.8 L1962.5 3175.5 L1964.4 3181.3 L1966.2 3187 L1968 3192.7 L1969.7 3198.5 L1970.5 3201 L1971.5 3204.2 L1973.3 3210 L1975.1 3215.8 L1976.8 3221.6 L1978.3 3227.4 L1979.7 3233.3 L1980 3235 L1980.8 3239.1 L1981.8 3245.1 L1982.8 3251 L1983.7 3257 L1984.5 3262.9 L1985.3 3268.9 L1986 3274.9 L1986.7 3280.9 L1987.3 3286.9 L1987.8 3292.9 L1988 3295 L1988.3 3298.9 L1988.8 3304.9 L1989.2 3310.9 L1989.6 3316.9 L1990 3323 L1990.3 3329 L1990.5 3335 L1991.4 3335 L1992.9 1946 L1992.9 1946 L1993.2 1952 L1993.4 1958 L1993.7 1964 L1994 1970 L1994.4 1976 L1994.7 1982 L1995.1 1988 L1995.4 1994 L1995.8 2000 L1996.2 2006 L1996.6 2012 L1997 2018 L1997.5 2024 L1997.9 2030 L1998.4 2036 L1998.8 2042 L1999.3 2048 L1999.8 2054 L2000.3 2060 L2000.8 2066 L2001.3 2071.9 L2001.9 2077.9 L2002.4 2083.9 L2002.9 2089.9 L2003.5 2095.9 L2004 2101.8 L2004.6 2107.8 L2005.1 2113.8 L2005.7 2119.8 L2006.3 2125.8 L2006.5 2128 L2006.9 2131.7 L2007.5 2137.7 L2008.1 2143.7 L2008.7 2149.6 L2009.4 2155.6 L2010.1 2161.6 L2010.8 2167.6 L2011.6 2173.5 L2012.3 2179.5 L2013.1 2185.5 L2013.9 2191.4 L2014.7 2197.4 L2015.5 2203.3 L2016.3 2209.3 L2017.2 2215.2 L2018.1 2221.2 L2018.9 2227.1 L2019.8 2233.1 L2020.7 2239 L2021.6 2244.9 L2022 2247.4 L2022.5 2250.9 L2023.5 2256.8 L2024.5 2262.7 L2025.4 2268.6 L2026.5 2274.6 L2027.5 2280.5 L2028.6 2286.4 L2029.6 2292.3 L2030.8 2298.2 L2031.9 2304.1 L2033 2310 L2034.2 2315.9 L2035.4 2321.8 L2036.6 2327.7 L2037.8 2333.6 L2039 2339.5 L2040.3 2345.4 L2041.5 2351.2 L2042.8 2357.1 L2042.9 2357.5 L2044.1 2363 L2045.4 2368.8 L2046.8 2374.7 L2048.1 2380.6 L2049.5 2386.4 L2050.9 2392.3 L2052.4 2398.1 L2053.9 2404 L2055.4 2409.8 L2056.9 2415.6 L2058.5 2421.4 L2060.2 2427.2 L2061.9 2432.9 L2063.6 2438.6 L2064.3 2440.8 L2065.4 2444.3 L2067.3 2450 L2069.2 2455.7 L2071.2 2461.3 L2073.2 2467 L2075.3 2472.6 L2077.4 2478.3 L2079.6 2483.9 L2081.8 2489.5 L2084 2495.1 L2086.4 2500.7 L2088.7 2506.2 L2091.1 2511.8 L2093.5 2517.3 L2096 2522.8 L2098.4 2528.3 L2101 2533.8 L2103.5 2539.2 L2106.1 2544.7 L2108.6 2550.1 L2111.2 2555.5 L2113.4 2559.9 L2113.9 2560.9 L2116.6 2566.2 L2119.5 2571.4 L2122.5 2576.6 L2125.6 2581.8 L2128.6 2587 L2131.7 2592.2 L2134.6 2597.5 L2135.9 2600 L2137.4 2602.8 L2140.1 2608.1 L2142.8 2613.5 L2145.5 2618.8 L2148.2 2624.2 L2150.9 2629.6 L2153.5 2635 L2156.1 2640.4 L2158.7 2645.8 L2161.3 2651.3 L2163.9 2656.7 L2166.4 2662.2 L2169 2667.6 L2171.5 2673.1 L2174 2678.6 L2176.4 2684 L2178.9 2689.5 L2181.3 2695 L2183.8 2700.5 L2186.2 2706 L2186.5 2706.7 L2188.6 2711.5 L2191 2717 L2193.3 2722.5 L2195.6 2728.1 L2197.9 2733.6 L2200.2 2739.1 L2202.5 2744.7 L2204.8 2750.3 L2207 2755.8 L2209.2 2761.4 L2211.5 2767 L2213.7 2772.6 L2215.9 2778.2 L2218.1 2783.8 L2220.3 2789.4 L2222.4 2795 L2224.6 2800.6 L2226.8 2806.2 L2229 2811.8 L2231.2 2817.4 L2233.4 2823 L2235.6 2828.6 L2237.8 2834.2 L2240 2839.8 L2242.2 2845.3 L2244.5 2850.9 L2246.7 2856.5 L2249 2862 L2249 2862 L2251.3 2867.6 L2253.7 2873.1 L2254.8 2876 L2255.9 2878.7 L2258 2884.3 L2260 2890" fill="none" stroke="#858585" stroke-width="9.7" stroke-linejoin="round"/>
<rect x="447.5" y="1979.7" width="22.9" height="22.9" fill="#858585"/>
<rect x="519.5" y="2146" width="22.9" height="22.9" fill="#858585"/>
<rect x="591.5" y="2345.9" width="22.9" height="22.9" fill="#858585"/>
<rect x="663.5" y="2599" width="22.9" height="22.9" fill="#858585"/>
<rect x="735.5" y="2882.3" width="22.9" height="22.9" fill="#858585"/>
<rect x="807.5" y="3138.3" width="22.9" height="22.9" fill="#858585"/>
<rect x="879.5" y="1968" width="22.9" height="22.9" fill="#858585"/>
<rect x="951.5" y="2172.4" width="22.9" height="22.9" fill="#858585"/>
<rect x="1023.5" y="2364.8" width="22.9" height="22.9" fill="#858585"/>
<rect x="1095.5" y="2548.2" width="22.9" height="22.9" fill="#858585"/>
<rect x="1167.5" y="2727.7" width="22.9" height="22.9" fill="#858585"/>
<rect x="1239.5" y="2912.1" width="22.9" height="22.9" fill="#858585"/>
<rect x="1311.5" y="3096.5" width="22.9" height="22.9" fill="#858585"/>
<rect x="1383.5" y="3284.1" width="22.9" height="22.9" fill="#858585"/>
<rect x="1455.5" y="2071.2" width="22.9" height="22.9" fill="#858585"/>
<rect x="1527.5" y="2247.8" width="22.9" height="22.9" fill="#858585"/>
<rect x="1599.5" y="2404.5" width="22.9" height="22.9" fill="#858585"/>
<rect x="1671.5" y="2551.4" width="22.9" height="22.9" fill="#858585"/>
<rect x="1743.5" y="2691.8" width="22.9" height="22.9" fill="#858585"/>
<rect x="1815.5" y="2836.6" width="22.9" height="22.9" fill="#858585"/>
<rect x="1887.5" y="2990" width="22.9" height="22.9" fill="#858585"/>
<rect x="1959.5" y="3191.2" width="22.9" height="22.9" fill="#858585"/>
<rect x="2031.5" y="2346.5" width="22.9" height="22.9" fill="#858585"/>
<rect x="2103.5" y="2551.6" width="22.9" height="22.9" fill="#858585"/>
<rect x="2175.5" y="2696.4" width="22.9" height="22.9" fill="#858585"/>
<rect x="2243.3" y="2864.5" width="22.9" height="22.9" fill="#858585"/>
</g>
<path d="M1479.8 2853H1720.2" stroke="#0a0a0a" stroke-width="9.7" stroke-linecap="round" fill="none"/>
<rect x="1590.1" y="2842.3" width="21.3" height="21.3" fill="#f6f6f6" stroke="#9a9a9a" stroke-width="1.6"/>
<path d="M1479.8 2987H1720.2" stroke="#fb0909" stroke-width="9.7" stroke-linecap="round" fill="none"/>
<circle cx="1600.8" cy="2987" r="11.2" fill="#fff3f3" stroke="#ff9a9a" stroke-width="1.6"/>
<path d="M1479.8 3120.8H1720.2" stroke="#0909fb" stroke-width="9.7" stroke-linecap="round" fill="none"/>
<path d="M1600.8 3107.1 L1614.3 3130 L1587.3 3130 Z" fill="#f3f3ff" stroke="#9a9aff" stroke-width="1.6"/>
<path d="M1479.8 3255H1720.2" stroke="#858585" stroke-width="9.7" stroke-linecap="round" fill="none"/>
<rect x="1589.3" y="3243.5" width="22.9" height="22.9" fill="#858585"/>
<text x="1744.5" y="2889.8" font-size="92.2" font-weight="normal" text-anchor="start" fill="#000" textLength="249" lengthAdjust="spacingAndGlyphs">40 µm</text>
<text x="1744.5" y="3022.8" font-size="92.2" font-weight="normal" text-anchor="start" fill="#000" textLength="249" lengthAdjust="spacingAndGlyphs">45 µm</text>
<text x="1744.5" y="3155.7" font-size="92.2" font-weight="normal" text-anchor="start" fill="#000" textLength="249" lengthAdjust="spacingAndGlyphs">50 µm</text>
<text x="1744.5" y="3290.6" font-size="92.2" font-weight="normal" text-anchor="start" fill="#000" textLength="249" lengthAdjust="spacingAndGlyphs">55 µm</text>
<text x="343" y="1966.5" font-size="92.2" font-weight="bold" text-anchor="end" fill="#000" textLength="143.7" lengthAdjust="spacingAndGlyphs" stroke="#fff" stroke-width="1.7" stroke-linejoin="round">180</text>
<text x="343" y="2198" font-size="92.2" font-weight="bold" text-anchor="end" fill="#000" textLength="143.7" lengthAdjust="spacingAndGlyphs" stroke="#fff" stroke-width="1.7" stroke-linejoin="round">120</text>
<text x="343" y="2429.5" font-size="92.2" font-weight="bold" text-anchor="end" fill="#000" textLength="95.8" lengthAdjust="spacingAndGlyphs" stroke="#fff" stroke-width="1.7" stroke-linejoin="round">60</text>
<text x="343" y="2661" font-size="92.2" font-weight="bold" text-anchor="end" fill="#000" textLength="47.9" lengthAdjust="spacingAndGlyphs" stroke="#fff" stroke-width="1.7" stroke-linejoin="round">0</text>
<text x="343" y="2892.5" font-size="92.2" font-weight="bold" text-anchor="end" fill="#000" textLength="127.7" lengthAdjust="spacingAndGlyphs" stroke="#fff" stroke-width="1.7" stroke-linejoin="round">-60</text>
<text x="343" y="3124" font-size="92.2" font-weight="bold" text-anchor="end" fill="#000" textLength="175.6" lengthAdjust="spacingAndGlyphs" stroke="#fff" stroke-width="1.7" stroke-linejoin="round">-120</text>
<text x="343" y="3355.5" font-size="92.2" font-weight="bold" text-anchor="end" fill="#000" textLength="175.6" lengthAdjust="spacingAndGlyphs" stroke="#fff" stroke-width="1.7" stroke-linejoin="round">-180</text>
<text x="388.1" y="3443.5" font-size="92.2" font-weight="bold" text-anchor="middle" fill="#000" textLength="117.5" lengthAdjust="spacingAndGlyphs" stroke="#fff" stroke-width="1.7" stroke-linejoin="round">0.2</text>
<text x="921.7" y="3443.5" font-size="92.2" font-weight="bold" text-anchor="middle" fill="#000" textLength="117.5" lengthAdjust="spacingAndGlyphs" stroke="#fff" stroke-width="1.7" stroke-linejoin="round">0.4</text>
<text x="1455.2" y="3443.5" font-size="92.2" font-weight="bold" text-anchor="middle" fill="#000" textLength="117.5" lengthAdjust="spacingAndGlyphs" stroke="#fff" stroke-width="1.7" stroke-linejoin="round">0.6</text>
<text x="1988.8" y="3443.5" font-size="92.2" font-weight="bold" text-anchor="middle" fill="#000" textLength="117.5" lengthAdjust="spacingAndGlyphs" stroke="#fff" stroke-width="1.7" stroke-linejoin="round">0.8</text>
<text x="121" y="2592" font-size="97" font-weight="bold" text-anchor="middle" fill="#000" textLength="476.5" lengthAdjust="spacingAndGlyphs" transform="rotate(-90 121 2592)" stroke="#fff" stroke-width="1.7" stroke-linejoin="round">Phase (deg)</text>
<text x="1319.5" y="3618" font-size="96" font-weight="bold" text-anchor="middle" fill="#000" textLength="700" lengthAdjust="spacingAndGlyphs" stroke="#fff" stroke-width="1.7" stroke-linejoin="round">Frequency (THz)</text>
<text x="1139.7" y="3747.6" font-size="78" text-anchor="middle" textLength="95" lengthAdjust="spacingAndGlyphs" fill="#000">(<tspan font-weight="bold">b</tspan>)</text>
</g>
</svg>
</body>
</html>
